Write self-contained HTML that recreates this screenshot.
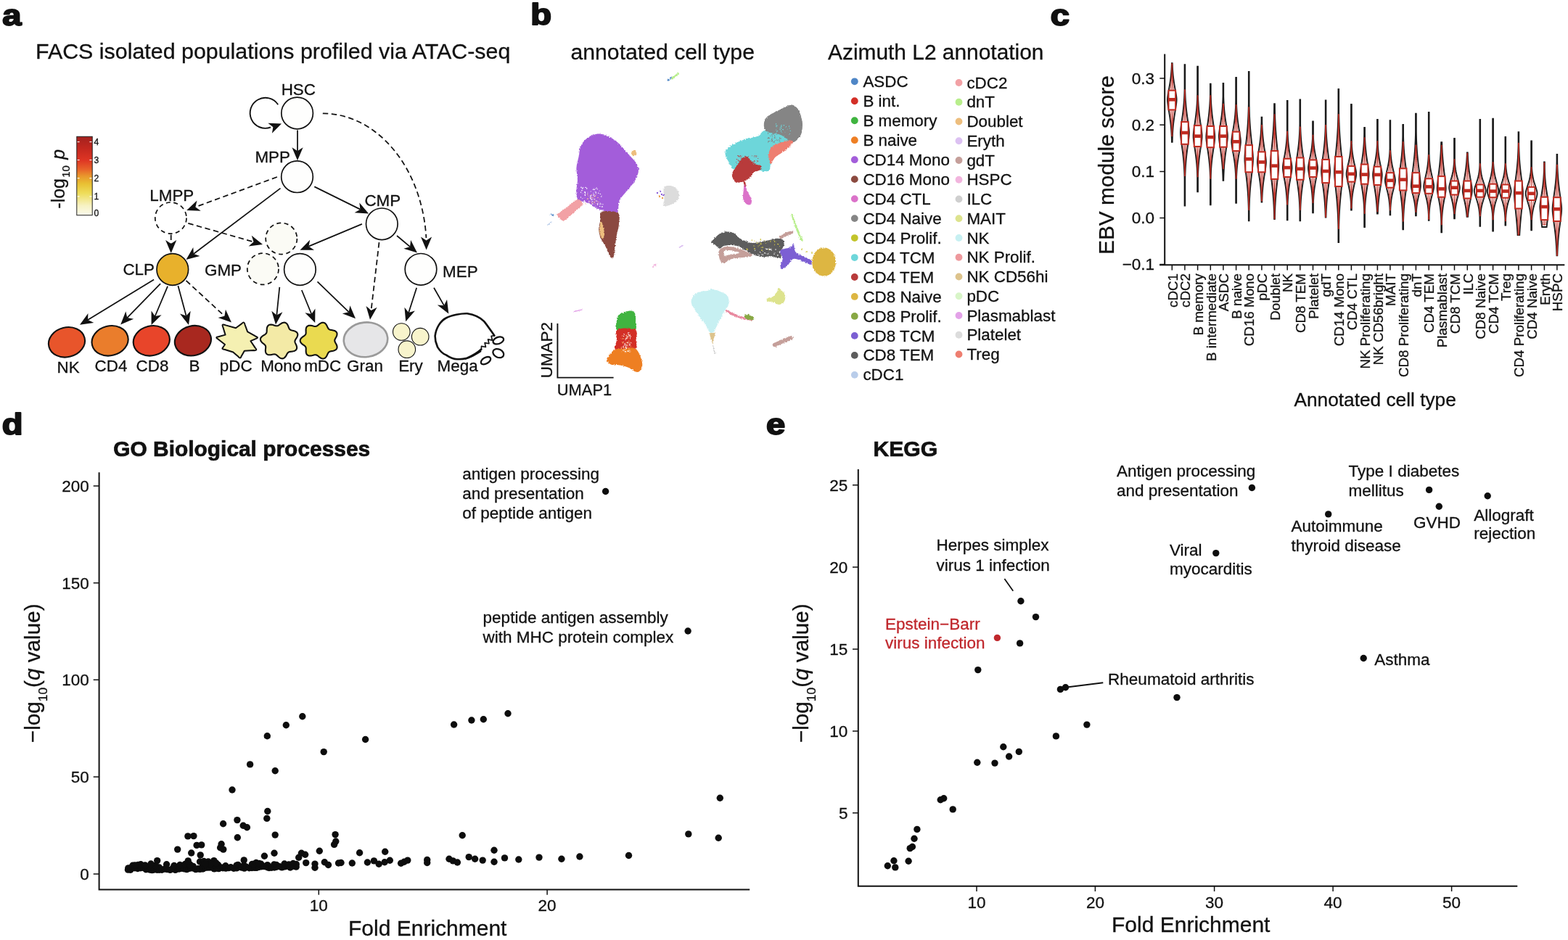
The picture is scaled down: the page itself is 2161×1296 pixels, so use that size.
<!DOCTYPE html>
<html><head><meta charset="utf-8"><title>Figure</title>
<style>
html,body{margin:0;padding:0;background:#fff;width:2161px;height:1296px;overflow:hidden;}
svg{display:block;}
text{font-family:"Liberation Sans", Arial, Helvetica, sans-serif;fill:#111;stroke:#111;stroke-width:0.3px;}
</style></head><body>
<svg width="2161" height="1296" viewBox="0 0 2161 1296">
<rect width="2161" height="1296" fill="#fff"/>
<text transform="translate(2 34.9) scale(1.15 1)" font-size="41" font-weight="bold" style="stroke-width:2px;stroke-linejoin:round" x="1" y="0">a</text>
<text x="49" y="80.8" font-size="30.4">FACS isolated populations profiled via ATAC-seq</text>
<defs><linearGradient id="cbar" x1="0" y1="1" x2="0" y2="0">
<stop offset="0" stop-color="#FBFAEC"/><stop offset="0.12" stop-color="#F7F2C4"/>
<stop offset="0.28" stop-color="#EEDD5A"/><stop offset="0.40" stop-color="#E9C033"/>
<stop offset="0.50" stop-color="#E9962C"/><stop offset="0.58" stop-color="#E8652A"/>
<stop offset="0.70" stop-color="#DE3524"/><stop offset="0.85" stop-color="#C3281F"/>
<stop offset="1" stop-color="#A3221F"/></linearGradient></defs>
<rect x="105.8" y="188.3" width="21.4" height="108.4" fill="url(#cbar)" stroke="#222" stroke-width="1"/>
<line x1="106.6" y1="270.9" x2="109.6" y2="270.9" stroke="#fff" stroke-width="1.1"/>
<line x1="123.4" y1="270.9" x2="126.4" y2="270.9" stroke="#fff" stroke-width="1.1"/>
<line x1="106.6" y1="245.7" x2="109.6" y2="245.7" stroke="#fff" stroke-width="1.1"/>
<line x1="123.4" y1="245.7" x2="126.4" y2="245.7" stroke="#fff" stroke-width="1.1"/>
<line x1="106.6" y1="220.6" x2="109.6" y2="220.6" stroke="#fff" stroke-width="1.1"/>
<line x1="123.4" y1="220.6" x2="126.4" y2="220.6" stroke="#fff" stroke-width="1.1"/>
<line x1="106.6" y1="195.6" x2="109.6" y2="195.6" stroke="#fff" stroke-width="1.1"/>
<line x1="123.4" y1="195.6" x2="126.4" y2="195.6" stroke="#fff" stroke-width="1.1"/>
<text x="129.4" y="199.9" font-size="12.2">4</text>
<text x="129.4" y="224.9" font-size="12.2">3</text>
<text x="129.4" y="250" font-size="12.2">2</text>
<text x="129.4" y="275.2" font-size="12.2">1</text>
<text x="129.4" y="297.8" font-size="12.2">0</text>
<text transform="translate(88.6 287.7) rotate(-90)" font-size="25">-log<tspan font-size="15" dy="7.3" dx="1.2">10</tspan><tspan dy="-7.3"> </tspan><tspan font-style="italic" dx="1.5">p</tspan></text>
<path d="M383.2 144.3 A21 21 0 1 0 373 175.5" fill="none" stroke="#111" stroke-width="1.9"/>
<path d="M388 170.6 L374.92 183.85 L376.35 175.14 L369.4 169.69Z" fill="#111"/>
<path d="M444.8 156.5 A142.6 185 0 0 1 587.4 328" fill="none" stroke="#111" stroke-width="1.75" stroke-dasharray="7.5 4.5"/>
<path d="M587.6 344.5 L579.93 326.53 L587.55 331.5 L595.13 326.47Z" fill="#111"/>
<line x1="410" y1="179.6" x2="410" y2="208.3" stroke="#111" stroke-width="1.75"/><path d="M410 221.3 L402.4 203.3 L410 208.3 L417.6 203.3Z" fill="#111"/>
<line x1="381.9" y1="244" x2="269.4" y2="285.41" stroke="#111" stroke-width="1.75" stroke-dasharray="7.5 4.5"/><path d="M257.2 289.9 L271.47 276.55 L269.4 285.41 L276.72 290.81Z" fill="#111"/>
<line x1="386.5" y1="259.6" x2="266.87" y2="350.06" stroke="#111" stroke-width="1.75"/><path d="M256.5 357.9 L266.27 340.98 L266.87 350.06 L275.44 353.11Z" fill="#111"/>
<line x1="433.3" y1="257.4" x2="496.45" y2="288.64" stroke="#111" stroke-width="1.75"/><path d="M508.1 294.4 L488.6 293.23 L496.45 288.64 L495.34 279.61Z" fill="#111"/>
<line x1="235.7" y1="323.5" x2="235.7" y2="336" stroke="#111" stroke-width="1.75" stroke-dasharray="7.5 4.5"/><path d="M235.7 349 L228.1 331 L235.7 336 L243.3 331Z" fill="#111"/>
<line x1="259.3" y1="307.9" x2="349.49" y2="333.46" stroke="#111" stroke-width="1.75" stroke-dasharray="7.5 4.5"/><path d="M362 337 L342.61 339.41 L349.49 333.46 L346.75 324.78Z" fill="#111"/>
<line x1="498.9" y1="308.9" x2="425.49" y2="339.67" stroke="#111" stroke-width="1.75"/><path d="M413.5 344.7 L427.16 330.73 L425.49 339.67 L433.04 344.75Z" fill="#111"/>
<line x1="547" y1="325" x2="565.04" y2="340.14" stroke="#111" stroke-width="1.75"/><path d="M575 348.5 L556.33 342.75 L565.04 340.14 L566.1 331.11Z" fill="#111"/>
<line x1="522.5" y1="334.2" x2="511.51" y2="427.89" stroke="#111" stroke-width="1.75" stroke-dasharray="7.5 4.5"/><path d="M510 440.8 L504.55 422.04 L511.51 427.89 L519.64 423.81Z" fill="#111"/>
<line x1="212.1" y1="385.6" x2="121.1" y2="441.04" stroke="#111" stroke-width="1.75"/><path d="M110 447.8 L121.42 431.94 L121.1 441.04 L129.33 444.93Z" fill="#111"/>
<line x1="221.1" y1="391.1" x2="175.28" y2="438.09" stroke="#111" stroke-width="1.75"/><path d="M166.2 447.4 L173.33 429.21 L175.28 438.09 L184.21 439.82Z" fill="#111"/>
<line x1="231.1" y1="394.6" x2="213.65" y2="436.02" stroke="#111" stroke-width="1.75"/><path d="M208.6 448 L208.59 428.46 L213.65 436.02 L222.59 434.36Z" fill="#111"/>
<line x1="245.4" y1="393.9" x2="256.61" y2="435.45" stroke="#111" stroke-width="1.75"/><path d="M260 448 L247.97 432.6 L256.61 435.45 L262.65 428.64Z" fill="#111"/>
<line x1="256.5" y1="386.9" x2="309.45" y2="435.78" stroke="#111" stroke-width="1.75" stroke-dasharray="7.5 4.5"/><path d="M319 444.6 L300.62 437.97 L309.45 435.78 L310.93 426.81Z" fill="#111"/>
<line x1="385.3" y1="395.8" x2="381.33" y2="434.57" stroke="#111" stroke-width="1.75"/><path d="M380 447.5 L374.28 428.82 L381.33 434.57 L389.4 430.37Z" fill="#111"/>
<line x1="415.8" y1="400" x2="429.28" y2="432.97" stroke="#111" stroke-width="1.75"/><path d="M434.2 445 L420.35 431.22 L429.28 432.97 L434.42 425.46Z" fill="#111"/>
<line x1="437.5" y1="388.3" x2="480.67" y2="430.15" stroke="#111" stroke-width="1.75"/><path d="M490 439.2 L471.79 432.13 L480.67 430.15 L482.37 421.21Z" fill="#111"/>
<line x1="574.2" y1="396.7" x2="563.18" y2="430.93" stroke="#111" stroke-width="1.75"/><path d="M559.2 443.3 L557.48 423.84 L563.18 430.93 L571.95 428.49Z" fill="#111"/>
<line x1="598" y1="396.7" x2="611.89" y2="421.19" stroke="#111" stroke-width="1.75"/><path d="M618.3 432.5 L602.81 420.59 L611.89 421.19 L616.03 413.09Z" fill="#111"/>
<circle cx="409.6" cy="156" r="21.8" fill="#FEFEFD" stroke="#111" stroke-width="1.7"/>
<circle cx="409.5" cy="243.7" r="21.8" fill="#FEFEFD" stroke="#111" stroke-width="1.7"/>
<circle cx="526.3" cy="308.8" r="21.8" fill="#FEFEFD" stroke="#111" stroke-width="1.7"/>
<circle cx="413.4" cy="371.5" r="21.8" fill="#FEFEFD" stroke="#111" stroke-width="1.7"/>
<circle cx="580" cy="371.3" r="21.8" fill="#FEFEFD" stroke="#111" stroke-width="1.7"/>
<circle cx="235.4" cy="300.6" r="21.6" fill="#FFFFFF" stroke="#111" stroke-width="1.7" stroke-dasharray="6 4.5"/>
<circle cx="362.4" cy="370.8" r="21.6" fill="#FBFBF5" stroke="#111" stroke-width="1.7" stroke-dasharray="6 4.5"/>
<circle cx="387.8" cy="329" r="21.6" fill="#FBFBF5" stroke="#111" stroke-width="1.7" stroke-dasharray="6 4.5"/>
<circle cx="237.8" cy="371.5" r="21.8" fill="#E8B12C" stroke="#111" stroke-width="1.7"/>
<text x="387.7" y="130.6" font-size="22.4">HSC</text>
<text x="351.4" y="223.7" font-size="22.4">MPP</text>
<text x="206.3" y="277" font-size="22.4">LMPP</text>
<text x="502.4" y="284.3" font-size="22.4">CMP</text>
<text x="169.4" y="379.4" font-size="22.4">CLP</text>
<text x="282" y="380" font-size="22.4">GMP</text>
<text x="610.1" y="382" font-size="22.4">MEP</text>
<ellipse cx="92" cy="471.8" rx="25.3" ry="20.4" fill="#E8552B" stroke="#111" stroke-width="2.1" transform="rotate(-14 92 471.8)"/>
<ellipse cx="151.6" cy="469.8" rx="25.3" ry="20.4" fill="#EA7D2C" stroke="#111" stroke-width="2.1" transform="rotate(-14 151.6 469.8)"/>
<ellipse cx="208.8" cy="469.8" rx="25.3" ry="20.4" fill="#E8452A" stroke="#111" stroke-width="2.1" transform="rotate(-14 208.8 469.8)"/>
<ellipse cx="265.9" cy="469.7" rx="25.3" ry="20.4" fill="#A8281F" stroke="#111" stroke-width="2.1" transform="rotate(-14 265.9 469.7)"/>
<path d="M310.55 461.65 L307.26 450.81 Q304.87 445.71 311.01 448.36 L325 452.24 L333.29 446.14 Q336.78 442.53 337.49 447.48 L341.15 457.37 L351.92 463.46 Q357.45 465.43 353.03 466.8 L345.43 470.21 L351.77 479.6 Q355.64 483.76 349.55 483.11 L336.87 483.69 L332.6 491.32 Q331.37 495.53 328.54 491.79 L321.25 485.51 L310.04 481.95 Q304.87 481.43 307.12 479.23 L310.02 475.03 L300.75 467.68 Q295.75 464.9 300.89 464.2 L310.55 461.65Z" fill="#F5F0B2" stroke="#111" stroke-width="2" stroke-linejoin="round"/>
<path d="M406.73 469.2 L406.5 469.91 L406.41 470.61 L406.46 471.32 L406.64 472.06 L406.92 472.84 L407.29 473.66 L407.7 474.53 L408.13 475.44 L408.52 476.4 L408.84 477.37 L409.05 478.36 L409.13 479.32 L409.05 480.25 L408.8 481.12 L408.37 481.91 L407.78 482.6 L407.04 483.18 L406.17 483.66 L405.21 484.03 L404.19 484.3 L403.13 484.5 L402.09 484.64 L401.08 484.75 L400.13 484.87 L399.26 485.03 L398.48 485.24 L397.79 485.54 L397.19 485.94 L396.66 486.46 L396.17 487.08 L395.73 487.8 L395.28 488.61 L394.82 489.48 L394.33 490.37 L393.78 491.25 L393.16 492.08 L392.47 492.83 L391.71 493.45 L390.89 493.92 L390.01 494.22 L389.09 494.34 L388.15 494.28 L387.21 494.04 L386.29 493.65 L385.4 493.12 L384.55 492.5 L383.75 491.82 L382.99 491.13 L382.28 490.45 L381.6 489.84 L380.94 489.31 L380.27 488.89 L379.59 488.6 L378.88 488.43 L378.11 488.39 L377.28 488.44 L376.39 488.58 L375.44 488.76 L374.43 488.96 L373.39 489.13 L372.32 489.25 L371.26 489.28 L370.24 489.19 L369.28 488.97 L368.4 488.6 L367.64 488.09 L367.01 487.44 L366.52 486.67 L366.17 485.79 L365.96 484.83 L365.86 483.82 L365.86 482.8 L365.93 481.78 L366.04 480.79 L366.14 479.85 L366.2 478.98 L366.19 478.17 L366.09 477.44 L365.87 476.76 L365.52 476.13 L365.05 475.53 L364.46 474.95 L363.77 474.37 L363 473.76 L362.21 473.12 L361.42 472.43 L360.68 471.69 L360.03 470.9 L359.5 470.07 L359.13 469.2 L358.93 468.31 L358.93 467.43 L359.12 466.55 L359.5 465.71 L360.05 464.92 L360.73 464.18 L361.52 463.5 L362.37 462.87 L363.25 462.3 L364.11 461.78 L364.92 461.27 L365.65 460.77 L366.27 460.26 L366.77 459.71 L367.15 459.11 L367.42 458.43 L367.58 457.68 L367.66 456.86 L367.7 455.95 L367.72 454.99 L367.76 453.98 L367.85 452.96 L368.01 451.95 L368.28 450.99 L368.67 450.09 L369.18 449.31 L369.81 448.65 L370.57 448.14 L371.43 447.78 L372.37 447.59 L373.38 447.54 L374.42 447.63 L375.46 447.82 L376.5 448.09 L377.5 448.4 L378.45 448.71 L379.35 448.99 L380.2 449.2 L380.99 449.32 L381.74 449.32 L382.46 449.19 L383.18 448.93 L383.89 448.55 L384.63 448.07 L385.4 447.52 L386.21 446.93 L387.07 446.33 L387.97 445.78 L388.91 445.3 L389.87 444.93 L390.83 444.71 L391.79 444.65 L392.71 444.77 L393.59 445.07 L394.39 445.54 L395.12 446.16 L395.75 446.92 L396.31 447.78 L396.78 448.69 L397.19 449.64 L397.55 450.58 L397.88 451.47 L398.22 452.3 L398.58 453.04 L399 453.67 L399.49 454.2 L400.08 454.64 L400.76 454.99 L401.54 455.27 L402.42 455.52 L403.37 455.75 L404.37 455.99 L405.4 456.28 L406.4 456.63 L407.36 457.05 L408.23 457.57 L408.98 458.18 L409.58 458.89 L410 459.68 L410.25 460.53 L410.32 461.44 L410.21 462.38 L409.95 463.34 L409.56 464.28 L409.09 465.2 L408.56 466.08 L408.02 466.92 L407.51 467.72 L407.07 468.48Z" fill="#F3EAA6" stroke="#111" stroke-width="2.1" stroke-linejoin="round"/>
<path d="M461.26 469.6 L461.34 470.31 L461.56 471.03 L461.88 471.78 L462.29 472.57 L462.76 473.41 L463.25 474.29 L463.71 475.22 L464.11 476.17 L464.4 477.13 L464.56 478.1 L464.57 479.03 L464.4 479.92 L464.05 480.74 L463.52 481.48 L462.84 482.12 L462.02 482.66 L461.1 483.1 L460.1 483.45 L459.07 483.72 L458.03 483.93 L457.03 484.11 L456.08 484.29 L455.21 484.49 L454.44 484.75 L453.76 485.08 L453.17 485.51 L452.67 486.04 L452.23 486.68 L451.82 487.42 L451.44 488.25 L451.04 489.13 L450.61 490.05 L450.13 490.97 L449.58 491.85 L448.95 492.64 L448.25 493.33 L447.46 493.87 L446.62 494.25 L445.71 494.45 L444.78 494.46 L443.82 494.3 L442.88 493.98 L441.95 493.53 L441.05 492.97 L440.2 492.35 L439.39 491.71 L438.63 491.07 L437.91 490.49 L437.21 490 L436.52 489.61 L435.82 489.35 L435.1 489.21 L434.33 489.2 L433.52 489.29 L432.65 489.48 L431.72 489.71 L430.73 489.97 L429.7 490.22 L428.65 490.41 L427.59 490.52 L426.56 490.51 L425.58 490.37 L424.67 490.07 L423.86 489.63 L423.17 489.04 L422.62 488.31 L422.19 487.47 L421.9 486.53 L421.72 485.54 L421.64 484.52 L421.64 483.49 L421.67 482.5 L421.71 481.55 L421.72 480.67 L421.66 479.85 L421.52 479.11 L421.27 478.45 L420.89 477.83 L420.39 477.27 L419.77 476.72 L419.06 476.18 L418.26 475.63 L417.43 475.04 L416.59 474.41 L415.79 473.72 L415.07 472.98 L414.47 472.19 L414.02 471.35 L413.75 470.48 L413.66 469.6 L413.77 468.72 L414.07 467.85 L414.54 467.02 L415.16 466.23 L415.89 465.49 L416.69 464.81 L417.52 464.18 L418.35 463.6 L419.13 463.04 L419.84 462.5 L420.43 461.95 L420.91 461.37 L421.27 460.75 L421.5 460.07 L421.62 459.32 L421.66 458.5 L421.64 457.6 L421.59 456.65 L421.56 455.65 L421.57 454.62 L421.65 453.6 L421.84 452.61 L422.15 451.69 L422.59 450.86 L423.16 450.15 L423.87 449.58 L424.69 449.15 L425.61 448.88 L426.6 448.75 L427.64 448.76 L428.7 448.87 L429.75 449.07 L430.77 449.31 L431.75 449.57 L432.67 449.79 L433.54 449.96 L434.34 450.04 L435.1 450 L435.82 449.84 L436.51 449.56 L437.2 449.15 L437.9 448.63 L438.63 448.04 L439.39 447.4 L440.2 446.75 L441.06 446.13 L441.95 445.59 L442.88 445.14 L443.83 444.84 L444.78 444.7 L445.72 444.74 L446.61 444.96 L447.45 445.36 L448.23 445.93 L448.93 446.63 L449.55 447.43 L450.09 448.32 L450.57 449.23 L451 450.15 L451.39 451.03 L451.79 451.84 L452.2 452.56 L452.65 453.18 L453.17 453.7 L453.77 454.11 L454.47 454.42 L455.26 454.66 L456.14 454.86 L457.09 455.03 L458.11 455.21 L459.14 455.42 L460.18 455.7 L461.17 456.05 L462.08 456.5 L462.89 457.05 L463.55 457.71 L464.05 458.46 L464.38 459.29 L464.53 460.18 L464.5 461.13 L464.33 462.09 L464.02 463.06 L463.61 464.01 L463.15 464.93 L462.67 465.8 L462.21 466.64 L461.81 467.42 L461.51 468.17 L461.32 468.89Z" fill="#EADA50" stroke="#111" stroke-width="2.1" stroke-linejoin="round"/>
<ellipse cx="504" cy="468.3" rx="30.3" ry="23.8" fill="#E6E6E8" stroke="#9A9A9A" stroke-width="2.6" transform="rotate(-6 504 468.3)"/>
<circle cx="553.3" cy="457.5" r="11.8" fill="#F8F4CC" stroke="#111" stroke-width="1.1"/>
<circle cx="579.2" cy="464.2" r="11.8" fill="#F8F4CC" stroke="#111" stroke-width="1.1"/>
<circle cx="560.8" cy="481.7" r="11.8" fill="#F8F4CC" stroke="#111" stroke-width="1.1"/>
<path d="M663.3 481.7 C656 488 650 491 642.5 494.1 C640 494.8 636 495.5 630.1 495.2 C625 495.2 620 493 614.7 489.4 C611 488 607 485 603.1 478.6 C601 474 599.5 471 599.6 463.2 C601 452 607 442.5 614.7 438.5 C622 434.5 636 432 644 432.3 C655 434 662 438 667.2 443.1 C672 449 678 458 681.4 462.8 L663.54 477.4 L669.41 478.5 L668.07 472.68 L673.94 473.77 L672.59 467.95 L678.46 469.05 L677.12 463.23 Z" fill="#fff"/>
<path d="M663.3 481.7 C656 488 650 491 642.5 494.1 C640 494.8 636 495.5 630.1 495.2 C625 495.2 620 493 614.7 489.4 C611 488 607 485 603.1 478.6 C601 474 599.5 471 599.6 463.2 C601 452 607 442.5 614.7 438.5 C622 434.5 636 432 644 432.3 C655 434 662 438 667.2 443.1 C672 449 678 458 681.4 462.8" fill="none" stroke="#111" stroke-width="2.6" stroke-linecap="round"/>
<path d="M681.4 462.8 L677.12 463.23 L678.46 469.05 L672.59 467.95 L673.94 473.77 L668.07 472.68 L669.41 478.5 L663.54 477.4 L663.3 481.7" fill="none" stroke="#111" stroke-width="1.7" stroke-linejoin="round"/>
<path d="M640 494.5 C648 491.5 655 487.5 662 481 L663.5 485 C656 490 648 494 641 496Z" fill="#111"/>
<ellipse cx="686.8" cy="469.4" rx="7.6" ry="4.6" fill="none" stroke="#111" stroke-width="2.3" transform="rotate(-20 686.8 469.4)"/>
<ellipse cx="686.8" cy="487.1" rx="7.8" ry="5.6" fill="none" stroke="#111" stroke-width="2.3" transform="rotate(25 686.8 487.1)"/>
<ellipse cx="669.5" cy="497.2" rx="7.4" ry="4.2" fill="none" stroke="#111" stroke-width="2.3" transform="rotate(-30 669.5 497.2)"/>
<text x="78.5" y="514" font-size="22.4">NK</text>
<text x="130.6" y="512" font-size="22.4">CD4</text>
<text x="187.6" y="512" font-size="22.4">CD8</text>
<text x="260.4" y="512" font-size="22.4">B</text>
<text x="302.8" y="512" font-size="22.4">pDC</text>
<text x="359.2" y="511.7" font-size="22.4">Mono</text>
<text x="419.2" y="511.7" font-size="22.4">mDC</text>
<text x="478.1" y="511.7" font-size="22.4">Gran</text>
<text x="549.2" y="511.7" font-size="22.4">Ery</text>
<text x="602.6" y="511.8" font-size="22.4">Mega</text>
<text transform="translate(730 34.4) scale(1.15 1)" font-size="41" font-weight="bold" style="stroke-width:2px;stroke-linejoin:round" x="1" y="0">b</text>
<text x="786.5" y="82.2" font-size="30.2">annotated cell type</text>
<text x="1141" y="82.4" font-size="29.9">Azimuth L2 annotation</text>
<defs><filter id="rough" x="-5%" y="-5%" width="110%" height="110%"><feTurbulence type="fractalNoise" baseFrequency="0.55" numOctaves="2" seed="3" result="n"/><feDisplacementMap in="SourceGraphic" in2="n" scale="3.2" xChannelSelector="R" yChannelSelector="G"/></filter></defs>
<g filter="url(#rough)">
<path d="M822.2 184.7 C826.32 184.05 830.38 184.8 834.5 186.2 C838.62 187.6 843.3 190.65 846.9 193.1 C850.5 195.55 853.02 197.8 856.1 200.9 C859.18 204 862.05 207.85 865.4 211.7 C868.75 215.55 873.77 220.15 876.2 224 C878.63 227.85 880 230.93 880 234.8 C880 238.67 878.12 243.33 876.2 247.2 C874.28 251.07 871.33 254.4 868.5 258 C865.67 261.6 861.78 265.47 859.2 268.8 C856.62 272.13 854.28 274.15 853 278 C851.72 281.85 853.03 289.32 851.5 291.9 C849.97 294.48 847.15 293.75 843.8 293.5 C840.45 293.25 835 291.43 831.4 290.4 C827.8 289.37 825.28 288.85 822.2 287.3 C819.12 285.75 816 282.65 812.9 281.1 C809.8 279.55 806.43 279.03 803.6 278 C800.77 276.97 797.43 277.47 795.9 274.9 C794.37 272.33 794.4 267.22 794.4 262.6 C794.4 257.98 795.9 252.35 795.9 247.2 C795.9 242.05 794.13 236.85 794.4 231.7 C794.67 226.55 796.47 221.43 797.5 216.3 C798.53 211.17 798.55 205.27 800.6 200.9 C802.65 196.53 806.2 192.8 809.8 190.1 C813.4 187.4 818.08 185.35 822.2 184.7Z" fill="#A35DDA"/>
<path d="M768.1 296.5 C768.62 298.57 773.32 303.78 775.9 304.3 C778.48 304.82 780.27 302.18 783.6 299.6 C786.93 297.02 792.57 291.88 795.9 288.8 C799.23 285.72 803.6 283.42 803.6 281.1 C803.6 278.78 798.98 274.63 795.9 274.9 C792.82 275.17 788.95 279.87 785.1 282.7 C781.25 285.53 775.63 289.6 772.8 291.9 C769.97 294.2 767.58 294.43 768.1 296.5Z" fill="#F2A1A5"/>
<path d="M829.1 291.9 C833.08 290.37 847.52 290.67 851.5 293.5 C855.48 296.33 853.27 303.77 853 308.9 C852.73 314.03 850.8 319.15 849.9 324.3 C849 329.45 848.37 334.65 847.6 339.8 C846.83 344.95 846.45 352.9 845.3 355.2 C844.15 357.5 842.5 356.17 840.7 353.6 C838.9 351.03 836.57 343.9 834.5 339.8 C832.43 335.7 829.85 332.87 828.3 329 C826.75 325.13 825.32 320.98 825.2 316.6 C825.08 312.22 826.95 306.82 827.6 302.7 C828.25 298.58 825.12 293.43 829.1 291.9Z" fill="#8B4A40"/>
<path d="M828.3 305.8 C829.2 304.78 830.62 308.92 831.4 312 C832.18 315.08 833.25 321.47 833 324.3 C832.75 327.13 831.07 330.03 829.9 329 C828.73 327.97 826.27 321.97 826 318.1 C825.73 314.23 827.4 306.82 828.3 305.8Z" fill="#EDBE7E"/>
<path d="M870 209 C870.67 207.83 874.83 207.33 876 208 C877.17 208.67 877.67 211.83 877 213 C876.33 214.17 873.17 215.67 872 215 C870.83 214.33 869.33 210.17 870 209Z" fill="#EDBE7E"/>
<line x1="759" y1="295" x2="763" y2="297.5" stroke="#4F86C6" stroke-width="1.6"/>
<line x1="754.3" y1="310.4" x2="760.4" y2="305.8" stroke="#B9CDEA" stroke-width="1.2"/>
<path d="M1052.2 180.5 C1054.3 179.38 1056.2 178.08 1060 178.5 C1063.8 178.92 1070.33 181 1075 183 C1079.67 185 1085.17 188.08 1088 190.5 C1090.83 192.92 1095.57 195.58 1092 197.5 C1088.43 199.42 1071.83 199.65 1066.6 202 C1061.37 204.35 1061.4 207.62 1060.6 211.6 C1059.8 215.58 1062 221.92 1061.8 225.9 C1061.6 229.88 1061.4 233.9 1059.4 235.5 C1057.4 237.1 1053.4 236.3 1049.8 235.5 C1046.2 234.7 1041.78 231.9 1037.8 230.7 C1033.82 229.5 1030.28 227.9 1025.9 228.3 C1021.52 228.7 1014.88 233.5 1011.5 233.1 C1008.12 232.7 1007.58 229.28 1005.6 225.9 C1003.62 222.52 1000.2 216.18 999.6 212.8 C999 209.42 999.62 208.2 1002 205.6 C1004.38 203 1009.32 199.6 1013.9 197.2 C1018.48 194.8 1024.92 192.6 1029.5 191.2 C1034.08 189.8 1038.42 189.8 1041.4 188.8 C1044.38 187.8 1045.6 186.58 1047.4 185.2 C1049.2 183.82 1050.1 181.62 1052.2 180.5Z" fill="#6DD6DA"/>
<path d="M1091.7 144.6 C1094.48 145.2 1097.92 147.82 1100 150.6 C1102.08 153.38 1103.2 157.92 1104.2 161.3 C1105.2 164.68 1105.9 167.32 1106 170.9 C1106.1 174.48 1105.6 179.62 1104.8 182.8 C1104 185.98 1102.98 187.8 1101.2 190 C1099.42 192.2 1096.28 195.2 1094.1 196 C1091.92 196.8 1090.3 196 1088.1 194.8 C1085.9 193.6 1083.3 190.4 1080.9 188.8 C1078.5 187.2 1076.88 186.2 1073.7 185.2 C1070.52 184.2 1064.98 183.78 1061.8 182.8 C1058.62 181.82 1056.1 181.28 1054.6 179.3 C1053.1 177.32 1052.6 173.7 1052.8 170.9 C1053 168.1 1053.9 164.9 1055.8 162.5 C1057.7 160.1 1061.22 158.3 1064.2 156.5 C1067.18 154.7 1070.52 153.28 1073.7 151.7 C1076.88 150.12 1080.3 148.18 1083.3 147 C1086.3 145.82 1088.92 144 1091.7 144.6Z" fill="#858585"/>
<path d="M1088.1 193.6 C1091.3 193.4 1093.3 194.2 1092.9 196 C1092.5 197.8 1088.5 201.8 1085.7 204.4 C1082.9 207 1079.08 209.42 1076.1 211.6 C1073.12 213.78 1069.98 215.12 1067.8 217.5 C1065.62 219.88 1064.2 224.9 1063 225.9 C1061.8 226.9 1061.2 225.88 1060.6 223.5 C1060 221.12 1058.8 215.18 1059.4 211.6 C1060 208.02 1061.82 204.4 1064.2 202 C1066.58 199.6 1069.72 198.6 1073.7 197.2 C1077.68 195.8 1084.9 193.8 1088.1 193.6Z" fill="#EE7E70"/>
<path d="M1029.5 216.3 C1032.48 217.5 1037.02 223.9 1040.2 225.9 C1043.38 227.9 1047.4 226.9 1048.6 228.3 C1049.8 229.7 1049.2 232.7 1047.4 234.3 C1045.6 235.9 1039.78 236.5 1037.8 237.9 C1035.82 239.3 1037.48 240.72 1035.5 242.7 C1033.52 244.68 1029.5 248.42 1025.9 249.8 C1022.3 251.18 1016.7 252.18 1013.9 251 C1011.1 249.82 1009.7 245.28 1009.1 242.7 C1008.5 240.12 1008.9 238.3 1010.3 235.5 C1011.7 232.7 1015.5 228.7 1017.5 225.9 C1019.5 223.1 1020.3 220.3 1022.3 218.7 C1024.3 217.1 1026.52 215.1 1029.5 216.3Z" fill="#B83B3B"/>
<line x1="1025.5" y1="250" x2="1027.5" y2="257" stroke="#B83B3B" stroke-width="2.5"/>
<path d="M1025.9 254.6 C1026.7 254.4 1027.9 258.22 1029.5 261.8 C1031.1 265.38 1034.7 272.72 1035.5 276.1 C1036.3 279.48 1035.5 281.3 1034.3 282.1 C1033.1 282.9 1030 282.28 1028.3 280.9 C1026.6 279.52 1024.7 276.78 1024.1 273.8 C1023.5 270.82 1024.4 266.2 1024.7 263 C1025 259.8 1025.1 254.8 1025.9 254.6Z" fill="#DB72C9"/>
<path d="M991 346 C993 340 1003 339 1012 341 C1022 343 1030 347 1038.3 351.6 C1035 355 1025 355 1018 355.5 C1008 356.5 1003 358 1000 363 L995 363 C991 358 990 352 991 346Z" fill="#C59F9A"/>
<path d="M997 346 C1003 344 1012 345 1020 349 C1012 351 1004 351 998 353Z" fill="#fff"/>
<path d="M980.3 334 C980.73 331.95 985.42 327.55 988.2 325.2 C990.98 322.85 993.33 320.63 997 319.9 C1000.67 319.17 1006.83 319.63 1010.2 320.8 C1013.57 321.97 1014.85 325.15 1017.2 326.9 C1019.55 328.65 1021.07 329.97 1024.3 331.3 C1027.53 332.63 1032.35 334.6 1036.6 334.9 C1040.85 335.2 1045.4 333.83 1049.8 333.1 C1054.2 332.37 1059.63 331.23 1063 330.5 C1066.37 329.77 1067.37 328.7 1070 328.7 C1072.63 328.7 1077.05 328.88 1078.8 330.5 C1080.55 332.12 1080.95 335.77 1080.5 338.4 C1080.05 341.03 1076.83 343.37 1076.1 346.3 C1075.37 349.23 1078.28 354.83 1076.1 356 C1073.92 357.17 1067.38 353.6 1063 353.3 C1058.62 353 1054.2 354.78 1049.8 354.2 C1045.4 353.62 1040.57 351.42 1036.6 349.8 C1032.63 348.18 1029.23 346.25 1026 344.5 C1022.77 342.75 1020.57 340.4 1017.2 339.3 C1013.83 338.2 1009.17 337.9 1005.8 337.9 C1002.43 337.9 999.35 338.48 997 339.3 C994.65 340.12 993.6 343.1 991.7 342.8 C989.8 342.5 987.5 338.97 985.6 337.5 C983.7 336.03 979.87 336.05 980.3 334Z" fill="#5D5D5D"/>
<path d="M1073.5 326.1 C1080 322 1086 319 1092.9 318.1 L1093.5 321.5 C1087 324 1081 327 1075.5 330Z" fill="#C59F9A"/>
<line x1="1091.5" y1="296.2" x2="1098" y2="315" stroke="#B8EE8C" stroke-width="2.6" stroke-linecap="round"/>
<line x1="1098" y1="315" x2="1105.2" y2="331.3" stroke="#B8EE8C" stroke-width="3" stroke-linecap="round"/>
<path d="M1075.3 345.4 C1077.05 342.77 1086.23 342.62 1089.3 341 C1092.37 339.38 1092.52 334.67 1093.7 335.7 C1094.88 336.73 1094.2 344.27 1096.4 347.2 C1098.6 350.13 1103.38 351.4 1106.9 353.3 C1110.42 355.2 1115.73 356.68 1117.5 358.6 C1119.27 360.52 1119.27 364.5 1117.5 364.8 C1115.73 365.1 1110.87 361.73 1106.9 360.4 C1102.93 359.07 1097.22 355.93 1093.7 356.8 C1090.18 357.67 1088.58 363.25 1085.8 365.6 C1083.02 367.95 1078.62 371.03 1077 370.9 C1075.38 370.77 1075.8 367.15 1076.1 364.8 C1076.4 362.45 1078.93 360.03 1078.8 356.8 C1078.67 353.57 1073.55 348.03 1075.3 345.4Z" fill="#7B5FD3"/>
<ellipse cx="1135.6" cy="361.2" rx="16.4" ry="19.6" fill="#DDB642"/>
<circle cx="1030" cy="344" r="0.9" fill="#D4C84A"/>
<circle cx="1040" cy="343" r="0.9" fill="#D4C84A"/>
<circle cx="1050" cy="345" r="0.9" fill="#D4C84A"/>
<circle cx="1060" cy="344" r="0.9" fill="#D4C84A"/>
<circle cx="1105" cy="344" r="0.9" fill="#D4C84A"/>
<circle cx="1112" cy="347" r="0.9" fill="#D4C84A"/>
<circle cx="1119" cy="348" r="0.9" fill="#D4C84A"/>
<path d="M981.5 398.6 C984.47 398.75 989.25 400.73 992.5 402 C995.75 403.27 999.02 404.37 1001 406.2 C1002.98 408.03 1003.97 410.45 1004.4 413 C1004.83 415.55 1004.45 419.1 1003.6 421.5 C1002.75 423.9 1000.87 424.72 999.3 427.4 C997.73 430.08 995.9 434.33 994.2 437.6 C992.5 440.87 990.93 443.6 989.1 447 C987.27 450.4 985.03 456.17 983.2 458 C981.37 459.83 979.8 459.55 978.1 458 C976.4 456.45 975.4 452.38 973 448.7 C970.6 445.02 966.67 440.15 963.7 435.9 C960.73 431.65 957.05 426.73 955.2 423.2 C953.35 419.67 952.32 417.53 952.6 414.7 C952.88 411.87 954.77 408.32 956.9 406.2 C959.03 404.08 962.43 402.85 965.4 402 C968.37 401.15 972.02 401.67 974.7 401.1 C977.38 400.53 978.53 398.45 981.5 398.6Z" fill="#C7F0F2"/>
<path d="M977.3 458.9 L985.7 458.9 L982.4 475Z" fill="#DDC38C"/>
<path d="M982.6 476 Q983 482 985.7 487.7" fill="none" stroke="#C9C9C9" stroke-width="1"/>
<path d="M1000 428 C1010 434 1022 440 1037 440.5" fill="none" stroke="#E8889E" stroke-width="3.2"/>
<path d="M1025.6 436 C1025.6 434.82 1028.6 433.57 1030 433.4 C1031.4 433.23 1032.6 434.4 1034 435 C1035.4 435.6 1037.67 436 1038.4 437 C1039.13 438 1039.8 440.42 1038.4 441 C1037 441.58 1032.13 441.33 1030 440.5 C1027.87 439.67 1025.6 437.18 1025.6 436Z" fill="#88A844"/>
<path d="M1073.2 396.9 C1074.77 397.18 1078.45 401.43 1080 403.7 C1081.55 405.97 1082.65 408.1 1082.5 410.5 C1082.35 412.9 1080.8 416.55 1079.1 418.1 C1077.4 419.65 1074.57 420.08 1072.3 419.8 C1070.03 419.52 1068.05 417.1 1065.5 416.4 C1062.95 415.7 1058.27 416.45 1057 415.6 C1055.73 414.75 1056.48 412.43 1057.9 411.3 C1059.32 410.17 1063.38 410.35 1065.5 408.8 C1067.62 407.25 1069.32 403.98 1070.6 402 C1071.88 400.02 1071.63 396.62 1073.2 396.9Z" fill="#DDE38E"/>
<line x1="1067.5" y1="475.5" x2="1090" y2="465.8" stroke="#C59F9A" stroke-width="5.5" stroke-linecap="round"/>
<path d="M855.8 432 C858.98 430.27 866.42 428.3 869.7 428.5 C872.98 428.7 874.45 430.5 875.5 433.2 C876.55 435.9 876.1 441.03 876 444.7 C875.9 448.37 879.05 453.45 874.9 455.2 C870.75 456.95 855.15 457.92 851.1 455.2 C847.05 452.48 849.82 442.77 850.6 438.9 C851.38 435.03 852.62 433.73 855.8 432Z" fill="#3FB43F"/>
<path d="M851.1 454.2 C855.35 451.92 871.25 451.92 875.5 454.2 C879.75 456.48 876.6 463.3 876.6 467.9 C876.6 472.5 878.97 478.72 875.5 481.8 C872.03 484.88 860.43 486.4 855.8 486.4 C851.17 486.4 848.67 484.88 847.7 481.8 C846.73 478.72 849.43 472.5 850 467.9 C850.57 463.3 846.85 456.48 851.1 454.2Z" fill="#D32F27"/>
<path d="M847.7 481.8 C851.25 480.35 857.37 480.2 862 480 C866.63 479.8 872.1 478.77 875.5 480.6 C878.9 482.43 880.77 487.33 882.4 491 C884.03 494.67 885.3 499.32 885.3 502.6 C885.3 505.88 883.85 508.97 882.4 510.7 C880.95 512.43 879.1 513.57 876.6 513 C874.1 512.43 870.87 508.83 867.4 507.3 C863.93 505.77 860.05 504.58 855.8 503.8 C851.55 503.02 845.18 503.95 841.9 502.6 C838.62 501.25 836.3 498.02 836.1 495.7 C835.9 493.38 838.77 491.02 840.7 488.7 C842.63 486.38 844.15 483.25 847.7 481.8Z" fill="#EE7F24"/>
<line x1="789" y1="430" x2="802.5" y2="426.8" stroke="#E3A2E8" stroke-width="1.3"/>
<path d="M916 257.5 C917.92 255.92 923 255.75 926 256.5 C929 257.25 932.33 259.75 934 262 C935.67 264.25 936.33 267.33 936 270 C935.67 272.67 934.33 275.83 932 278 C929.67 280.17 925 282.08 922 283 C919 283.92 915.08 284.67 914 283.5 C912.92 282.33 915.42 278.92 915.5 276 C915.58 273.08 914.42 269.08 914.5 266 C914.58 262.92 914.08 259.08 916 257.5Z" fill="#DCDCDC"/>
<circle cx="906" cy="266" r="1.2" fill="#8A5ED8"/>
<circle cx="910" cy="264" r="1.2" fill="#8A5ED8"/>
<circle cx="912" cy="268" r="1.2" fill="#8A5ED8"/>
<circle cx="909" cy="271" r="1.2" fill="#E8A050"/>
<circle cx="913" cy="273" r="1.2" fill="#E8A050"/>
<circle cx="915" cy="269" r="1.2" fill="#8A5ED8"/>
<line x1="920.5" y1="110.8" x2="925.5" y2="107.5" stroke="#4F86C6" stroke-width="2" stroke-linecap="round"/>
<line x1="926" y1="108.5" x2="934.8" y2="101.2" stroke="#B8EE8C" stroke-width="2.2" stroke-linecap="round"/>
<line x1="936.5" y1="341" x2="941" y2="338.5" stroke="#DCC1F2" stroke-width="1.6" stroke-linecap="round"/>
<line x1="900" y1="368" x2="904" y2="364.5" stroke="#F2B5DE" stroke-width="2" stroke-linecap="round"/>
<circle cx="813.57" cy="273.11" r="0.87" fill="#ffffff"/>
<circle cx="813.97" cy="271.71" r="0.73" fill="#ffffff"/>
<circle cx="805.54" cy="271.82" r="0.75" fill="#ffffff"/>
<circle cx="823.79" cy="260.54" r="0.62" fill="#ffffff"/>
<circle cx="802.72" cy="279.86" r="0.78" fill="#ffffff"/>
<circle cx="801.26" cy="284.52" r="0.89" fill="#ffffff"/>
<circle cx="819.62" cy="274.62" r="0.56" fill="#ffffff"/>
<circle cx="800.45" cy="272.27" r="0.52" fill="#ffffff"/>
<circle cx="805.71" cy="264.53" r="0.51" fill="#ffffff"/>
<circle cx="813.92" cy="269.89" r="0.84" fill="#ffffff"/>
<circle cx="815.57" cy="275.29" r="0.7" fill="#ffffff"/>
<circle cx="819.87" cy="270.35" r="0.61" fill="#ffffff"/>
<circle cx="829.93" cy="284.88" r="0.84" fill="#ffffff"/>
<circle cx="821.23" cy="266.51" r="0.59" fill="#ffffff"/>
<circle cx="808.67" cy="259.9" r="0.81" fill="#ffffff"/>
<circle cx="812.01" cy="280.86" r="0.65" fill="#ffffff"/>
<circle cx="828.74" cy="280.88" r="0.5" fill="#ffffff"/>
<circle cx="806.29" cy="282.58" r="0.69" fill="#ffffff"/>
<circle cx="829.41" cy="268.73" r="0.53" fill="#ffffff"/>
<circle cx="818.88" cy="279.02" r="0.61" fill="#ffffff"/>
<circle cx="802.61" cy="266.98" r="0.89" fill="#ffffff"/>
<circle cx="822.74" cy="261.19" r="0.6" fill="#ffffff"/>
<circle cx="803.03" cy="259.62" r="0.82" fill="#ffffff"/>
<circle cx="805.33" cy="273.1" r="0.68" fill="#ffffff"/>
<circle cx="805.72" cy="277.76" r="0.55" fill="#ffffff"/>
<circle cx="819.31" cy="261.15" r="0.67" fill="#ffffff"/>
<circle cx="806.39" cy="265.28" r="0.89" fill="#ffffff"/>
<circle cx="824.1" cy="266.21" r="0.85" fill="#ffffff"/>
<circle cx="806.32" cy="268.65" r="0.84" fill="#ffffff"/>
<circle cx="819.26" cy="260.71" r="0.9" fill="#ffffff"/>
<circle cx="806.4" cy="264.97" r="0.81" fill="#ffffff"/>
<circle cx="809.87" cy="266" r="0.53" fill="#ffffff"/>
<circle cx="802.7" cy="273.73" r="0.6" fill="#ffffff"/>
<circle cx="818.04" cy="268.04" r="0.68" fill="#ffffff"/>
<circle cx="828.77" cy="271.06" r="0.73" fill="#ffffff"/>
<circle cx="826" cy="262.94" r="0.56" fill="#ffffff"/>
<circle cx="827.25" cy="280.08" r="0.6" fill="#ffffff"/>
<circle cx="805.69" cy="277.96" r="0.88" fill="#ffffff"/>
<circle cx="805.9" cy="283.65" r="0.85" fill="#ffffff"/>
<circle cx="818.11" cy="269.38" r="0.54" fill="#ffffff"/>
<circle cx="801.16" cy="283.99" r="0.6" fill="#ffffff"/>
<circle cx="821.14" cy="264.94" r="0.83" fill="#ffffff"/>
<circle cx="817.89" cy="265.92" r="0.57" fill="#ffffff"/>
<circle cx="821.61" cy="259.86" r="0.59" fill="#ffffff"/>
<circle cx="816.78" cy="281.01" r="0.75" fill="#ffffff"/>
<circle cx="808.41" cy="282.77" r="0.58" fill="#ffffff"/>
<circle cx="800.5" cy="265.27" r="0.68" fill="#ffffff"/>
<circle cx="801.81" cy="262.76" r="0.65" fill="#ffffff"/>
<circle cx="817.17" cy="261.55" r="0.64" fill="#ffffff"/>
<circle cx="826.73" cy="284.47" r="0.76" fill="#ffffff"/>
<circle cx="820.74" cy="273.78" r="0.56" fill="#ffffff"/>
<circle cx="801.05" cy="258.48" r="0.86" fill="#ffffff"/>
<circle cx="821.03" cy="283.99" r="0.51" fill="#ffffff"/>
<circle cx="819.09" cy="271.02" r="0.79" fill="#ffffff"/>
<circle cx="809.57" cy="284.98" r="0.53" fill="#ffffff"/>
<circle cx="816.38" cy="277.9" r="0.86" fill="#ffffff"/>
<circle cx="822.11" cy="277" r="0.82" fill="#ffffff"/>
<circle cx="827.45" cy="267.5" r="0.77" fill="#ffffff"/>
<circle cx="827.03" cy="281.52" r="0.67" fill="#ffffff"/>
<circle cx="823.72" cy="281.31" r="0.73" fill="#ffffff"/>
<circle cx="818.75" cy="268.32" r="0.73" fill="#ffffff"/>
<circle cx="818.27" cy="260.17" r="0.76" fill="#ffffff"/>
<circle cx="829.8" cy="281.75" r="0.79" fill="#ffffff"/>
<circle cx="811.65" cy="277.85" r="0.73" fill="#ffffff"/>
<circle cx="813.22" cy="280.64" r="0.53" fill="#ffffff"/>
<circle cx="822.51" cy="258.8" r="0.74" fill="#ffffff"/>
<circle cx="814.43" cy="264.22" r="0.78" fill="#ffffff"/>
<circle cx="814.92" cy="274.59" r="0.87" fill="#ffffff"/>
<circle cx="807.67" cy="258.31" r="0.62" fill="#ffffff"/>
<circle cx="820.34" cy="263.47" r="0.57" fill="#ffffff"/>
<circle cx="824.11" cy="277.24" r="0.68" fill="#F0B0A0"/>
<circle cx="823.83" cy="272.58" r="0.77" fill="#F0B0A0"/>
<circle cx="809.97" cy="274.03" r="0.82" fill="#F0B0A0"/>
<circle cx="824.28" cy="280.32" r="0.65" fill="#F0B0A0"/>
<circle cx="817.66" cy="272.43" r="0.55" fill="#F0B0A0"/>
<circle cx="815.93" cy="279.72" r="0.84" fill="#F0B0A0"/>
<circle cx="820.22" cy="281.3" r="0.61" fill="#F0B0A0"/>
<circle cx="809.38" cy="274.31" r="0.61" fill="#F0B0A0"/>
<circle cx="810.28" cy="273.8" r="0.75" fill="#F0B0A0"/>
<circle cx="815.88" cy="272.42" r="0.84" fill="#F0B0A0"/>
<circle cx="825.64" cy="274.33" r="0.53" fill="#F0B0A0"/>
<circle cx="806.63" cy="280.22" r="0.52" fill="#F0B0A0"/>
<circle cx="820.17" cy="275.99" r="0.62" fill="#F0B0A0"/>
<circle cx="821.83" cy="268.27" r="0.55" fill="#F0B0A0"/>
<circle cx="815.1" cy="268.35" r="0.83" fill="#F0B0A0"/>
<circle cx="810.75" cy="269.97" r="0.52" fill="#F0B0A0"/>
<circle cx="818.58" cy="274.25" r="0.75" fill="#F0B0A0"/>
<circle cx="819.1" cy="279.3" r="0.88" fill="#F0B0A0"/>
<circle cx="819.69" cy="270.79" r="0.69" fill="#F0B0A0"/>
<circle cx="809.57" cy="268.15" r="0.69" fill="#F0B0A0"/>
<circle cx="820.28" cy="270.51" r="0.61" fill="#F0B0A0"/>
<circle cx="812.91" cy="277.76" r="0.71" fill="#F0B0A0"/>
<circle cx="818.29" cy="278.59" r="0.66" fill="#F0B0A0"/>
<circle cx="821.84" cy="280.69" r="0.53" fill="#F0B0A0"/>
<circle cx="824.65" cy="278.11" r="0.55" fill="#F0B0A0"/>
<circle cx="862.35" cy="475.52" r="0.86" fill="#ffffff"/>
<circle cx="861.28" cy="473.93" r="0.85" fill="#ffffff"/>
<circle cx="867.15" cy="484.44" r="0.69" fill="#ffffff"/>
<circle cx="865.12" cy="463.74" r="0.79" fill="#ffffff"/>
<circle cx="867.46" cy="475.97" r="0.79" fill="#ffffff"/>
<circle cx="858.99" cy="483.2" r="0.89" fill="#ffffff"/>
<circle cx="869.68" cy="473.03" r="0.82" fill="#ffffff"/>
<circle cx="860.49" cy="483.48" r="0.84" fill="#ffffff"/>
<circle cx="860.88" cy="460.32" r="0.68" fill="#ffffff"/>
<circle cx="863.7" cy="479.51" r="0.69" fill="#ffffff"/>
<circle cx="856.4" cy="480.66" r="0.53" fill="#ffffff"/>
<circle cx="867.2" cy="462.84" r="0.63" fill="#ffffff"/>
<circle cx="867.03" cy="461.93" r="0.56" fill="#ffffff"/>
<circle cx="863.23" cy="478.26" r="0.84" fill="#ffffff"/>
<circle cx="865.65" cy="484.48" r="0.7" fill="#ffffff"/>
<circle cx="869.29" cy="460.41" r="0.59" fill="#ffffff"/>
<circle cx="863.37" cy="466.12" r="0.79" fill="#ffffff"/>
<circle cx="864.94" cy="472.64" r="0.84" fill="#ffffff"/>
<circle cx="863.84" cy="466.73" r="0.65" fill="#ffffff"/>
<circle cx="867.83" cy="483.21" r="0.58" fill="#ffffff"/>
<circle cx="867.91" cy="485.12" r="0.71" fill="#ffffff"/>
<circle cx="864.02" cy="463.63" r="0.71" fill="#ffffff"/>
<circle cx="863.04" cy="474.95" r="0.51" fill="#ffffff"/>
<circle cx="869.57" cy="472.45" r="0.66" fill="#ffffff"/>
<circle cx="867.21" cy="473.76" r="0.7" fill="#ffffff"/>
<circle cx="865.67" cy="459.85" r="0.72" fill="#ffffff"/>
<circle cx="861.79" cy="484.79" r="0.87" fill="#ffffff"/>
<circle cx="859.77" cy="471.25" r="0.55" fill="#ffffff"/>
<circle cx="862.07" cy="480.84" r="0.86" fill="#ffffff"/>
<circle cx="862.67" cy="466.88" r="0.58" fill="#ffffff"/>
<circle cx="864.65" cy="483.91" r="0.55" fill="#ffffff"/>
<circle cx="866.91" cy="458.64" r="0.58" fill="#ffffff"/>
<circle cx="859.18" cy="477.24" r="0.63" fill="#ffffff"/>
<circle cx="860.97" cy="475.35" r="0.54" fill="#ffffff"/>
<circle cx="866.23" cy="461.44" r="0.7" fill="#ffffff"/>
<circle cx="859.51" cy="463.54" r="0.71" fill="#ffffff"/>
<circle cx="862.11" cy="468.52" r="0.67" fill="#ffffff"/>
<circle cx="863.41" cy="462.47" r="0.58" fill="#ffffff"/>
<circle cx="864.84" cy="475.88" r="0.71" fill="#ffffff"/>
<circle cx="867.92" cy="475.13" r="0.84" fill="#ffffff"/>
<circle cx="859.26" cy="478.74" r="0.82" fill="#ffffff"/>
<circle cx="868.64" cy="466.84" r="0.63" fill="#ffffff"/>
<circle cx="868.92" cy="464.11" r="0.9" fill="#ffffff"/>
<circle cx="868.43" cy="461.75" r="0.6" fill="#ffffff"/>
<circle cx="866.17" cy="465.27" r="0.54" fill="#ffffff"/>
<circle cx="867.65" cy="472.12" r="0.82" fill="#F3A060"/>
<circle cx="857.76" cy="471.67" r="0.77" fill="#F3A060"/>
<circle cx="856.25" cy="466.82" r="0.77" fill="#F3A060"/>
<circle cx="868.76" cy="485.24" r="0.55" fill="#F3A060"/>
<circle cx="863.08" cy="480.2" r="0.7" fill="#F3A060"/>
<circle cx="865.6" cy="466.54" r="0.53" fill="#F3A060"/>
<circle cx="857.49" cy="462.9" r="0.72" fill="#F3A060"/>
<circle cx="863.21" cy="475.65" r="0.56" fill="#F3A060"/>
<circle cx="858.58" cy="466.89" r="0.84" fill="#F3A060"/>
<circle cx="869.86" cy="484.25" r="0.54" fill="#F3A060"/>
<circle cx="856.87" cy="484.84" r="0.68" fill="#F3A060"/>
<circle cx="866.71" cy="469.84" r="0.69" fill="#F3A060"/>
<circle cx="863.21" cy="472.32" r="0.74" fill="#F3A060"/>
<circle cx="856.19" cy="478.82" r="0.84" fill="#F3A060"/>
<circle cx="858.54" cy="472.89" r="0.8" fill="#F3A060"/>
<circle cx="861.67" cy="466.68" r="0.57" fill="#F3A060"/>
<circle cx="863.18" cy="462.37" r="0.86" fill="#F3A060"/>
<circle cx="867.22" cy="478.91" r="0.84" fill="#F3A060"/>
<circle cx="864.81" cy="471.71" r="0.74" fill="#F3A060"/>
<circle cx="863.06" cy="485.58" r="0.82" fill="#F3A060"/>
<circle cx="859.62" cy="483.87" r="0.8" fill="#F3A060"/>
<circle cx="866.89" cy="481.55" r="0.66" fill="#F3A060"/>
<circle cx="868.55" cy="483.12" r="0.78" fill="#F3A060"/>
<circle cx="866.74" cy="480.37" r="0.66" fill="#F3A060"/>
<circle cx="866.12" cy="463.69" r="0.64" fill="#F3A060"/>
<circle cx="862.56" cy="462.25" r="0.64" fill="#F3A060"/>
<circle cx="864.94" cy="476.98" r="0.59" fill="#F3A060"/>
<circle cx="869.23" cy="477.99" r="0.64" fill="#F3A060"/>
<circle cx="865.24" cy="475.67" r="0.71" fill="#F3A060"/>
<circle cx="861.45" cy="486" r="0.76" fill="#F3A060"/>
<circle cx="1069.92" cy="192.66" r="0.89" fill="#858585"/>
<circle cx="1058.39" cy="190.62" r="0.8" fill="#858585"/>
<circle cx="1062.36" cy="187.62" r="0.52" fill="#858585"/>
<circle cx="1061.32" cy="187.26" r="0.54" fill="#858585"/>
<circle cx="1062.27" cy="194.68" r="0.72" fill="#858585"/>
<circle cx="1066.63" cy="195.54" r="0.73" fill="#858585"/>
<circle cx="1074.92" cy="190.93" r="0.82" fill="#858585"/>
<circle cx="1059.3" cy="190.37" r="0.8" fill="#858585"/>
<circle cx="1058.77" cy="195.02" r="0.56" fill="#858585"/>
<circle cx="1066.02" cy="184.37" r="0.7" fill="#858585"/>
<circle cx="1068.39" cy="182.82" r="0.88" fill="#858585"/>
<circle cx="1065.15" cy="189.37" r="0.74" fill="#858585"/>
<circle cx="1064.21" cy="186" r="0.76" fill="#858585"/>
<circle cx="1067.53" cy="185.97" r="0.79" fill="#858585"/>
<circle cx="1063.03" cy="182.2" r="0.6" fill="#858585"/>
<circle cx="1058.73" cy="184.19" r="0.8" fill="#858585"/>
<circle cx="1064.63" cy="194.57" r="0.8" fill="#858585"/>
<circle cx="1058.85" cy="195.84" r="0.88" fill="#858585"/>
<circle cx="1059.25" cy="194.68" r="0.67" fill="#858585"/>
<circle cx="1066.12" cy="195.62" r="0.6" fill="#858585"/>
<circle cx="1066.9" cy="195.12" r="0.79" fill="#858585"/>
<circle cx="1065.96" cy="195.7" r="0.83" fill="#858585"/>
<circle cx="1068.26" cy="183.61" r="0.75" fill="#858585"/>
<circle cx="1065.75" cy="184.85" r="0.52" fill="#858585"/>
<circle cx="1066.98" cy="183.74" r="0.68" fill="#858585"/>
<circle cx="1069.35" cy="188.38" r="0.6" fill="#858585"/>
<circle cx="1067.9" cy="187.87" r="0.81" fill="#858585"/>
<circle cx="1067.02" cy="195.97" r="0.88" fill="#858585"/>
<circle cx="1070.48" cy="185.34" r="0.55" fill="#858585"/>
<circle cx="1073.18" cy="192.98" r="0.75" fill="#858585"/>
<circle cx="1064.11" cy="185.8" r="0.77" fill="#858585"/>
<circle cx="1067.6" cy="190.28" r="0.75" fill="#858585"/>
<circle cx="1070.81" cy="184.66" r="0.6" fill="#858585"/>
<circle cx="1074.66" cy="194.82" r="0.85" fill="#858585"/>
<circle cx="1058.67" cy="182.85" r="0.61" fill="#858585"/>
<circle cx="1065.23" cy="190.73" r="0.54" fill="#858585"/>
<circle cx="1067.21" cy="183.01" r="0.53" fill="#858585"/>
<circle cx="1069.5" cy="189.71" r="0.75" fill="#858585"/>
<circle cx="1064.34" cy="188.7" r="0.58" fill="#858585"/>
<circle cx="1063.84" cy="192.43" r="0.84" fill="#858585"/>
<circle cx="1069.64" cy="171.92" r="0.82" fill="#6DD6DA"/>
<circle cx="1081.72" cy="182.3" r="0.59" fill="#6DD6DA"/>
<circle cx="1077.34" cy="174.13" r="0.82" fill="#6DD6DA"/>
<circle cx="1076.12" cy="180.46" r="0.9" fill="#6DD6DA"/>
<circle cx="1075.16" cy="178.78" r="0.8" fill="#6DD6DA"/>
<circle cx="1088.26" cy="176.84" r="0.65" fill="#6DD6DA"/>
<circle cx="1070.13" cy="184" r="0.53" fill="#6DD6DA"/>
<circle cx="1069.83" cy="179.03" r="0.69" fill="#6DD6DA"/>
<circle cx="1083.08" cy="174.78" r="0.81" fill="#6DD6DA"/>
<circle cx="1069.67" cy="173.41" r="0.76" fill="#6DD6DA"/>
<circle cx="1069.8" cy="174.86" r="0.79" fill="#6DD6DA"/>
<circle cx="1083.27" cy="174.53" r="0.56" fill="#6DD6DA"/>
<circle cx="1075.87" cy="181.62" r="0.65" fill="#6DD6DA"/>
<circle cx="1070.58" cy="181.35" r="0.73" fill="#6DD6DA"/>
<circle cx="1088.21" cy="185.04" r="0.87" fill="#6DD6DA"/>
<circle cx="1077.64" cy="182.85" r="0.62" fill="#6DD6DA"/>
<circle cx="1074.99" cy="176.39" r="0.87" fill="#6DD6DA"/>
<circle cx="1087.68" cy="173.97" r="0.64" fill="#6DD6DA"/>
<circle cx="1076.04" cy="175.81" r="0.66" fill="#6DD6DA"/>
<circle cx="1076.53" cy="173.12" r="0.73" fill="#6DD6DA"/>
<circle cx="1085.54" cy="178.65" r="0.83" fill="#6DD6DA"/>
<circle cx="1080.38" cy="172.83" r="0.8" fill="#6DD6DA"/>
<circle cx="1087.38" cy="174.5" r="0.51" fill="#6DD6DA"/>
<circle cx="1079.34" cy="178.71" r="0.73" fill="#6DD6DA"/>
<circle cx="1089.26" cy="180.42" r="0.82" fill="#6DD6DA"/>
<circle cx="1016.92" cy="220.56" r="0.82" fill="#B83B3B"/>
<circle cx="1017.52" cy="214.98" r="0.79" fill="#B83B3B"/>
<circle cx="1041.97" cy="215.02" r="0.75" fill="#B83B3B"/>
<circle cx="1019.32" cy="222.95" r="0.76" fill="#B83B3B"/>
<circle cx="1022.36" cy="216.65" r="0.81" fill="#B83B3B"/>
<circle cx="1030.65" cy="223.18" r="0.66" fill="#B83B3B"/>
<circle cx="1025.13" cy="225.62" r="0.77" fill="#B83B3B"/>
<circle cx="1029.81" cy="220.45" r="0.79" fill="#B83B3B"/>
<circle cx="1036.24" cy="224.98" r="0.66" fill="#B83B3B"/>
<circle cx="1039.79" cy="222" r="0.84" fill="#B83B3B"/>
<circle cx="1039.18" cy="224.01" r="0.86" fill="#B83B3B"/>
<circle cx="1043.73" cy="221.68" r="0.71" fill="#B83B3B"/>
<circle cx="1036.3" cy="223.63" r="0.67" fill="#B83B3B"/>
<circle cx="1027.61" cy="215.75" r="0.8" fill="#B83B3B"/>
<circle cx="1044.73" cy="218.51" r="0.57" fill="#B83B3B"/>
<circle cx="1021.13" cy="219.1" r="0.62" fill="#B83B3B"/>
<circle cx="1044.09" cy="214.71" r="0.62" fill="#B83B3B"/>
<circle cx="1018.44" cy="221.78" r="0.81" fill="#B83B3B"/>
<circle cx="1020.38" cy="214.75" r="0.68" fill="#B83B3B"/>
<circle cx="1032.52" cy="224.91" r="0.51" fill="#B83B3B"/>
<circle cx="1018.26" cy="216.21" r="0.59" fill="#B83B3B"/>
<circle cx="1022.06" cy="222.61" r="0.74" fill="#B83B3B"/>
<circle cx="1021.72" cy="216.22" r="0.61" fill="#B83B3B"/>
<circle cx="1020.18" cy="223.09" r="0.62" fill="#B83B3B"/>
<circle cx="1031.45" cy="223.81" r="0.69" fill="#B83B3B"/>
<circle cx="1022.81" cy="224.65" r="0.87" fill="#B83B3B"/>
<circle cx="1025.26" cy="220.57" r="0.88" fill="#B83B3B"/>
<circle cx="1029.48" cy="216.65" r="0.52" fill="#B83B3B"/>
<circle cx="1043.43" cy="223.62" r="0.65" fill="#B83B3B"/>
<circle cx="1030.83" cy="220.19" r="0.61" fill="#B83B3B"/>
<circle cx="1044.71" cy="221.89" r="0.6" fill="#B83B3B"/>
<circle cx="1015.33" cy="219.67" r="0.65" fill="#B83B3B"/>
<circle cx="1038.9" cy="222.56" r="0.74" fill="#B83B3B"/>
<circle cx="1019.72" cy="215.88" r="0.63" fill="#B83B3B"/>
<circle cx="1022.78" cy="224.43" r="0.71" fill="#B83B3B"/>
<circle cx="1034.11" cy="225.92" r="0.61" fill="#B83B3B"/>
<circle cx="1031.04" cy="215.81" r="0.81" fill="#B83B3B"/>
<circle cx="1015.04" cy="223.86" r="0.84" fill="#B83B3B"/>
<circle cx="1039.66" cy="214.99" r="0.61" fill="#B83B3B"/>
<circle cx="1036.5" cy="215.17" r="0.69" fill="#B83B3B"/>
<circle cx="1051.09" cy="341.47" r="0.73" fill="#D4C84A"/>
<circle cx="1068.58" cy="333.64" r="0.82" fill="#D4C84A"/>
<circle cx="1048.76" cy="341" r="0.54" fill="#D4C84A"/>
<circle cx="1067.18" cy="332.5" r="0.72" fill="#D4C84A"/>
<circle cx="1053.66" cy="331.89" r="0.83" fill="#D4C84A"/>
<circle cx="1044.01" cy="333.73" r="0.53" fill="#D4C84A"/>
<circle cx="1043.76" cy="335.61" r="0.79" fill="#D4C84A"/>
<circle cx="1046.19" cy="338.25" r="0.54" fill="#D4C84A"/>
<circle cx="1047.74" cy="335.54" r="0.89" fill="#D4C84A"/>
<circle cx="1067.34" cy="337.85" r="0.5" fill="#D4C84A"/>
<circle cx="1046.97" cy="338.52" r="0.59" fill="#D4C84A"/>
<circle cx="1055.39" cy="335.5" r="0.5" fill="#D4C84A"/>
<circle cx="1074.62" cy="339.59" r="0.58" fill="#D4C84A"/>
<circle cx="1057.72" cy="333.48" r="0.65" fill="#D4C84A"/>
<circle cx="1054.29" cy="333.58" r="0.63" fill="#D4C84A"/>
<circle cx="1047.65" cy="338" r="0.6" fill="#D4C84A"/>
<circle cx="1039" cy="338.78" r="0.63" fill="#D4C84A"/>
<circle cx="1072.53" cy="336.75" r="0.79" fill="#D4C84A"/>
<circle cx="1044.92" cy="339.92" r="0.54" fill="#D4C84A"/>
<circle cx="1036.34" cy="331.13" r="0.77" fill="#D4C84A"/>
<circle cx="1061.87" cy="332.16" r="0.66" fill="#D4C84A"/>
<circle cx="1067.66" cy="337.11" r="0.54" fill="#D4C84A"/>
<circle cx="1040.2" cy="331.89" r="0.55" fill="#D4C84A"/>
<circle cx="1048.31" cy="330.87" r="0.87" fill="#D4C84A"/>
<circle cx="1049.22" cy="336.14" r="0.76" fill="#D4C84A"/>
<circle cx="1066.84" cy="350.21" r="0.65" fill="#ffffff"/>
<circle cx="1051.6" cy="346.12" r="0.51" fill="#ffffff"/>
<circle cx="1054.02" cy="349" r="0.89" fill="#ffffff"/>
<circle cx="1067.64" cy="348.6" r="0.74" fill="#ffffff"/>
<circle cx="1040.65" cy="345.31" r="0.64" fill="#ffffff"/>
<circle cx="1062.78" cy="343.06" r="0.65" fill="#ffffff"/>
<circle cx="1057.83" cy="349.89" r="0.83" fill="#ffffff"/>
<circle cx="1061.4" cy="343.58" r="0.81" fill="#ffffff"/>
<circle cx="1071.6" cy="347.48" r="0.64" fill="#ffffff"/>
<circle cx="1057.51" cy="343.42" r="0.79" fill="#ffffff"/>
<circle cx="1074.54" cy="347.16" r="0.79" fill="#ffffff"/>
<circle cx="1069.24" cy="343.97" r="0.88" fill="#ffffff"/>
<circle cx="1061.95" cy="343.98" r="0.53" fill="#ffffff"/>
<circle cx="1048.56" cy="347.76" r="0.78" fill="#ffffff"/>
<circle cx="1051.52" cy="351.29" r="0.64" fill="#ffffff"/>
<circle cx="1056.21" cy="343.24" r="0.89" fill="#ffffff"/>
<circle cx="1044.75" cy="351.04" r="0.72" fill="#ffffff"/>
<circle cx="1059.63" cy="347.6" r="0.61" fill="#ffffff"/>
<circle cx="1071.83" cy="351.92" r="0.83" fill="#ffffff"/>
<circle cx="1061.05" cy="343.23" r="0.83" fill="#ffffff"/>
<circle cx="1050.1" cy="350.97" r="0.6" fill="#ffffff"/>
<circle cx="1060.08" cy="350.31" r="0.57" fill="#ffffff"/>
<circle cx="1059.17" cy="342.76" r="0.51" fill="#ffffff"/>
<circle cx="1046.3" cy="351.87" r="0.88" fill="#ffffff"/>
<circle cx="1063.04" cy="345.08" r="0.77" fill="#ffffff"/>
</g>
<path d="M768.4 445.9 V520.6 H845.6" fill="none" stroke="#111" stroke-width="1.9"/>
<text x="767.8" y="544.9" font-size="21.9">UMAP1</text>
<text x="761" y="521.2" font-size="22.4" transform="rotate(-90 761 521.2)">UMAP2</text>
<circle cx="1177.8" cy="112.3" r="4.9" fill="#4F86C6"/>
<text x="1189.4" y="119.9" font-size="22.4">ASDC</text>
<circle cx="1177.8" cy="139.27" r="4.9" fill="#D32F27"/>
<text x="1189.4" y="146.87" font-size="22.4">B int.</text>
<circle cx="1177.8" cy="166.24" r="4.9" fill="#3FB43F"/>
<text x="1189.4" y="173.84" font-size="22.4">B memory</text>
<circle cx="1177.8" cy="193.21" r="4.9" fill="#EE7F24"/>
<text x="1189.4" y="200.81" font-size="22.4">B naive</text>
<circle cx="1177.8" cy="220.18" r="4.9" fill="#A35DDA"/>
<text x="1189.4" y="227.78" font-size="22.4">CD14 Mono</text>
<circle cx="1177.8" cy="247.15" r="4.9" fill="#8B4A40"/>
<text x="1189.4" y="254.75" font-size="22.4">CD16 Mono</text>
<circle cx="1177.8" cy="274.12" r="4.9" fill="#DB72C9"/>
<text x="1189.4" y="281.72" font-size="22.4">CD4 CTL</text>
<circle cx="1177.8" cy="301.09" r="4.9" fill="#858585"/>
<text x="1189.4" y="308.69" font-size="22.4">CD4 Naive</text>
<circle cx="1177.8" cy="328.06" r="4.9" fill="#C2C42A"/>
<text x="1189.4" y="335.66" font-size="22.4">CD4 Prolif.</text>
<circle cx="1177.8" cy="355.03" r="4.9" fill="#6DD6DA"/>
<text x="1189.4" y="362.63" font-size="22.4">CD4 TCM</text>
<circle cx="1177.8" cy="382" r="4.9" fill="#B83B3B"/>
<text x="1189.4" y="389.6" font-size="22.4">CD4 TEM</text>
<circle cx="1177.8" cy="408.97" r="4.9" fill="#DDB642"/>
<text x="1189.4" y="416.57" font-size="22.4">CD8 Naive</text>
<circle cx="1177.8" cy="435.94" r="4.9" fill="#88A844"/>
<text x="1189.4" y="443.54" font-size="22.4">CD8 Prolif.</text>
<circle cx="1177.8" cy="462.91" r="4.9" fill="#7B5FD3"/>
<text x="1189.4" y="470.51" font-size="22.4">CD8 TCM</text>
<circle cx="1177.8" cy="489.88" r="4.9" fill="#5D5D5D"/>
<text x="1189.4" y="497.48" font-size="22.4">CD8 TEM</text>
<circle cx="1177.8" cy="516.85" r="4.9" fill="#B9CDEA"/>
<text x="1189.4" y="524.45" font-size="22.4">cDC1</text>
<circle cx="1321.5" cy="114" r="4.9" fill="#F2A1A5"/>
<text x="1332.4" y="121.6" font-size="22.4">cDC2</text>
<circle cx="1321.5" cy="140.75" r="4.9" fill="#B8EE8C"/>
<text x="1332.4" y="148.35" font-size="22.4">dnT</text>
<circle cx="1321.5" cy="167.5" r="4.9" fill="#EDBE7E"/>
<text x="1332.4" y="175.1" font-size="22.4">Doublet</text>
<circle cx="1321.5" cy="194.25" r="4.9" fill="#DCC1F2"/>
<text x="1332.4" y="201.85" font-size="22.4">Eryth</text>
<circle cx="1321.5" cy="221" r="4.9" fill="#C59F9A"/>
<text x="1332.4" y="228.6" font-size="22.4">gdT</text>
<circle cx="1321.5" cy="247.75" r="4.9" fill="#F2B5DE"/>
<text x="1332.4" y="255.35" font-size="22.4">HSPC</text>
<circle cx="1321.5" cy="274.5" r="4.9" fill="#CFCFCF"/>
<text x="1332.4" y="282.1" font-size="22.4">ILC</text>
<circle cx="1321.5" cy="301.25" r="4.9" fill="#DDE38E"/>
<text x="1332.4" y="308.85" font-size="22.4">MAIT</text>
<circle cx="1321.5" cy="328" r="4.9" fill="#C7F0F2"/>
<text x="1332.4" y="335.6" font-size="22.4">NK</text>
<circle cx="1321.5" cy="354.75" r="4.9" fill="#EE999D"/>
<text x="1332.4" y="362.35" font-size="22.4">NK Prolif.</text>
<circle cx="1321.5" cy="381.5" r="4.9" fill="#DDC38C"/>
<text x="1332.4" y="389.1" font-size="22.4">NK CD56hi</text>
<circle cx="1321.5" cy="408.25" r="4.9" fill="#D8F5C8"/>
<text x="1332.4" y="415.85" font-size="22.4">pDC</text>
<circle cx="1321.5" cy="435" r="4.9" fill="#E3A2E8"/>
<text x="1332.4" y="442.6" font-size="22.4">Plasmablast</text>
<circle cx="1321.5" cy="461.75" r="4.9" fill="#DCDCDC"/>
<text x="1332.4" y="469.35" font-size="22.4">Platelet</text>
<circle cx="1321.5" cy="488.5" r="4.9" fill="#EE7E70"/>
<text x="1332.4" y="496.1" font-size="22.4">Treg</text>
<text transform="translate(1446.6 34.7) scale(1.15 1)" font-size="41" font-weight="bold" style="stroke-width:2px;stroke-linejoin:round" x="1" y="0">c</text>
<line x1="1605.2" y1="74.6" x2="1605.2" y2="366" stroke="#111" stroke-width="2"/>
<line x1="1598" y1="365.2" x2="2156.3" y2="365.2" stroke="#111" stroke-width="2"/>
<line x1="1598.3" y1="108" x2="1605.2" y2="108" stroke="#111" stroke-width="1.5"/>
<text x="1591.1" y="115.9" font-size="22.5" text-anchor="end">0.3</text>
<line x1="1598.3" y1="172.2" x2="1605.2" y2="172.2" stroke="#111" stroke-width="1.5"/>
<text x="1591.1" y="180.1" font-size="22.5" text-anchor="end">0.2</text>
<line x1="1598.3" y1="236.5" x2="1605.2" y2="236.5" stroke="#111" stroke-width="1.5"/>
<text x="1591.1" y="244.4" font-size="22.5" text-anchor="end">0.1</text>
<line x1="1598.3" y1="300.5" x2="1605.2" y2="300.5" stroke="#111" stroke-width="1.5"/>
<text x="1591.1" y="308.4" font-size="22.5" text-anchor="end">0.0</text>
<line x1="1598.3" y1="364.5" x2="1605.2" y2="364.5" stroke="#111" stroke-width="1.5"/>
<text x="1591.1" y="372.4" font-size="22.5" text-anchor="end">−0.1</text>
<text x="1534.5" y="227.5" font-size="29.8" text-anchor="middle" transform="rotate(-90 1534.5 227.5)">EBV module score</text>
<line x1="1615.3" y1="87.2" x2="1615.3" y2="195.8" stroke="#1a1a1a" stroke-width="1.7"/>
<path d="M1614.92 87.2 L1614.86 89.01 L1614.78 90.82 L1614.7 92.63 L1614.6 94.44 L1614.49 96.25 L1614.36 98.06 L1614.22 99.87 L1614.07 101.68 L1613.9 103.49 L1613.71 105.3 L1613.5 107.11 L1613.27 108.92 L1613.03 110.73 L1612.77 112.54 L1612.49 114.35 L1612.2 116.16 L1611.89 117.97 L1611.57 119.78 L1611.24 121.59 L1610.91 123.4 L1610.58 125.21 L1610.26 127.02 L1609.95 128.83 L1609.66 130.64 L1609.41 132.45 L1609.2 134.26 L1609.05 136.07 L1609.01 137.88 L1609.11 139.69 L1609.27 141.5 L1609.48 143.31 L1609.71 145.12 L1609.97 146.93 L1610.25 148.74 L1610.54 150.55 L1610.83 152.36 L1611.13 154.17 L1611.42 155.98 L1611.71 157.79 L1611.99 159.6 L1612.26 161.41 L1612.52 163.22 L1612.77 165.03 L1613.01 166.84 L1613.23 168.65 L1613.43 170.46 L1613.62 172.27 L1613.8 174.08 L1613.96 175.89 L1614.11 177.7 L1614.25 179.51 L1614.37 181.32 L1614.48 183.13 L1614.58 184.94 L1614.67 186.75 L1614.75 188.56 L1614.82 190.37 L1614.89 192.18 L1614.94 193.99 L1614.95 195.8 L1615.65 195.8 L1615.66 193.99 L1615.71 192.18 L1615.78 190.37 L1615.85 188.56 L1615.93 186.75 L1616.02 184.94 L1616.12 183.13 L1616.23 181.32 L1616.35 179.51 L1616.49 177.7 L1616.64 175.89 L1616.8 174.08 L1616.98 172.27 L1617.17 170.46 L1617.37 168.65 L1617.59 166.84 L1617.83 165.03 L1618.08 163.22 L1618.34 161.41 L1618.61 159.6 L1618.89 157.79 L1619.18 155.98 L1619.47 154.17 L1619.77 152.36 L1620.06 150.55 L1620.35 148.74 L1620.63 146.93 L1620.89 145.12 L1621.12 143.31 L1621.33 141.5 L1621.49 139.69 L1621.59 137.88 L1621.55 136.07 L1621.4 134.26 L1621.19 132.45 L1620.94 130.64 L1620.65 128.83 L1620.34 127.02 L1620.02 125.21 L1619.69 123.4 L1619.36 121.59 L1619.03 119.78 L1618.71 117.97 L1618.4 116.16 L1618.11 114.35 L1617.83 112.54 L1617.57 110.73 L1617.33 108.92 L1617.1 107.11 L1616.89 105.3 L1616.7 103.49 L1616.53 101.68 L1616.38 99.87 L1616.24 98.06 L1616.11 96.25 L1616 94.44 L1615.9 92.63 L1615.82 90.82 L1615.74 89.01 L1615.68 87.2Z" fill="#fff" stroke="#1a1a1a" stroke-width="1.85"/>
<path d="M1614.95 87.5 L1614.95 89.17 L1614.95 90.85 L1614.95 92.53 L1614.95 94.2 L1614.91 95.88 L1614.85 97.55 L1614.79 99.22 L1614.72 100.9 L1614.64 102.58 L1614.56 104.25 L1614.47 105.92 L1614.37 107.6 L1614.26 109.28 L1614.15 110.95 L1614.03 112.62 L1613.9 114.3 L1613.76 115.97 L1613.62 117.65 L1613.48 119.33 L1613.33 121 L1613.17 122.67 L1613.02 124.35 L1612.87 126.03 L1612.72 127.7 L1612.58 129.38 L1612.45 131.05 L1612.34 132.72 L1612.24 134.4 L1612.17 136.07 L1612.15 137.75 L1612.2 139.43 L1612.27 141.1 L1612.36 142.78 L1612.46 144.45 L1612.58 146.12 L1612.7 147.8 L1612.83 149.47 L1612.97 151.15 L1613.1 152.82 L1613.24 154.5 L1613.38 156.18 L1613.51 157.85 L1613.64 159.53 L1613.77 161.2 L1613.89 162.88 L1614 164.55 L1614.11 166.22 L1614.22 167.9 L1614.32 169.57 L1614.41 171.25 L1614.49 172.93 L1614.57 174.6 L1614.65 176.28 L1614.71 177.95 L1614.78 179.62 L1614.83 181.3 L1614.89 182.97 L1614.93 184.65 L1614.95 186.32 L1614.95 188 L1615.65 188 L1615.65 186.32 L1615.67 184.65 L1615.71 182.97 L1615.77 181.3 L1615.82 179.62 L1615.89 177.95 L1615.95 176.28 L1616.03 174.6 L1616.11 172.93 L1616.19 171.25 L1616.28 169.57 L1616.38 167.9 L1616.49 166.22 L1616.6 164.55 L1616.71 162.88 L1616.83 161.2 L1616.96 159.53 L1617.09 157.85 L1617.22 156.18 L1617.36 154.5 L1617.5 152.82 L1617.63 151.15 L1617.77 149.47 L1617.9 147.8 L1618.02 146.12 L1618.14 144.45 L1618.24 142.78 L1618.33 141.1 L1618.4 139.43 L1618.45 137.75 L1618.43 136.07 L1618.36 134.4 L1618.26 132.72 L1618.15 131.05 L1618.02 129.38 L1617.88 127.7 L1617.73 126.03 L1617.58 124.35 L1617.43 122.67 L1617.27 121 L1617.12 119.33 L1616.98 117.65 L1616.84 115.97 L1616.7 114.3 L1616.57 112.62 L1616.45 110.95 L1616.34 109.28 L1616.23 107.6 L1616.13 105.92 L1616.04 104.25 L1615.96 102.58 L1615.88 100.9 L1615.81 99.22 L1615.75 97.55 L1615.69 95.88 L1615.65 94.2 L1615.65 92.53 L1615.65 90.85 L1615.65 89.17 L1615.65 87.5Z" fill="none" stroke="#BF2B21" stroke-width="0.9"/>
<line x1="1615.3" y1="87.5" x2="1615.3" y2="188" stroke="#BF2B21" stroke-width="1"/>
<rect x="1610.5" y="124.7" width="9.6" height="26.7" fill="#fff" stroke="#BF2B21" stroke-width="2"/>
<line x1="1610.5" y1="137.3" x2="1620.1" y2="137.3" stroke="#BF2B21" stroke-width="4.6"/>
<line x1="1615.3" y1="365.2" x2="1615.3" y2="372.6" stroke="#111" stroke-width="1.5"/>
<text x="1622.5" y="377" font-size="18.8" text-anchor="end" transform="rotate(-90 1622.5 377)">cDC1</text>
<line x1="1632.9" y1="89.1" x2="1632.9" y2="283.5" stroke="#1a1a1a" stroke-width="1.7"/>
<path d="M1632.55 89.1 L1632.55 92.34 L1632.55 95.58 L1632.55 98.82 L1632.55 102.06 L1632.55 105.3 L1632.55 108.54 L1632.55 111.78 L1632.55 115.02 L1632.55 118.26 L1632.55 121.5 L1632.51 124.74 L1632.41 127.98 L1632.28 131.22 L1632.13 134.46 L1631.94 137.7 L1631.72 140.94 L1631.47 144.18 L1631.17 147.42 L1630.84 150.66 L1630.47 153.9 L1630.06 157.14 L1629.62 160.38 L1629.15 163.62 L1628.68 166.86 L1628.21 170.1 L1627.76 173.34 L1627.36 176.58 L1627.05 179.82 L1626.9 183.06 L1627.05 186.3 L1627.34 189.54 L1627.7 192.78 L1628.12 196.02 L1628.56 199.26 L1629.01 202.5 L1629.45 205.74 L1629.88 208.98 L1630.28 212.22 L1630.65 215.46 L1630.98 218.7 L1631.28 221.94 L1631.55 225.18 L1631.78 228.42 L1631.98 231.66 L1632.15 234.9 L1632.29 238.14 L1632.41 241.38 L1632.51 244.62 L1632.55 247.86 L1632.55 251.1 L1632.55 254.34 L1632.55 257.58 L1632.55 260.82 L1632.55 264.06 L1632.55 267.3 L1632.55 270.54 L1632.55 273.78 L1632.55 277.02 L1632.55 280.26 L1632.55 283.5 L1633.25 283.5 L1633.25 280.26 L1633.25 277.02 L1633.25 273.78 L1633.25 270.54 L1633.25 267.3 L1633.25 264.06 L1633.25 260.82 L1633.25 257.58 L1633.25 254.34 L1633.25 251.1 L1633.25 247.86 L1633.29 244.62 L1633.39 241.38 L1633.51 238.14 L1633.65 234.9 L1633.82 231.66 L1634.02 228.42 L1634.25 225.18 L1634.52 221.94 L1634.82 218.7 L1635.15 215.46 L1635.52 212.22 L1635.92 208.98 L1636.35 205.74 L1636.79 202.5 L1637.24 199.26 L1637.68 196.02 L1638.1 192.78 L1638.46 189.54 L1638.75 186.3 L1638.9 183.06 L1638.75 179.82 L1638.44 176.58 L1638.04 173.34 L1637.59 170.1 L1637.12 166.86 L1636.65 163.62 L1636.18 160.38 L1635.74 157.14 L1635.33 153.9 L1634.96 150.66 L1634.63 147.42 L1634.33 144.18 L1634.08 140.94 L1633.86 137.7 L1633.67 134.46 L1633.52 131.22 L1633.39 127.98 L1633.29 124.74 L1633.25 121.5 L1633.25 118.26 L1633.25 115.02 L1633.25 111.78 L1633.25 108.54 L1633.25 105.3 L1633.25 102.06 L1633.25 98.82 L1633.25 95.58 L1633.25 92.34 L1633.25 89.1Z" fill="#fff" stroke="#1a1a1a" stroke-width="1.85"/>
<path d="M1632.55 123.7 L1632.55 125.68 L1632.55 127.67 L1632.55 129.65 L1632.55 131.63 L1632.53 133.62 L1632.48 135.6 L1632.42 137.58 L1632.36 139.57 L1632.29 141.55 L1632.21 143.53 L1632.13 145.52 L1632.03 147.5 L1631.93 149.48 L1631.83 151.47 L1631.71 153.45 L1631.59 155.43 L1631.46 157.42 L1631.33 159.4 L1631.19 161.38 L1631.05 163.37 L1630.9 165.35 L1630.75 167.33 L1630.61 169.32 L1630.47 171.3 L1630.33 173.28 L1630.21 175.27 L1630.1 177.25 L1630 179.23 L1629.93 181.22 L1629.9 183.2 L1629.94 185.18 L1630.01 187.17 L1630.1 189.15 L1630.2 191.13 L1630.32 193.12 L1630.45 195.1 L1630.58 197.08 L1630.72 199.07 L1630.85 201.05 L1630.99 203.03 L1631.13 205.02 L1631.26 207 L1631.39 208.98 L1631.51 210.97 L1631.63 212.95 L1631.74 214.93 L1631.85 216.92 L1631.95 218.9 L1632.04 220.88 L1632.13 222.87 L1632.21 224.85 L1632.28 226.83 L1632.35 228.82 L1632.41 230.8 L1632.47 232.78 L1632.52 234.77 L1632.55 236.75 L1632.55 238.73 L1632.55 240.72 L1632.55 242.7 L1633.25 242.7 L1633.25 240.72 L1633.25 238.73 L1633.25 236.75 L1633.28 234.77 L1633.33 232.78 L1633.39 230.8 L1633.45 228.82 L1633.52 226.83 L1633.59 224.85 L1633.67 222.87 L1633.76 220.88 L1633.85 218.9 L1633.95 216.92 L1634.06 214.93 L1634.17 212.95 L1634.29 210.97 L1634.41 208.98 L1634.54 207 L1634.67 205.02 L1634.81 203.03 L1634.95 201.05 L1635.08 199.07 L1635.22 197.08 L1635.35 195.1 L1635.48 193.12 L1635.6 191.13 L1635.7 189.15 L1635.79 187.17 L1635.86 185.18 L1635.9 183.2 L1635.87 181.22 L1635.8 179.23 L1635.7 177.25 L1635.59 175.27 L1635.47 173.28 L1635.33 171.3 L1635.19 169.32 L1635.05 167.33 L1634.9 165.35 L1634.75 163.37 L1634.61 161.38 L1634.47 159.4 L1634.34 157.42 L1634.21 155.43 L1634.09 153.45 L1633.97 151.47 L1633.87 149.48 L1633.77 147.5 L1633.67 145.52 L1633.59 143.53 L1633.51 141.55 L1633.44 139.57 L1633.38 137.58 L1633.32 135.6 L1633.27 133.62 L1633.25 131.63 L1633.25 129.65 L1633.25 127.67 L1633.25 125.68 L1633.25 123.7Z" fill="none" stroke="#BF2B21" stroke-width="0.9"/>
<line x1="1632.9" y1="123.7" x2="1632.9" y2="242.7" stroke="#BF2B21" stroke-width="1"/>
<rect x="1628.1" y="168.1" width="9.6" height="30.7" fill="#fff" stroke="#BF2B21" stroke-width="2"/>
<line x1="1628.1" y1="183" x2="1637.7" y2="183" stroke="#BF2B21" stroke-width="4.6"/>
<line x1="1632.9" y1="365.2" x2="1632.9" y2="372.6" stroke="#111" stroke-width="1.5"/>
<text x="1640.1" y="377" font-size="18.8" text-anchor="end" transform="rotate(-90 1640.1 377)">cDC2</text>
<line x1="1650.6" y1="91.6" x2="1650.6" y2="264.4" stroke="#1a1a1a" stroke-width="1.7"/>
<path d="M1650.25 91.6 L1650.25 94.48 L1650.25 97.36 L1650.25 100.24 L1650.25 103.12 L1650.25 106 L1650.25 108.88 L1650.25 111.76 L1650.25 114.64 L1650.25 117.52 L1650.25 120.4 L1650.25 123.28 L1650.25 126.16 L1650.25 129.04 L1650.17 131.92 L1650.07 134.8 L1649.95 137.68 L1649.8 140.56 L1649.63 143.44 L1649.43 146.32 L1649.21 149.2 L1648.95 152.08 L1648.65 154.96 L1648.33 157.84 L1647.97 160.72 L1647.59 163.6 L1647.18 166.48 L1646.76 169.36 L1646.33 172.24 L1645.9 175.12 L1645.49 178 L1645.12 180.88 L1644.82 183.76 L1644.63 186.64 L1644.67 189.52 L1644.9 192.4 L1645.24 195.28 L1645.63 198.16 L1646.05 201.04 L1646.49 203.92 L1646.93 206.8 L1647.36 209.68 L1647.76 212.56 L1648.14 215.44 L1648.49 218.32 L1648.81 221.2 L1649.09 224.08 L1649.34 226.96 L1649.55 229.84 L1649.74 232.72 L1649.89 235.6 L1650.03 238.48 L1650.14 241.36 L1650.23 244.24 L1650.25 247.12 L1650.25 250 L1650.25 252.88 L1650.25 255.76 L1650.25 258.64 L1650.25 261.52 L1650.25 264.4 L1650.95 264.4 L1650.95 261.52 L1650.95 258.64 L1650.95 255.76 L1650.95 252.88 L1650.95 250 L1650.95 247.12 L1650.97 244.24 L1651.06 241.36 L1651.17 238.48 L1651.31 235.6 L1651.46 232.72 L1651.65 229.84 L1651.86 226.96 L1652.11 224.08 L1652.39 221.2 L1652.71 218.32 L1653.06 215.44 L1653.44 212.56 L1653.84 209.68 L1654.27 206.8 L1654.71 203.92 L1655.15 201.04 L1655.57 198.16 L1655.96 195.28 L1656.3 192.4 L1656.53 189.52 L1656.57 186.64 L1656.38 183.76 L1656.08 180.88 L1655.71 178 L1655.3 175.12 L1654.87 172.24 L1654.44 169.36 L1654.02 166.48 L1653.61 163.6 L1653.23 160.72 L1652.87 157.84 L1652.55 154.96 L1652.25 152.08 L1651.99 149.2 L1651.77 146.32 L1651.57 143.44 L1651.4 140.56 L1651.25 137.68 L1651.13 134.8 L1651.03 131.92 L1650.95 129.04 L1650.95 126.16 L1650.95 123.28 L1650.95 120.4 L1650.95 117.52 L1650.95 114.64 L1650.95 111.76 L1650.95 108.88 L1650.95 106 L1650.95 103.12 L1650.95 100.24 L1650.95 97.36 L1650.95 94.48 L1650.95 91.6Z" fill="#fff" stroke="#1a1a1a" stroke-width="1.85"/>
<path d="M1650.25 131.6 L1650.25 133.47 L1650.25 135.35 L1650.25 137.22 L1650.24 139.09 L1650.19 140.97 L1650.13 142.84 L1650.07 144.71 L1650.01 146.59 L1649.93 148.46 L1649.85 150.33 L1649.77 152.21 L1649.67 154.08 L1649.57 155.95 L1649.47 157.83 L1649.35 159.7 L1649.23 161.57 L1649.11 163.45 L1648.97 165.32 L1648.84 167.19 L1648.7 169.07 L1648.56 170.94 L1648.42 172.81 L1648.28 174.69 L1648.15 176.56 L1648.02 178.43 L1647.9 180.31 L1647.79 182.18 L1647.7 184.05 L1647.63 185.93 L1647.6 187.8 L1647.64 189.67 L1647.71 191.55 L1647.81 193.42 L1647.92 195.29 L1648.04 197.17 L1648.18 199.04 L1648.32 200.91 L1648.46 202.79 L1648.6 204.66 L1648.74 206.53 L1648.89 208.41 L1649.02 210.28 L1649.15 212.15 L1649.28 214.03 L1649.4 215.9 L1649.51 217.77 L1649.62 219.65 L1649.72 221.52 L1649.81 223.39 L1649.9 225.27 L1649.97 227.14 L1650.05 229.01 L1650.11 230.89 L1650.17 232.76 L1650.22 234.63 L1650.25 236.51 L1650.25 238.38 L1650.25 240.25 L1650.25 242.13 L1650.25 244 L1650.95 244 L1650.95 242.13 L1650.95 240.25 L1650.95 238.38 L1650.95 236.51 L1650.98 234.63 L1651.03 232.76 L1651.09 230.89 L1651.15 229.01 L1651.23 227.14 L1651.3 225.27 L1651.39 223.39 L1651.48 221.52 L1651.58 219.65 L1651.69 217.77 L1651.8 215.9 L1651.92 214.03 L1652.05 212.15 L1652.18 210.28 L1652.31 208.41 L1652.46 206.53 L1652.6 204.66 L1652.74 202.79 L1652.88 200.91 L1653.02 199.04 L1653.16 197.17 L1653.28 195.29 L1653.39 193.42 L1653.49 191.55 L1653.56 189.67 L1653.6 187.8 L1653.57 185.93 L1653.5 184.05 L1653.41 182.18 L1653.3 180.31 L1653.18 178.43 L1653.05 176.56 L1652.92 174.69 L1652.78 172.81 L1652.64 170.94 L1652.5 169.07 L1652.36 167.19 L1652.23 165.32 L1652.09 163.45 L1651.97 161.57 L1651.85 159.7 L1651.73 157.83 L1651.63 155.95 L1651.53 154.08 L1651.43 152.21 L1651.35 150.33 L1651.27 148.46 L1651.19 146.59 L1651.13 144.71 L1651.07 142.84 L1651.01 140.97 L1650.96 139.09 L1650.95 137.22 L1650.95 135.35 L1650.95 133.47 L1650.95 131.6Z" fill="none" stroke="#BF2B21" stroke-width="0.9"/>
<line x1="1650.6" y1="131.6" x2="1650.6" y2="244" stroke="#BF2B21" stroke-width="1"/>
<rect x="1645.8" y="173.1" width="9.6" height="28.9" fill="#fff" stroke="#BF2B21" stroke-width="2"/>
<line x1="1645.8" y1="187.7" x2="1655.4" y2="187.7" stroke="#BF2B21" stroke-width="4.6"/>
<line x1="1650.6" y1="365.2" x2="1650.6" y2="372.6" stroke="#111" stroke-width="1.5"/>
<text x="1657.8" y="377" font-size="18.8" text-anchor="end" transform="rotate(-90 1657.8 377)">B memory</text>
<line x1="1668.3" y1="115.6" x2="1668.3" y2="282.2" stroke="#1a1a1a" stroke-width="1.7"/>
<path d="M1667.95 115.6 L1667.95 118.38 L1667.95 121.15 L1667.95 123.93 L1667.95 126.71 L1667.93 129.48 L1667.85 132.26 L1667.75 135.04 L1667.63 137.81 L1667.49 140.59 L1667.33 143.37 L1667.15 146.14 L1666.94 148.92 L1666.7 151.7 L1666.43 154.47 L1666.14 157.25 L1665.82 160.03 L1665.47 162.8 L1665.1 165.58 L1664.71 168.36 L1664.31 171.13 L1663.91 173.91 L1663.51 176.69 L1663.14 179.46 L1662.8 182.24 L1662.52 185.02 L1662.34 187.79 L1662.35 190.57 L1662.57 193.35 L1662.88 196.12 L1663.25 198.9 L1663.66 201.68 L1664.09 204.45 L1664.52 207.23 L1664.94 210.01 L1665.35 212.78 L1665.73 215.56 L1666.08 218.34 L1666.4 221.11 L1666.68 223.89 L1666.94 226.67 L1667.16 229.44 L1667.36 232.22 L1667.52 235 L1667.66 237.77 L1667.78 240.55 L1667.88 243.33 L1667.95 246.1 L1667.95 248.88 L1667.95 251.66 L1667.95 254.43 L1667.95 257.21 L1667.95 259.99 L1667.95 262.76 L1667.95 265.54 L1667.95 268.32 L1667.95 271.09 L1667.95 273.87 L1667.95 276.65 L1667.95 279.42 L1667.95 282.2 L1668.65 282.2 L1668.65 279.42 L1668.65 276.65 L1668.65 273.87 L1668.65 271.09 L1668.65 268.32 L1668.65 265.54 L1668.65 262.76 L1668.65 259.99 L1668.65 257.21 L1668.65 254.43 L1668.65 251.66 L1668.65 248.88 L1668.65 246.1 L1668.72 243.33 L1668.82 240.55 L1668.94 237.77 L1669.08 235 L1669.24 232.22 L1669.44 229.44 L1669.66 226.67 L1669.92 223.89 L1670.2 221.11 L1670.52 218.34 L1670.87 215.56 L1671.25 212.78 L1671.66 210.01 L1672.08 207.23 L1672.51 204.45 L1672.94 201.68 L1673.35 198.9 L1673.72 196.12 L1674.03 193.35 L1674.25 190.57 L1674.26 187.79 L1674.08 185.02 L1673.8 182.24 L1673.46 179.46 L1673.09 176.69 L1672.69 173.91 L1672.29 171.13 L1671.89 168.36 L1671.5 165.58 L1671.13 162.8 L1670.78 160.03 L1670.46 157.25 L1670.17 154.47 L1669.9 151.7 L1669.66 148.92 L1669.45 146.14 L1669.27 143.37 L1669.11 140.59 L1668.97 137.81 L1668.85 135.04 L1668.75 132.26 L1668.67 129.48 L1668.65 126.71 L1668.65 123.93 L1668.65 121.15 L1668.65 118.38 L1668.65 115.6Z" fill="#fff" stroke="#1a1a1a" stroke-width="1.85"/>
<path d="M1667.95 131.6 L1667.95 133.51 L1667.95 135.43 L1667.95 137.34 L1667.93 139.25 L1667.88 141.17 L1667.82 143.08 L1667.76 144.99 L1667.7 146.91 L1667.62 148.82 L1667.54 150.73 L1667.46 152.65 L1667.36 154.56 L1667.26 156.47 L1667.16 158.39 L1667.04 160.3 L1666.92 162.21 L1666.8 164.13 L1666.67 166.04 L1666.53 167.95 L1666.4 169.87 L1666.26 171.78 L1666.12 173.69 L1665.98 175.61 L1665.85 177.52 L1665.72 179.43 L1665.6 181.35 L1665.5 183.26 L1665.41 185.17 L1665.34 187.09 L1665.3 189 L1665.33 190.91 L1665.41 192.83 L1665.51 194.74 L1665.62 196.65 L1665.75 198.57 L1665.89 200.48 L1666.04 202.39 L1666.18 204.31 L1666.33 206.22 L1666.48 208.13 L1666.62 210.05 L1666.77 211.96 L1666.9 213.87 L1667.03 215.79 L1667.15 217.7 L1667.26 219.61 L1667.37 221.53 L1667.47 223.44 L1667.56 225.35 L1667.65 227.27 L1667.72 229.18 L1667.79 231.09 L1667.85 233.01 L1667.91 234.92 L1667.95 236.83 L1667.95 238.75 L1667.95 240.66 L1667.95 242.57 L1667.95 244.49 L1667.95 246.4 L1668.65 246.4 L1668.65 244.49 L1668.65 242.57 L1668.65 240.66 L1668.65 238.75 L1668.65 236.83 L1668.69 234.92 L1668.75 233.01 L1668.81 231.09 L1668.88 229.18 L1668.95 227.27 L1669.04 225.35 L1669.13 223.44 L1669.23 221.53 L1669.34 219.61 L1669.45 217.7 L1669.57 215.79 L1669.7 213.87 L1669.83 211.96 L1669.98 210.05 L1670.12 208.13 L1670.27 206.22 L1670.42 204.31 L1670.56 202.39 L1670.71 200.48 L1670.85 198.57 L1670.98 196.65 L1671.09 194.74 L1671.19 192.83 L1671.27 190.91 L1671.3 189 L1671.26 187.09 L1671.19 185.17 L1671.1 183.26 L1671 181.35 L1670.88 179.43 L1670.75 177.52 L1670.62 175.61 L1670.48 173.69 L1670.34 171.78 L1670.2 169.87 L1670.07 167.95 L1669.93 166.04 L1669.8 164.13 L1669.68 162.21 L1669.56 160.3 L1669.44 158.39 L1669.34 156.47 L1669.24 154.56 L1669.14 152.65 L1669.06 150.73 L1668.98 148.82 L1668.9 146.91 L1668.84 144.99 L1668.78 143.08 L1668.72 141.17 L1668.67 139.25 L1668.65 137.34 L1668.65 135.43 L1668.65 133.51 L1668.65 131.6Z" fill="none" stroke="#BF2B21" stroke-width="0.9"/>
<line x1="1668.3" y1="131.6" x2="1668.3" y2="246.4" stroke="#BF2B21" stroke-width="1"/>
<rect x="1663.5" y="174" width="9.6" height="29.2" fill="#fff" stroke="#BF2B21" stroke-width="2"/>
<line x1="1663.5" y1="189.1" x2="1673.1" y2="189.1" stroke="#BF2B21" stroke-width="4.6"/>
<line x1="1668.3" y1="365.2" x2="1668.3" y2="372.6" stroke="#111" stroke-width="1.5"/>
<text x="1675.5" y="377" font-size="18.8" text-anchor="end" transform="rotate(-90 1675.5 377)">B intermediate</text>
<line x1="1685.9" y1="114.8" x2="1685.9" y2="248.9" stroke="#1a1a1a" stroke-width="1.7"/>
<path d="M1685.55 114.8 L1685.55 117.03 L1685.55 119.27 L1685.55 121.5 L1685.55 123.74 L1685.55 125.97 L1685.55 128.21 L1685.55 130.44 L1685.55 132.68 L1685.49 134.91 L1685.41 137.15 L1685.31 139.38 L1685.2 141.62 L1685.08 143.85 L1684.94 146.09 L1684.78 148.32 L1684.6 150.56 L1684.39 152.8 L1684.17 155.03 L1683.92 157.27 L1683.65 159.5 L1683.36 161.74 L1683.05 163.97 L1682.72 166.21 L1682.38 168.44 L1682.03 170.68 L1681.67 172.91 L1681.32 175.15 L1680.97 177.38 L1680.65 179.62 L1680.36 181.85 L1680.12 184.09 L1679.95 186.32 L1679.92 188.56 L1680.05 190.79 L1680.24 193.03 L1680.49 195.26 L1680.77 197.5 L1681.07 199.73 L1681.39 201.97 L1681.72 204.2 L1682.04 206.44 L1682.36 208.67 L1682.68 210.91 L1682.98 213.14 L1683.27 215.38 L1683.54 217.61 L1683.79 219.85 L1684.03 222.08 L1684.25 224.32 L1684.45 226.55 L1684.63 228.79 L1684.79 231.02 L1684.94 233.25 L1685.07 235.49 L1685.18 237.73 L1685.29 239.96 L1685.38 242.2 L1685.45 244.43 L1685.52 246.67 L1685.55 248.9 L1686.25 248.9 L1686.28 246.67 L1686.35 244.43 L1686.42 242.2 L1686.51 239.96 L1686.62 237.73 L1686.73 235.49 L1686.86 233.25 L1687.01 231.02 L1687.17 228.79 L1687.35 226.55 L1687.55 224.32 L1687.77 222.08 L1688.01 219.85 L1688.26 217.61 L1688.53 215.38 L1688.82 213.14 L1689.12 210.91 L1689.44 208.67 L1689.76 206.44 L1690.08 204.2 L1690.41 201.97 L1690.73 199.73 L1691.03 197.5 L1691.31 195.26 L1691.56 193.03 L1691.75 190.79 L1691.88 188.56 L1691.85 186.32 L1691.68 184.09 L1691.44 181.85 L1691.15 179.62 L1690.83 177.38 L1690.48 175.15 L1690.13 172.91 L1689.77 170.68 L1689.42 168.44 L1689.08 166.21 L1688.75 163.97 L1688.44 161.74 L1688.15 159.5 L1687.88 157.27 L1687.63 155.03 L1687.41 152.8 L1687.2 150.56 L1687.02 148.32 L1686.86 146.09 L1686.72 143.85 L1686.6 141.62 L1686.49 139.38 L1686.39 137.15 L1686.31 134.91 L1686.25 132.68 L1686.25 130.44 L1686.25 128.21 L1686.25 125.97 L1686.25 123.74 L1686.25 121.5 L1686.25 119.27 L1686.25 117.03 L1686.25 114.8Z" fill="#fff" stroke="#1a1a1a" stroke-width="1.85"/>
<path d="M1685.51 143 L1685.47 144.5 L1685.42 145.99 L1685.37 147.49 L1685.31 148.99 L1685.25 150.48 L1685.18 151.98 L1685.11 153.48 L1685.04 154.97 L1684.96 156.47 L1684.87 157.97 L1684.78 159.46 L1684.68 160.96 L1684.58 162.46 L1684.48 163.95 L1684.37 165.45 L1684.26 166.95 L1684.14 168.44 L1684.02 169.94 L1683.9 171.44 L1683.78 172.93 L1683.66 174.43 L1683.55 175.93 L1683.43 177.42 L1683.32 178.92 L1683.22 180.42 L1683.12 181.91 L1683.04 183.41 L1682.97 184.91 L1682.92 186.4 L1682.9 187.9 L1682.93 189.4 L1682.98 190.89 L1683.04 192.39 L1683.12 193.89 L1683.2 195.38 L1683.29 196.88 L1683.39 198.38 L1683.5 199.87 L1683.6 201.37 L1683.71 202.87 L1683.82 204.36 L1683.93 205.86 L1684.04 207.36 L1684.15 208.85 L1684.25 210.35 L1684.35 211.85 L1684.45 213.34 L1684.55 214.84 L1684.64 216.34 L1684.73 217.83 L1684.82 219.33 L1684.9 220.83 L1684.98 222.32 L1685.05 223.82 L1685.12 225.32 L1685.18 226.81 L1685.25 228.31 L1685.3 229.81 L1685.36 231.3 L1685.4 232.8 L1686.4 232.8 L1686.44 231.3 L1686.5 229.81 L1686.55 228.31 L1686.62 226.81 L1686.68 225.32 L1686.75 223.82 L1686.82 222.32 L1686.9 220.83 L1686.98 219.33 L1687.07 217.83 L1687.16 216.34 L1687.25 214.84 L1687.35 213.34 L1687.45 211.85 L1687.55 210.35 L1687.65 208.85 L1687.76 207.36 L1687.87 205.86 L1687.98 204.36 L1688.09 202.87 L1688.2 201.37 L1688.3 199.87 L1688.41 198.38 L1688.51 196.88 L1688.6 195.38 L1688.68 193.89 L1688.76 192.39 L1688.82 190.89 L1688.87 189.4 L1688.9 187.9 L1688.88 186.4 L1688.83 184.91 L1688.76 183.41 L1688.68 181.91 L1688.58 180.42 L1688.48 178.92 L1688.37 177.42 L1688.25 175.93 L1688.14 174.43 L1688.02 172.93 L1687.9 171.44 L1687.78 169.94 L1687.66 168.44 L1687.54 166.95 L1687.43 165.45 L1687.32 163.95 L1687.22 162.46 L1687.12 160.96 L1687.02 159.46 L1686.93 157.97 L1686.84 156.47 L1686.76 154.97 L1686.69 153.48 L1686.62 151.98 L1686.55 150.48 L1686.49 148.99 L1686.43 147.49 L1686.38 145.99 L1686.33 144.5 L1686.29 143Z" fill="none" stroke="#BF2B21" stroke-width="0.9"/>
<line x1="1685.9" y1="143" x2="1685.9" y2="232.8" stroke="#BF2B21" stroke-width="1"/>
<rect x="1681.1" y="174" width="9.6" height="28.7" fill="#fff" stroke="#BF2B21" stroke-width="2"/>
<line x1="1681.1" y1="187.7" x2="1690.7" y2="187.7" stroke="#BF2B21" stroke-width="4.6"/>
<line x1="1685.9" y1="365.2" x2="1685.9" y2="372.6" stroke="#111" stroke-width="1.5"/>
<text x="1693.1" y="377" font-size="18.8" text-anchor="end" transform="rotate(-90 1693.1 377)">ASDC</text>
<line x1="1703.6" y1="106.9" x2="1703.6" y2="279.8" stroke="#1a1a1a" stroke-width="1.7"/>
<path d="M1703.25 106.9 L1703.25 109.78 L1703.25 112.66 L1703.25 115.55 L1703.25 118.43 L1703.25 121.31 L1703.25 124.19 L1703.25 127.07 L1703.25 129.95 L1703.25 132.84 L1703.25 135.72 L1703.25 138.6 L1703.21 141.48 L1703.11 144.36 L1702.99 147.24 L1702.84 150.12 L1702.66 153.01 L1702.45 155.89 L1702.2 158.77 L1701.91 161.65 L1701.59 164.53 L1701.23 167.42 L1700.82 170.3 L1700.39 173.18 L1699.92 176.06 L1699.44 178.94 L1698.96 181.82 L1698.48 184.71 L1698.04 187.59 L1697.66 190.47 L1697.39 193.35 L1697.33 196.23 L1697.57 199.11 L1697.95 202 L1698.41 204.88 L1698.92 207.76 L1699.43 210.64 L1699.94 213.52 L1700.44 216.4 L1700.89 219.29 L1701.31 222.17 L1701.69 225.05 L1702.02 227.93 L1702.31 230.81 L1702.55 233.69 L1702.76 236.58 L1702.93 239.46 L1703.07 242.34 L1703.19 245.22 L1703.25 248.1 L1703.25 250.98 L1703.25 253.87 L1703.25 256.75 L1703.25 259.63 L1703.25 262.51 L1703.25 265.39 L1703.25 268.27 L1703.25 271.16 L1703.25 274.04 L1703.25 276.92 L1703.25 279.8 L1703.95 279.8 L1703.95 276.92 L1703.95 274.04 L1703.95 271.16 L1703.95 268.27 L1703.95 265.39 L1703.95 262.51 L1703.95 259.63 L1703.95 256.75 L1703.95 253.87 L1703.95 250.98 L1703.95 248.1 L1704.01 245.22 L1704.13 242.34 L1704.27 239.46 L1704.44 236.58 L1704.65 233.69 L1704.89 230.81 L1705.18 227.93 L1705.51 225.05 L1705.89 222.17 L1706.31 219.29 L1706.76 216.4 L1707.26 213.52 L1707.77 210.64 L1708.28 207.76 L1708.79 204.88 L1709.25 202 L1709.63 199.11 L1709.87 196.23 L1709.81 193.35 L1709.54 190.47 L1709.16 187.59 L1708.72 184.71 L1708.24 181.82 L1707.76 178.94 L1707.28 176.06 L1706.81 173.18 L1706.38 170.3 L1705.97 167.42 L1705.61 164.53 L1705.29 161.65 L1705 158.77 L1704.75 155.89 L1704.54 153.01 L1704.36 150.12 L1704.21 147.24 L1704.09 144.36 L1703.99 141.48 L1703.95 138.6 L1703.95 135.72 L1703.95 132.84 L1703.95 129.95 L1703.95 127.07 L1703.95 124.19 L1703.95 121.31 L1703.95 118.43 L1703.95 115.55 L1703.95 112.66 L1703.95 109.78 L1703.95 106.9Z" fill="#fff" stroke="#1a1a1a" stroke-width="1.85"/>
<path d="M1703.25 144.4 L1703.25 146.1 L1703.25 147.8 L1703.24 149.5 L1703.19 151.2 L1703.13 152.9 L1703.07 154.6 L1703.01 156.3 L1702.93 158 L1702.86 159.7 L1702.77 161.4 L1702.68 163.1 L1702.58 164.8 L1702.47 166.5 L1702.36 168.2 L1702.24 169.9 L1702.12 171.6 L1701.98 173.3 L1701.85 175 L1701.71 176.7 L1701.57 178.4 L1701.42 180.1 L1701.28 181.8 L1701.14 183.5 L1701 185.2 L1700.87 186.9 L1700.75 188.6 L1700.64 190.3 L1700.55 192 L1700.48 193.7 L1700.45 195.4 L1700.49 197.1 L1700.57 198.8 L1700.67 200.5 L1700.79 202.2 L1700.93 203.9 L1701.07 205.6 L1701.22 207.3 L1701.37 209 L1701.52 210.7 L1701.67 212.4 L1701.82 214.1 L1701.97 215.8 L1702.11 217.5 L1702.24 219.2 L1702.37 220.9 L1702.49 222.6 L1702.6 224.3 L1702.7 226 L1702.8 227.7 L1702.89 229.4 L1702.97 231.1 L1703.04 232.8 L1703.11 234.5 L1703.17 236.2 L1703.22 237.9 L1703.25 239.6 L1703.25 241.3 L1703.25 243 L1703.25 244.7 L1703.25 246.4 L1703.95 246.4 L1703.95 244.7 L1703.95 243 L1703.95 241.3 L1703.95 239.6 L1703.98 237.9 L1704.03 236.2 L1704.09 234.5 L1704.16 232.8 L1704.23 231.1 L1704.31 229.4 L1704.4 227.7 L1704.5 226 L1704.6 224.3 L1704.71 222.6 L1704.83 220.9 L1704.96 219.2 L1705.09 217.5 L1705.23 215.8 L1705.38 214.1 L1705.53 212.4 L1705.68 210.7 L1705.83 209 L1705.98 207.3 L1706.13 205.6 L1706.27 203.9 L1706.41 202.2 L1706.53 200.5 L1706.63 198.8 L1706.71 197.1 L1706.75 195.4 L1706.72 193.7 L1706.65 192 L1706.56 190.3 L1706.45 188.6 L1706.33 186.9 L1706.2 185.2 L1706.06 183.5 L1705.92 181.8 L1705.78 180.1 L1705.63 178.4 L1705.49 176.7 L1705.35 175 L1705.22 173.3 L1705.08 171.6 L1704.96 169.9 L1704.84 168.2 L1704.73 166.5 L1704.62 164.8 L1704.52 163.1 L1704.43 161.4 L1704.34 159.7 L1704.27 158 L1704.19 156.3 L1704.13 154.6 L1704.07 152.9 L1704.01 151.2 L1703.96 149.5 L1703.95 147.8 L1703.95 146.1 L1703.95 144.4Z" fill="none" stroke="#BF2B21" stroke-width="0.9"/>
<line x1="1703.6" y1="144.4" x2="1703.6" y2="246.4" stroke="#BF2B21" stroke-width="1"/>
<rect x="1698.8" y="181.7" width="9.6" height="26.4" fill="#fff" stroke="#BF2B21" stroke-width="2"/>
<line x1="1698.8" y1="195.3" x2="1708.4" y2="195.3" stroke="#BF2B21" stroke-width="4.6"/>
<line x1="1703.6" y1="365.2" x2="1703.6" y2="372.6" stroke="#111" stroke-width="1.5"/>
<text x="1710.8" y="377" font-size="18.8" text-anchor="end" transform="rotate(-90 1710.8 377)">B naive</text>
<line x1="1721.2" y1="98.8" x2="1721.2" y2="304.4" stroke="#1a1a1a" stroke-width="1.7"/>
<path d="M1720.85 98.8 L1720.85 102.23 L1720.85 105.65 L1720.85 109.08 L1720.85 112.51 L1720.85 115.93 L1720.85 119.36 L1720.85 122.79 L1720.85 126.21 L1720.85 129.64 L1720.85 133.07 L1720.85 136.49 L1720.85 139.92 L1720.85 143.35 L1720.78 146.77 L1720.68 150.2 L1720.58 153.63 L1720.45 157.05 L1720.31 160.48 L1720.14 163.91 L1719.95 167.33 L1719.73 170.76 L1719.49 174.19 L1719.23 177.61 L1718.93 181.04 L1718.62 184.47 L1718.28 187.89 L1717.92 191.32 L1717.55 194.75 L1717.17 198.17 L1716.79 201.6 L1716.42 205.03 L1716.08 208.45 L1715.78 211.88 L1715.54 215.31 L1715.41 218.73 L1715.49 222.16 L1715.72 225.59 L1716.03 229.01 L1716.39 232.44 L1716.78 235.87 L1717.18 239.29 L1717.58 242.72 L1717.97 246.15 L1718.35 249.57 L1718.71 253 L1719.03 256.43 L1719.34 259.85 L1719.61 263.28 L1719.85 266.71 L1720.06 270.13 L1720.25 273.56 L1720.41 276.99 L1720.55 280.41 L1720.67 283.84 L1720.77 287.27 L1720.85 290.69 L1720.85 294.12 L1720.85 297.55 L1720.85 300.97 L1720.85 304.4 L1721.55 304.4 L1721.55 300.97 L1721.55 297.55 L1721.55 294.12 L1721.55 290.69 L1721.63 287.27 L1721.73 283.84 L1721.85 280.41 L1721.99 276.99 L1722.15 273.56 L1722.34 270.13 L1722.55 266.71 L1722.79 263.28 L1723.06 259.85 L1723.37 256.43 L1723.69 253 L1724.05 249.57 L1724.43 246.15 L1724.82 242.72 L1725.22 239.29 L1725.62 235.87 L1726.01 232.44 L1726.37 229.01 L1726.68 225.59 L1726.91 222.16 L1726.99 218.73 L1726.86 215.31 L1726.62 211.88 L1726.32 208.45 L1725.98 205.03 L1725.61 201.6 L1725.23 198.17 L1724.85 194.75 L1724.48 191.32 L1724.12 187.89 L1723.78 184.47 L1723.47 181.04 L1723.17 177.61 L1722.91 174.19 L1722.67 170.76 L1722.45 167.33 L1722.26 163.91 L1722.09 160.48 L1721.95 157.05 L1721.82 153.63 L1721.72 150.2 L1721.62 146.77 L1721.55 143.35 L1721.55 139.92 L1721.55 136.49 L1721.55 133.07 L1721.55 129.64 L1721.55 126.21 L1721.55 122.79 L1721.55 119.36 L1721.55 115.93 L1721.55 112.51 L1721.55 109.08 L1721.55 105.65 L1721.55 102.23 L1721.55 98.8Z" fill="#fff" stroke="#1a1a1a" stroke-width="1.85"/>
<path d="M1720.85 147.7 L1720.85 150.06 L1720.85 152.43 L1720.85 154.79 L1720.82 157.16 L1720.77 159.53 L1720.72 161.89 L1720.66 164.25 L1720.6 166.62 L1720.52 168.98 L1720.45 171.35 L1720.36 173.72 L1720.27 176.08 L1720.18 178.44 L1720.08 180.81 L1719.97 183.18 L1719.86 185.54 L1719.74 187.91 L1719.62 190.27 L1719.49 192.63 L1719.36 195 L1719.23 197.37 L1719.1 199.73 L1718.97 202.09 L1718.84 204.46 L1718.72 206.82 L1718.61 209.19 L1718.5 211.56 L1718.42 213.92 L1718.35 216.29 L1718.3 218.65 L1718.32 221.02 L1718.38 223.38 L1718.47 225.75 L1718.57 228.11 L1718.69 230.48 L1718.82 232.84 L1718.95 235.21 L1719.09 237.57 L1719.23 239.94 L1719.37 242.3 L1719.5 244.67 L1719.64 247.03 L1719.77 249.4 L1719.89 251.76 L1720.01 254.12 L1720.12 256.49 L1720.23 258.86 L1720.32 261.22 L1720.41 263.59 L1720.5 265.95 L1720.58 268.31 L1720.65 270.68 L1720.71 273.05 L1720.77 275.41 L1720.82 277.77 L1720.85 280.14 L1720.85 282.5 L1720.85 284.87 L1720.85 287.24 L1720.85 289.6 L1721.55 289.6 L1721.55 287.24 L1721.55 284.87 L1721.55 282.5 L1721.55 280.14 L1721.58 277.77 L1721.63 275.41 L1721.69 273.05 L1721.75 270.68 L1721.82 268.31 L1721.9 265.95 L1721.99 263.59 L1722.08 261.22 L1722.17 258.86 L1722.28 256.49 L1722.39 254.12 L1722.51 251.76 L1722.63 249.4 L1722.76 247.03 L1722.9 244.67 L1723.03 242.3 L1723.17 239.94 L1723.31 237.57 L1723.45 235.21 L1723.58 232.84 L1723.71 230.48 L1723.83 228.11 L1723.93 225.75 L1724.02 223.38 L1724.08 221.02 L1724.1 218.65 L1724.05 216.29 L1723.98 213.92 L1723.9 211.56 L1723.79 209.19 L1723.68 206.82 L1723.56 204.46 L1723.43 202.09 L1723.3 199.73 L1723.17 197.37 L1723.04 195 L1722.91 192.63 L1722.78 190.27 L1722.66 187.91 L1722.54 185.54 L1722.43 183.18 L1722.32 180.81 L1722.22 178.44 L1722.13 176.08 L1722.04 173.72 L1721.95 171.35 L1721.88 168.98 L1721.8 166.62 L1721.74 164.25 L1721.68 161.89 L1721.63 159.53 L1721.58 157.16 L1721.55 154.79 L1721.55 152.43 L1721.55 150.06 L1721.55 147.7Z" fill="none" stroke="#BF2B21" stroke-width="0.9"/>
<line x1="1721.2" y1="147.7" x2="1721.2" y2="289.6" stroke="#BF2B21" stroke-width="1"/>
<rect x="1716.4" y="200.2" width="9.6" height="37.1" fill="#fff" stroke="#BF2B21" stroke-width="2"/>
<line x1="1716.4" y1="219.3" x2="1726" y2="219.3" stroke="#BF2B21" stroke-width="4.6"/>
<line x1="1721.2" y1="365.2" x2="1721.2" y2="372.6" stroke="#111" stroke-width="1.5"/>
<text x="1728.4" y="377" font-size="18.8" text-anchor="end" transform="rotate(-90 1728.4 377)">CD16 Mono</text>
<line x1="1738.9" y1="161.7" x2="1738.9" y2="278.5" stroke="#1a1a1a" stroke-width="1.7"/>
<path d="M1738.55 161.7 L1738.55 163.65 L1738.55 165.59 L1738.54 167.54 L1738.48 169.49 L1738.41 171.43 L1738.33 173.38 L1738.24 175.33 L1738.14 177.27 L1738.03 179.22 L1737.9 181.17 L1737.77 183.11 L1737.61 185.06 L1737.44 187.01 L1737.26 188.95 L1737.06 190.9 L1736.85 192.85 L1736.61 194.79 L1736.37 196.74 L1736.11 198.69 L1735.83 200.63 L1735.55 202.58 L1735.25 204.53 L1734.95 206.47 L1734.65 208.42 L1734.35 210.37 L1734.05 212.31 L1733.77 214.26 L1733.51 216.21 L1733.28 218.15 L1733.09 220.1 L1732.95 222.05 L1732.91 223.99 L1733.01 225.94 L1733.19 227.89 L1733.41 229.83 L1733.67 231.78 L1733.95 233.73 L1734.24 235.67 L1734.55 237.62 L1734.86 239.57 L1735.16 241.51 L1735.47 243.46 L1735.76 245.41 L1736.04 247.35 L1736.31 249.3 L1736.57 251.25 L1736.81 253.19 L1737.03 255.14 L1737.24 257.09 L1737.43 259.03 L1737.6 260.98 L1737.76 262.93 L1737.9 264.87 L1738.03 266.82 L1738.14 268.77 L1738.24 270.71 L1738.33 272.66 L1738.41 274.61 L1738.48 276.55 L1738.54 278.5 L1739.26 278.5 L1739.32 276.55 L1739.39 274.61 L1739.47 272.66 L1739.56 270.71 L1739.66 268.77 L1739.77 266.82 L1739.9 264.87 L1740.04 262.93 L1740.2 260.98 L1740.37 259.03 L1740.56 257.09 L1740.77 255.14 L1740.99 253.19 L1741.23 251.25 L1741.49 249.3 L1741.76 247.35 L1742.04 245.41 L1742.33 243.46 L1742.64 241.51 L1742.94 239.57 L1743.25 237.62 L1743.56 235.67 L1743.85 233.73 L1744.13 231.78 L1744.39 229.83 L1744.61 227.89 L1744.79 225.94 L1744.89 223.99 L1744.85 222.05 L1744.71 220.1 L1744.52 218.15 L1744.29 216.21 L1744.03 214.26 L1743.75 212.31 L1743.45 210.37 L1743.15 208.42 L1742.85 206.47 L1742.55 204.53 L1742.25 202.58 L1741.97 200.63 L1741.69 198.69 L1741.43 196.74 L1741.19 194.79 L1740.95 192.85 L1740.74 190.9 L1740.54 188.95 L1740.36 187.01 L1740.19 185.06 L1740.03 183.11 L1739.9 181.17 L1739.77 179.22 L1739.66 177.27 L1739.56 175.33 L1739.47 173.38 L1739.39 171.43 L1739.32 169.49 L1739.26 167.54 L1739.25 165.59 L1739.25 163.65 L1739.25 161.7Z" fill="#fff" stroke="#1a1a1a" stroke-width="1.85"/>
<path d="M1738.55 172.3 L1738.55 174.05 L1738.55 175.8 L1738.51 177.55 L1738.46 179.3 L1738.41 181.05 L1738.34 182.8 L1738.28 184.55 L1738.2 186.3 L1738.12 188.05 L1738.04 189.8 L1737.95 191.55 L1737.85 193.3 L1737.74 195.05 L1737.63 196.8 L1737.51 198.55 L1737.39 200.3 L1737.26 202.05 L1737.13 203.8 L1737 205.55 L1736.86 207.3 L1736.73 209.05 L1736.59 210.8 L1736.46 212.55 L1736.33 214.3 L1736.22 216.05 L1736.11 217.8 L1736.02 219.55 L1735.95 221.3 L1735.9 223.05 L1735.92 224.8 L1735.98 226.55 L1736.07 228.3 L1736.17 230.05 L1736.28 231.8 L1736.41 233.55 L1736.54 235.3 L1736.68 237.05 L1736.82 238.8 L1736.96 240.55 L1737.09 242.3 L1737.23 244.05 L1737.36 245.8 L1737.49 247.55 L1737.61 249.3 L1737.72 251.05 L1737.83 252.8 L1737.93 254.55 L1738.03 256.3 L1738.12 258.05 L1738.2 259.8 L1738.27 261.55 L1738.34 263.3 L1738.41 265.05 L1738.46 266.8 L1738.52 268.55 L1738.55 270.3 L1738.55 272.05 L1738.55 273.8 L1738.55 275.55 L1738.55 277.3 L1739.25 277.3 L1739.25 275.55 L1739.25 273.8 L1739.25 272.05 L1739.25 270.3 L1739.28 268.55 L1739.34 266.8 L1739.39 265.05 L1739.46 263.3 L1739.53 261.55 L1739.6 259.8 L1739.68 258.05 L1739.77 256.3 L1739.87 254.55 L1739.97 252.8 L1740.08 251.05 L1740.19 249.3 L1740.31 247.55 L1740.44 245.8 L1740.57 244.05 L1740.71 242.3 L1740.84 240.55 L1740.98 238.8 L1741.12 237.05 L1741.26 235.3 L1741.39 233.55 L1741.52 231.8 L1741.63 230.05 L1741.73 228.3 L1741.82 226.55 L1741.88 224.8 L1741.9 223.05 L1741.85 221.3 L1741.78 219.55 L1741.69 217.8 L1741.58 216.05 L1741.47 214.3 L1741.34 212.55 L1741.21 210.8 L1741.07 209.05 L1740.94 207.3 L1740.8 205.55 L1740.67 203.8 L1740.54 202.05 L1740.41 200.3 L1740.29 198.55 L1740.17 196.8 L1740.06 195.05 L1739.95 193.3 L1739.85 191.55 L1739.76 189.8 L1739.68 188.05 L1739.6 186.3 L1739.52 184.55 L1739.46 182.8 L1739.39 181.05 L1739.34 179.3 L1739.29 177.55 L1739.25 175.8 L1739.25 174.05 L1739.25 172.3Z" fill="none" stroke="#BF2B21" stroke-width="0.9"/>
<line x1="1738.9" y1="172.3" x2="1738.9" y2="277.3" stroke="#BF2B21" stroke-width="1"/>
<rect x="1734.1" y="209.4" width="9.6" height="27.9" fill="#fff" stroke="#BF2B21" stroke-width="2"/>
<line x1="1734.1" y1="223.5" x2="1743.7" y2="223.5" stroke="#BF2B21" stroke-width="4.6"/>
<line x1="1738.9" y1="365.2" x2="1738.9" y2="372.6" stroke="#111" stroke-width="1.5"/>
<text x="1746.1" y="377" font-size="18.8" text-anchor="end" transform="rotate(-90 1746.1 377)">pDC</text>
<line x1="1756.5" y1="143.2" x2="1756.5" y2="302" stroke="#1a1a1a" stroke-width="1.7"/>
<path d="M1756.15 143.2 L1756.15 145.85 L1756.12 148.49 L1756.07 151.14 L1756 153.79 L1755.93 156.43 L1755.85 159.08 L1755.75 161.73 L1755.65 164.37 L1755.54 167.02 L1755.41 169.67 L1755.28 172.31 L1755.13 174.96 L1754.97 177.61 L1754.79 180.25 L1754.6 182.9 L1754.4 185.55 L1754.18 188.19 L1753.95 190.84 L1753.71 193.49 L1753.46 196.13 L1753.2 198.78 L1752.93 201.43 L1752.66 204.07 L1752.39 206.72 L1752.11 209.37 L1751.85 212.01 L1751.59 214.66 L1751.35 217.31 L1751.13 219.95 L1750.95 222.6 L1750.8 225.25 L1750.71 227.89 L1750.75 230.54 L1750.89 233.19 L1751.09 235.83 L1751.33 238.48 L1751.6 241.13 L1751.89 243.77 L1752.19 246.42 L1752.49 249.07 L1752.8 251.71 L1753.1 254.36 L1753.4 257.01 L1753.68 259.65 L1753.95 262.3 L1754.21 264.95 L1754.45 267.59 L1754.67 270.24 L1754.87 272.89 L1755.06 275.53 L1755.24 278.18 L1755.39 280.83 L1755.53 283.47 L1755.66 286.12 L1755.77 288.77 L1755.87 291.41 L1755.96 294.06 L1756.04 296.71 L1756.11 299.35 L1756.15 302 L1756.85 302 L1756.89 299.35 L1756.96 296.71 L1757.04 294.06 L1757.13 291.41 L1757.23 288.77 L1757.34 286.12 L1757.47 283.47 L1757.61 280.83 L1757.76 278.18 L1757.94 275.53 L1758.13 272.89 L1758.33 270.24 L1758.55 267.59 L1758.79 264.95 L1759.05 262.3 L1759.32 259.65 L1759.6 257.01 L1759.9 254.36 L1760.2 251.71 L1760.51 249.07 L1760.81 246.42 L1761.11 243.77 L1761.4 241.13 L1761.67 238.48 L1761.91 235.83 L1762.11 233.19 L1762.25 230.54 L1762.29 227.89 L1762.2 225.25 L1762.05 222.6 L1761.87 219.95 L1761.65 217.31 L1761.41 214.66 L1761.15 212.01 L1760.89 209.37 L1760.61 206.72 L1760.34 204.07 L1760.07 201.43 L1759.8 198.78 L1759.54 196.13 L1759.29 193.49 L1759.05 190.84 L1758.82 188.19 L1758.6 185.55 L1758.4 182.9 L1758.21 180.25 L1758.03 177.61 L1757.87 174.96 L1757.72 172.31 L1757.59 169.67 L1757.46 167.02 L1757.35 164.37 L1757.25 161.73 L1757.15 159.08 L1757.07 156.43 L1757 153.79 L1756.93 151.14 L1756.88 148.49 L1756.85 145.85 L1756.85 143.2Z" fill="#fff" stroke="#1a1a1a" stroke-width="1.85"/>
<path d="M1756.15 157.5 L1756.15 159.91 L1756.12 162.32 L1756.07 164.72 L1756.02 167.13 L1755.96 169.54 L1755.9 171.95 L1755.83 174.36 L1755.76 176.77 L1755.68 179.18 L1755.6 181.58 L1755.51 183.99 L1755.41 186.4 L1755.31 188.81 L1755.21 191.22 L1755.1 193.62 L1754.98 196.03 L1754.87 198.44 L1754.74 200.85 L1754.62 203.26 L1754.5 205.67 L1754.37 208.07 L1754.25 210.48 L1754.13 212.89 L1754.02 215.3 L1753.91 217.71 L1753.81 220.12 L1753.73 222.53 L1753.66 224.93 L1753.61 227.34 L1753.61 229.75 L1753.66 232.16 L1753.75 234.57 L1753.85 236.97 L1753.96 239.38 L1754.09 241.79 L1754.22 244.2 L1754.35 246.61 L1754.49 249.02 L1754.63 251.43 L1754.77 253.83 L1754.91 256.24 L1755.04 258.65 L1755.16 261.06 L1755.28 263.47 L1755.4 265.88 L1755.5 268.28 L1755.6 270.69 L1755.7 273.1 L1755.78 275.51 L1755.86 277.92 L1755.93 280.32 L1756 282.73 L1756.06 285.14 L1756.11 287.55 L1756.15 289.96 L1756.15 292.37 L1756.15 294.77 L1756.15 297.18 L1756.15 299.59 L1756.15 302 L1756.85 302 L1756.85 299.59 L1756.85 297.18 L1756.85 294.77 L1756.85 292.37 L1756.85 289.96 L1756.89 287.55 L1756.94 285.14 L1757 282.73 L1757.07 280.32 L1757.14 277.92 L1757.22 275.51 L1757.3 273.1 L1757.4 270.69 L1757.5 268.28 L1757.6 265.88 L1757.72 263.47 L1757.84 261.06 L1757.96 258.65 L1758.09 256.24 L1758.23 253.83 L1758.37 251.43 L1758.51 249.02 L1758.65 246.61 L1758.78 244.2 L1758.91 241.79 L1759.04 239.38 L1759.15 236.97 L1759.25 234.57 L1759.34 232.16 L1759.39 229.75 L1759.39 227.34 L1759.34 224.93 L1759.27 222.53 L1759.19 220.12 L1759.09 217.71 L1758.98 215.3 L1758.87 212.89 L1758.75 210.48 L1758.63 208.07 L1758.5 205.67 L1758.38 203.26 L1758.26 200.85 L1758.13 198.44 L1758.02 196.03 L1757.9 193.62 L1757.79 191.22 L1757.69 188.81 L1757.59 186.4 L1757.49 183.99 L1757.4 181.58 L1757.32 179.18 L1757.24 176.77 L1757.17 174.36 L1757.1 171.95 L1757.04 169.54 L1756.98 167.13 L1756.93 164.72 L1756.88 162.32 L1756.85 159.91 L1756.85 157.5Z" fill="none" stroke="#BF2B21" stroke-width="0.9"/>
<line x1="1756.5" y1="157.5" x2="1756.5" y2="302" stroke="#BF2B21" stroke-width="1"/>
<rect x="1751.7" y="208.1" width="9.6" height="38.8" fill="#fff" stroke="#BF2B21" stroke-width="2"/>
<line x1="1751.7" y1="228.6" x2="1761.3" y2="228.6" stroke="#BF2B21" stroke-width="4.6"/>
<line x1="1756.5" y1="365.2" x2="1756.5" y2="372.6" stroke="#111" stroke-width="1.5"/>
<text x="1763.7" y="377" font-size="18.8" text-anchor="end" transform="rotate(-90 1763.7 377)">Doublet</text>
<line x1="1774.2" y1="139" x2="1774.2" y2="303.2" stroke="#1a1a1a" stroke-width="1.7"/>
<path d="M1773.85 139 L1773.85 141.74 L1773.85 144.47 L1773.85 147.21 L1773.85 149.95 L1773.85 152.68 L1773.85 155.42 L1773.85 158.16 L1773.85 160.89 L1773.85 163.63 L1773.85 166.37 L1773.85 169.1 L1773.85 171.84 L1773.85 174.58 L1773.85 177.31 L1773.85 180.05 L1773.8 182.79 L1773.69 185.52 L1773.55 188.26 L1773.39 191 L1773.19 193.73 L1772.95 196.47 L1772.68 199.21 L1772.36 201.94 L1772 204.68 L1771.59 207.42 L1771.15 210.15 L1770.67 212.89 L1770.17 215.63 L1769.66 218.36 L1769.15 221.1 L1768.69 223.84 L1768.28 226.57 L1767.99 229.31 L1767.93 232.05 L1768.16 234.78 L1768.51 237.52 L1768.93 240.26 L1769.4 242.99 L1769.88 245.73 L1770.37 248.47 L1770.84 251.2 L1771.29 253.94 L1771.7 256.68 L1772.08 259.41 L1772.42 262.15 L1772.71 264.89 L1772.97 267.62 L1773.2 270.36 L1773.38 273.1 L1773.54 275.83 L1773.68 278.57 L1773.79 281.31 L1773.85 284.04 L1773.85 286.78 L1773.85 289.52 L1773.85 292.25 L1773.85 294.99 L1773.85 297.73 L1773.85 300.46 L1773.85 303.2 L1774.55 303.2 L1774.55 300.46 L1774.55 297.73 L1774.55 294.99 L1774.55 292.25 L1774.55 289.52 L1774.55 286.78 L1774.55 284.04 L1774.61 281.31 L1774.72 278.57 L1774.86 275.83 L1775.02 273.1 L1775.2 270.36 L1775.43 267.62 L1775.69 264.89 L1775.98 262.15 L1776.32 259.41 L1776.7 256.68 L1777.11 253.94 L1777.56 251.2 L1778.03 248.47 L1778.52 245.73 L1779 242.99 L1779.47 240.26 L1779.89 237.52 L1780.24 234.78 L1780.47 232.05 L1780.41 229.31 L1780.12 226.57 L1779.71 223.84 L1779.25 221.1 L1778.74 218.36 L1778.23 215.63 L1777.73 212.89 L1777.25 210.15 L1776.81 207.42 L1776.4 204.68 L1776.04 201.94 L1775.72 199.21 L1775.45 196.47 L1775.21 193.73 L1775.01 191 L1774.85 188.26 L1774.71 185.52 L1774.6 182.79 L1774.55 180.05 L1774.55 177.31 L1774.55 174.58 L1774.55 171.84 L1774.55 169.1 L1774.55 166.37 L1774.55 163.63 L1774.55 160.89 L1774.55 158.16 L1774.55 155.42 L1774.55 152.68 L1774.55 149.95 L1774.55 147.21 L1774.55 144.47 L1774.55 141.74 L1774.55 139Z" fill="#fff" stroke="#1a1a1a" stroke-width="1.85"/>
<path d="M1773.85 181 L1773.85 182.69 L1773.85 184.37 L1773.85 186.06 L1773.85 187.75 L1773.84 189.43 L1773.79 191.12 L1773.73 192.81 L1773.66 194.49 L1773.59 196.18 L1773.51 197.87 L1773.42 199.55 L1773.32 201.24 L1773.22 202.93 L1773.1 204.61 L1772.98 206.3 L1772.85 207.99 L1772.71 209.67 L1772.57 211.36 L1772.42 213.05 L1772.27 214.73 L1772.11 216.42 L1771.95 218.11 L1771.8 219.79 L1771.64 221.48 L1771.5 223.17 L1771.36 224.85 L1771.24 226.54 L1771.14 228.23 L1771.07 229.91 L1771.06 231.6 L1771.11 233.29 L1771.19 234.97 L1771.29 236.66 L1771.41 238.35 L1771.55 240.03 L1771.69 241.72 L1771.84 243.41 L1771.99 245.09 L1772.14 246.78 L1772.29 248.47 L1772.43 250.15 L1772.57 251.84 L1772.71 253.53 L1772.84 255.21 L1772.97 256.9 L1773.08 258.59 L1773.19 260.27 L1773.3 261.96 L1773.39 263.65 L1773.48 265.33 L1773.56 267.02 L1773.63 268.71 L1773.7 270.39 L1773.76 272.08 L1773.81 273.77 L1773.85 275.45 L1773.85 277.14 L1773.85 278.83 L1773.85 280.51 L1773.85 282.2 L1774.55 282.2 L1774.55 280.51 L1774.55 278.83 L1774.55 277.14 L1774.55 275.45 L1774.59 273.77 L1774.64 272.08 L1774.7 270.39 L1774.77 268.71 L1774.84 267.02 L1774.92 265.33 L1775.01 263.65 L1775.1 261.96 L1775.21 260.27 L1775.32 258.59 L1775.43 256.9 L1775.56 255.21 L1775.69 253.53 L1775.83 251.84 L1775.97 250.15 L1776.11 248.47 L1776.26 246.78 L1776.41 245.09 L1776.56 243.41 L1776.71 241.72 L1776.85 240.03 L1776.99 238.35 L1777.11 236.66 L1777.21 234.97 L1777.29 233.29 L1777.34 231.6 L1777.33 229.91 L1777.26 228.23 L1777.16 226.54 L1777.04 224.85 L1776.9 223.17 L1776.76 221.48 L1776.6 219.79 L1776.45 218.11 L1776.29 216.42 L1776.13 214.73 L1775.98 213.05 L1775.83 211.36 L1775.69 209.67 L1775.55 207.99 L1775.42 206.3 L1775.3 204.61 L1775.18 202.93 L1775.08 201.24 L1774.98 199.55 L1774.89 197.87 L1774.81 196.18 L1774.74 194.49 L1774.67 192.81 L1774.61 191.12 L1774.56 189.43 L1774.55 187.75 L1774.55 186.06 L1774.55 184.37 L1774.55 182.69 L1774.55 181Z" fill="none" stroke="#BF2B21" stroke-width="0.9"/>
<line x1="1774.2" y1="181" x2="1774.2" y2="282.2" stroke="#BF2B21" stroke-width="1"/>
<rect x="1769.4" y="218.8" width="9.6" height="25.2" fill="#fff" stroke="#BF2B21" stroke-width="2"/>
<line x1="1769.4" y1="231.1" x2="1779" y2="231.1" stroke="#BF2B21" stroke-width="4.6"/>
<line x1="1774.2" y1="365.2" x2="1774.2" y2="372.6" stroke="#111" stroke-width="1.5"/>
<text x="1781.4" y="377" font-size="18.8" text-anchor="end" transform="rotate(-90 1781.4 377)">NK</text>
<line x1="1791.8" y1="137.3" x2="1791.8" y2="304.4" stroke="#1a1a1a" stroke-width="1.7"/>
<path d="M1791.45 137.3 L1791.45 140.09 L1791.45 142.87 L1791.45 145.66 L1791.45 148.44 L1791.45 151.22 L1791.45 154.01 L1791.45 156.8 L1791.45 159.58 L1791.45 162.37 L1791.45 165.15 L1791.45 167.94 L1791.45 170.72 L1791.4 173.5 L1791.31 176.29 L1791.2 179.07 L1791.08 181.86 L1790.94 184.65 L1790.77 187.43 L1790.58 190.22 L1790.36 193 L1790.12 195.78 L1789.85 198.57 L1789.55 201.36 L1789.22 204.14 L1788.87 206.93 L1788.5 209.71 L1788.11 212.5 L1787.71 215.28 L1787.32 218.06 L1786.93 220.85 L1786.56 223.63 L1786.24 226.42 L1785.98 229.2 L1785.82 231.99 L1785.87 234.77 L1786.09 237.56 L1786.39 240.34 L1786.75 243.13 L1787.14 245.91 L1787.54 248.7 L1787.95 251.48 L1788.36 254.27 L1788.74 257.05 L1789.11 259.84 L1789.45 262.62 L1789.77 265.41 L1790.05 268.19 L1790.31 270.98 L1790.54 273.76 L1790.74 276.55 L1790.91 279.33 L1791.07 282.12 L1791.19 284.9 L1791.3 287.69 L1791.4 290.48 L1791.45 293.26 L1791.45 296.04 L1791.45 298.83 L1791.45 301.62 L1791.45 304.4 L1792.15 304.4 L1792.15 301.62 L1792.15 298.83 L1792.15 296.04 L1792.15 293.26 L1792.2 290.48 L1792.3 287.69 L1792.41 284.9 L1792.53 282.12 L1792.69 279.33 L1792.86 276.55 L1793.06 273.76 L1793.29 270.98 L1793.55 268.19 L1793.83 265.41 L1794.15 262.62 L1794.49 259.84 L1794.86 257.05 L1795.24 254.27 L1795.65 251.48 L1796.06 248.7 L1796.46 245.91 L1796.85 243.13 L1797.21 240.34 L1797.51 237.56 L1797.73 234.77 L1797.78 231.99 L1797.62 229.2 L1797.36 226.42 L1797.04 223.63 L1796.67 220.85 L1796.28 218.06 L1795.89 215.28 L1795.49 212.5 L1795.1 209.71 L1794.73 206.93 L1794.38 204.14 L1794.05 201.36 L1793.75 198.57 L1793.48 195.78 L1793.24 193 L1793.02 190.22 L1792.83 187.43 L1792.66 184.65 L1792.52 181.86 L1792.4 179.07 L1792.29 176.29 L1792.2 173.5 L1792.15 170.72 L1792.15 167.94 L1792.15 165.15 L1792.15 162.37 L1792.15 159.58 L1792.15 156.8 L1792.15 154.01 L1792.15 151.22 L1792.15 148.44 L1792.15 145.66 L1792.15 142.87 L1792.15 140.09 L1792.15 137.3Z" fill="#fff" stroke="#1a1a1a" stroke-width="1.85"/>
<path d="M1791.45 174.8 L1791.45 176.71 L1791.45 178.63 L1791.45 180.54 L1791.43 182.45 L1791.38 184.37 L1791.32 186.28 L1791.26 188.19 L1791.19 190.11 L1791.12 192.02 L1791.04 193.93 L1790.96 195.85 L1790.86 197.76 L1790.77 199.67 L1790.66 201.59 L1790.55 203.5 L1790.43 205.41 L1790.31 207.33 L1790.18 209.24 L1790.05 211.15 L1789.92 213.07 L1789.78 214.98 L1789.64 216.89 L1789.51 218.81 L1789.37 220.72 L1789.25 222.63 L1789.13 224.55 L1789.02 226.46 L1788.92 228.37 L1788.85 230.29 L1788.81 232.2 L1788.82 234.11 L1788.88 236.03 L1788.96 237.94 L1789.07 239.85 L1789.18 241.77 L1789.31 243.68 L1789.45 245.59 L1789.58 247.51 L1789.72 249.42 L1789.87 251.33 L1790 253.25 L1790.14 255.16 L1790.27 257.07 L1790.4 258.99 L1790.52 260.9 L1790.64 262.81 L1790.75 264.73 L1790.85 266.64 L1790.94 268.55 L1791.03 270.47 L1791.11 272.38 L1791.19 274.29 L1791.26 276.21 L1791.32 278.12 L1791.38 280.03 L1791.43 281.95 L1791.45 283.86 L1791.45 285.77 L1791.45 287.69 L1791.45 289.6 L1792.15 289.6 L1792.15 287.69 L1792.15 285.77 L1792.15 283.86 L1792.17 281.95 L1792.22 280.03 L1792.28 278.12 L1792.34 276.21 L1792.41 274.29 L1792.49 272.38 L1792.57 270.47 L1792.66 268.55 L1792.75 266.64 L1792.85 264.73 L1792.96 262.81 L1793.08 260.9 L1793.2 258.99 L1793.33 257.07 L1793.46 255.16 L1793.6 253.25 L1793.73 251.33 L1793.88 249.42 L1794.02 247.51 L1794.15 245.59 L1794.29 243.68 L1794.42 241.77 L1794.53 239.85 L1794.64 237.94 L1794.72 236.03 L1794.78 234.11 L1794.79 232.2 L1794.75 230.29 L1794.68 228.37 L1794.58 226.46 L1794.47 224.55 L1794.35 222.63 L1794.23 220.72 L1794.09 218.81 L1793.96 216.89 L1793.82 214.98 L1793.68 213.07 L1793.55 211.15 L1793.42 209.24 L1793.29 207.33 L1793.17 205.41 L1793.05 203.5 L1792.94 201.59 L1792.83 199.67 L1792.74 197.76 L1792.64 195.85 L1792.56 193.93 L1792.48 192.02 L1792.41 190.11 L1792.34 188.19 L1792.28 186.28 L1792.22 184.37 L1792.17 182.45 L1792.15 180.54 L1792.15 178.63 L1792.15 176.71 L1792.15 174.8Z" fill="none" stroke="#BF2B21" stroke-width="0.9"/>
<line x1="1791.8" y1="174.8" x2="1791.8" y2="289.6" stroke="#BF2B21" stroke-width="1"/>
<rect x="1787" y="217.5" width="9.6" height="30.2" fill="#fff" stroke="#BF2B21" stroke-width="2"/>
<line x1="1787" y1="232.8" x2="1796.6" y2="232.8" stroke="#BF2B21" stroke-width="4.6"/>
<line x1="1791.8" y1="365.2" x2="1791.8" y2="372.6" stroke="#111" stroke-width="1.5"/>
<text x="1799" y="377" font-size="18.8" text-anchor="end" transform="rotate(-90 1799 377)">CD8 TEM</text>
<line x1="1809.5" y1="167.4" x2="1809.5" y2="293.3" stroke="#1a1a1a" stroke-width="1.7"/>
<path d="M1809.15 167.4 L1809.15 169.5 L1809.15 171.6 L1809.15 173.69 L1809.15 175.79 L1809.15 177.89 L1809.15 179.99 L1809.15 182.09 L1809.15 184.19 L1809.15 186.28 L1809.07 188.38 L1808.97 190.48 L1808.86 192.58 L1808.72 194.68 L1808.55 196.78 L1808.36 198.88 L1808.15 200.97 L1807.9 203.07 L1807.62 205.17 L1807.31 207.27 L1806.96 209.37 L1806.59 211.47 L1806.18 213.56 L1805.76 215.66 L1805.31 217.76 L1804.87 219.86 L1804.42 221.96 L1804 224.06 L1803.61 226.15 L1803.29 228.25 L1803.06 230.35 L1803.03 232.45 L1803.2 234.55 L1803.46 236.64 L1803.78 238.74 L1804.14 240.84 L1804.53 242.94 L1804.93 245.04 L1805.33 247.14 L1805.73 249.24 L1806.11 251.33 L1806.47 253.43 L1806.82 255.53 L1807.14 257.63 L1807.44 259.73 L1807.71 261.82 L1807.95 263.92 L1808.17 266.02 L1808.36 268.12 L1808.53 270.22 L1808.68 272.32 L1808.81 274.42 L1808.93 276.51 L1809.02 278.61 L1809.1 280.71 L1809.15 282.81 L1809.15 284.91 L1809.15 287 L1809.15 289.1 L1809.15 291.2 L1809.15 293.3 L1809.85 293.3 L1809.85 291.2 L1809.85 289.1 L1809.85 287 L1809.85 284.91 L1809.85 282.81 L1809.9 280.71 L1809.98 278.61 L1810.07 276.51 L1810.19 274.42 L1810.32 272.32 L1810.47 270.22 L1810.64 268.12 L1810.83 266.02 L1811.05 263.92 L1811.29 261.82 L1811.56 259.73 L1811.86 257.63 L1812.18 255.53 L1812.53 253.43 L1812.89 251.33 L1813.27 249.24 L1813.67 247.14 L1814.07 245.04 L1814.47 242.94 L1814.86 240.84 L1815.22 238.74 L1815.54 236.64 L1815.8 234.55 L1815.97 232.45 L1815.94 230.35 L1815.71 228.25 L1815.39 226.15 L1815 224.06 L1814.58 221.96 L1814.13 219.86 L1813.69 217.76 L1813.24 215.66 L1812.82 213.56 L1812.41 211.47 L1812.04 209.37 L1811.69 207.27 L1811.38 205.17 L1811.1 203.07 L1810.85 200.97 L1810.64 198.88 L1810.45 196.78 L1810.28 194.68 L1810.14 192.58 L1810.03 190.48 L1809.93 188.38 L1809.85 186.28 L1809.85 184.19 L1809.85 182.09 L1809.85 179.99 L1809.85 177.89 L1809.85 175.79 L1809.85 173.69 L1809.85 171.6 L1809.85 169.5 L1809.85 167.4Z" fill="#fff" stroke="#1a1a1a" stroke-width="1.85"/>
<path d="M1809.15 186 L1809.15 187.56 L1809.15 189.13 L1809.15 190.69 L1809.15 192.25 L1809.14 193.82 L1809.08 195.38 L1809.02 196.94 L1808.95 198.51 L1808.87 200.07 L1808.79 201.63 L1808.69 203.2 L1808.59 204.76 L1808.48 206.32 L1808.35 207.89 L1808.22 209.45 L1808.08 211.01 L1807.94 212.58 L1807.78 214.14 L1807.62 215.7 L1807.46 217.27 L1807.29 218.83 L1807.13 220.39 L1806.96 221.96 L1806.8 223.52 L1806.65 225.08 L1806.52 226.65 L1806.4 228.21 L1806.31 229.77 L1806.25 231.34 L1806.28 232.9 L1806.34 234.46 L1806.44 236.03 L1806.55 237.59 L1806.67 239.15 L1806.81 240.72 L1806.95 242.28 L1807.1 243.84 L1807.25 245.41 L1807.4 246.97 L1807.55 248.53 L1807.69 250.1 L1807.83 251.66 L1807.97 253.22 L1808.1 254.79 L1808.22 256.35 L1808.34 257.91 L1808.45 259.48 L1808.55 261.04 L1808.65 262.6 L1808.74 264.17 L1808.82 265.73 L1808.89 267.29 L1808.96 268.86 L1809.02 270.42 L1809.08 271.98 L1809.13 273.55 L1809.15 275.11 L1809.15 276.67 L1809.15 278.24 L1809.15 279.8 L1809.85 279.8 L1809.85 278.24 L1809.85 276.67 L1809.85 275.11 L1809.87 273.55 L1809.92 271.98 L1809.98 270.42 L1810.04 268.86 L1810.11 267.29 L1810.18 265.73 L1810.26 264.17 L1810.35 262.6 L1810.45 261.04 L1810.55 259.48 L1810.66 257.91 L1810.78 256.35 L1810.9 254.79 L1811.03 253.22 L1811.17 251.66 L1811.31 250.1 L1811.45 248.53 L1811.6 246.97 L1811.75 245.41 L1811.9 243.84 L1812.05 242.28 L1812.19 240.72 L1812.33 239.15 L1812.45 237.59 L1812.56 236.03 L1812.66 234.46 L1812.72 232.9 L1812.75 231.34 L1812.69 229.77 L1812.6 228.21 L1812.48 226.65 L1812.35 225.08 L1812.2 223.52 L1812.04 221.96 L1811.87 220.39 L1811.71 218.83 L1811.54 217.27 L1811.38 215.7 L1811.22 214.14 L1811.06 212.58 L1810.92 211.01 L1810.78 209.45 L1810.65 207.89 L1810.52 206.32 L1810.41 204.76 L1810.31 203.2 L1810.21 201.63 L1810.13 200.07 L1810.05 198.51 L1809.98 196.94 L1809.92 195.38 L1809.86 193.82 L1809.85 192.25 L1809.85 190.69 L1809.85 189.13 L1809.85 187.56 L1809.85 186Z" fill="none" stroke="#BF2B21" stroke-width="0.9"/>
<line x1="1809.5" y1="186" x2="1809.5" y2="279.8" stroke="#BF2B21" stroke-width="1"/>
<rect x="1804.7" y="220.5" width="9.6" height="23.5" fill="#fff" stroke="#BF2B21" stroke-width="2"/>
<line x1="1804.7" y1="231.6" x2="1814.3" y2="231.6" stroke="#BF2B21" stroke-width="4.6"/>
<line x1="1809.5" y1="365.2" x2="1809.5" y2="372.6" stroke="#111" stroke-width="1.5"/>
<text x="1816.7" y="377" font-size="18.8" text-anchor="end" transform="rotate(-90 1816.7 377)">Platelet</text>
<line x1="1827.1" y1="138.5" x2="1827.1" y2="299.5" stroke="#1a1a1a" stroke-width="1.7"/>
<path d="M1826.75 138.5 L1826.75 141.18 L1826.75 143.87 L1826.75 146.55 L1826.75 149.23 L1826.75 151.92 L1826.75 154.6 L1826.75 157.28 L1826.75 159.97 L1826.75 162.65 L1826.75 165.33 L1826.75 168.02 L1826.75 170.7 L1826.71 173.38 L1826.64 176.07 L1826.54 178.75 L1826.44 181.43 L1826.31 184.12 L1826.17 186.8 L1826.01 189.48 L1825.83 192.17 L1825.62 194.85 L1825.4 197.53 L1825.14 200.22 L1824.87 202.9 L1824.57 205.58 L1824.25 208.27 L1823.92 210.95 L1823.56 213.63 L1823.2 216.32 L1822.83 219 L1822.47 221.68 L1822.12 224.37 L1821.79 227.05 L1821.5 229.73 L1821.27 232.42 L1821.12 235.1 L1821.15 237.78 L1821.33 240.47 L1821.59 243.15 L1821.89 245.83 L1822.22 248.52 L1822.57 251.2 L1822.94 253.88 L1823.3 256.57 L1823.66 259.25 L1824.01 261.93 L1824.34 264.62 L1824.65 267.3 L1824.94 269.98 L1825.21 272.67 L1825.45 275.35 L1825.67 278.03 L1825.87 280.72 L1826.05 283.4 L1826.2 286.08 L1826.34 288.77 L1826.46 291.45 L1826.56 294.13 L1826.65 296.82 L1826.73 299.5 L1827.47 299.5 L1827.55 296.82 L1827.64 294.13 L1827.74 291.45 L1827.86 288.77 L1828 286.08 L1828.15 283.4 L1828.33 280.72 L1828.53 278.03 L1828.75 275.35 L1828.99 272.67 L1829.26 269.98 L1829.55 267.3 L1829.86 264.62 L1830.19 261.93 L1830.54 259.25 L1830.9 256.57 L1831.26 253.88 L1831.63 251.2 L1831.98 248.52 L1832.31 245.83 L1832.61 243.15 L1832.87 240.47 L1833.05 237.78 L1833.08 235.1 L1832.93 232.42 L1832.7 229.73 L1832.41 227.05 L1832.08 224.37 L1831.73 221.68 L1831.37 219 L1831 216.32 L1830.64 213.63 L1830.28 210.95 L1829.95 208.27 L1829.63 205.58 L1829.33 202.9 L1829.06 200.22 L1828.8 197.53 L1828.58 194.85 L1828.37 192.17 L1828.19 189.48 L1828.03 186.8 L1827.89 184.12 L1827.76 181.43 L1827.66 178.75 L1827.56 176.07 L1827.49 173.38 L1827.45 170.7 L1827.45 168.02 L1827.45 165.33 L1827.45 162.65 L1827.45 159.97 L1827.45 157.28 L1827.45 154.6 L1827.45 151.92 L1827.45 149.23 L1827.45 146.55 L1827.45 143.87 L1827.45 141.18 L1827.45 138.5Z" fill="#fff" stroke="#1a1a1a" stroke-width="1.85"/>
<path d="M1826.75 172.3 L1826.75 174.42 L1826.75 176.54 L1826.75 178.66 L1826.75 180.78 L1826.74 182.9 L1826.68 185.02 L1826.63 187.14 L1826.56 189.26 L1826.49 191.38 L1826.41 193.5 L1826.33 195.62 L1826.24 197.74 L1826.14 199.86 L1826.03 201.98 L1825.92 204.1 L1825.8 206.22 L1825.67 208.34 L1825.54 210.46 L1825.4 212.58 L1825.26 214.7 L1825.12 216.82 L1824.97 218.94 L1824.83 221.06 L1824.69 223.18 L1824.55 225.3 L1824.42 227.42 L1824.31 229.54 L1824.21 231.66 L1824.14 233.78 L1824.1 235.9 L1824.13 238.02 L1824.2 240.14 L1824.3 242.26 L1824.41 244.38 L1824.53 246.5 L1824.67 248.62 L1824.81 250.74 L1824.95 252.86 L1825.09 254.98 L1825.24 257.1 L1825.38 259.22 L1825.52 261.34 L1825.65 263.46 L1825.78 265.58 L1825.9 267.7 L1826.01 269.82 L1826.12 271.94 L1826.22 274.06 L1826.31 276.18 L1826.4 278.3 L1826.48 280.42 L1826.55 282.54 L1826.61 284.66 L1826.67 286.78 L1826.72 288.9 L1826.75 291.02 L1826.75 293.14 L1826.75 295.26 L1826.75 297.38 L1826.75 299.5 L1827.45 299.5 L1827.45 297.38 L1827.45 295.26 L1827.45 293.14 L1827.45 291.02 L1827.48 288.9 L1827.53 286.78 L1827.59 284.66 L1827.65 282.54 L1827.72 280.42 L1827.8 278.3 L1827.89 276.18 L1827.98 274.06 L1828.08 271.94 L1828.19 269.82 L1828.3 267.7 L1828.42 265.58 L1828.55 263.46 L1828.68 261.34 L1828.82 259.22 L1828.96 257.1 L1829.11 254.98 L1829.25 252.86 L1829.39 250.74 L1829.53 248.62 L1829.67 246.5 L1829.79 244.38 L1829.9 242.26 L1830 240.14 L1830.07 238.02 L1830.1 235.9 L1830.06 233.78 L1829.99 231.66 L1829.89 229.54 L1829.78 227.42 L1829.65 225.3 L1829.51 223.18 L1829.37 221.06 L1829.23 218.94 L1829.08 216.82 L1828.94 214.7 L1828.8 212.58 L1828.66 210.46 L1828.53 208.34 L1828.4 206.22 L1828.28 204.1 L1828.17 201.98 L1828.06 199.86 L1827.96 197.74 L1827.87 195.62 L1827.79 193.5 L1827.71 191.38 L1827.64 189.26 L1827.57 187.14 L1827.52 185.02 L1827.46 182.9 L1827.45 180.78 L1827.45 178.66 L1827.45 176.54 L1827.45 174.42 L1827.45 172.3Z" fill="none" stroke="#BF2B21" stroke-width="0.9"/>
<line x1="1827.1" y1="172.3" x2="1827.1" y2="299.5" stroke="#BF2B21" stroke-width="1"/>
<rect x="1822.3" y="220" width="9.6" height="32.1" fill="#fff" stroke="#BF2B21" stroke-width="2"/>
<line x1="1822.3" y1="236" x2="1831.9" y2="236" stroke="#BF2B21" stroke-width="4.6"/>
<line x1="1827.1" y1="365.2" x2="1827.1" y2="372.6" stroke="#111" stroke-width="1.5"/>
<text x="1834.3" y="377" font-size="18.8" text-anchor="end" transform="rotate(-90 1834.3 377)">gdT</text>
<line x1="1844.8" y1="123" x2="1844.8" y2="334" stroke="#1a1a1a" stroke-width="1.7"/>
<path d="M1844.45 123 L1844.45 126.52 L1844.45 130.03 L1844.45 133.55 L1844.45 137.07 L1844.45 140.58 L1844.45 144.1 L1844.45 147.62 L1844.45 151.13 L1844.41 154.65 L1844.34 158.17 L1844.25 161.68 L1844.14 165.2 L1844.02 168.72 L1843.89 172.23 L1843.73 175.75 L1843.55 179.27 L1843.36 182.78 L1843.14 186.3 L1842.9 189.82 L1842.64 193.33 L1842.35 196.85 L1842.05 200.37 L1841.73 203.88 L1841.39 207.4 L1841.05 210.92 L1840.7 214.43 L1840.35 217.95 L1840.02 221.47 L1839.7 224.98 L1839.42 228.5 L1839.19 232.02 L1839.03 235.53 L1839.04 239.05 L1839.21 242.57 L1839.47 246.08 L1839.79 249.6 L1840.13 253.12 L1840.5 256.63 L1840.88 260.15 L1841.26 263.67 L1841.62 267.18 L1841.98 270.7 L1842.31 274.22 L1842.62 277.73 L1842.9 281.25 L1843.16 284.77 L1843.39 288.28 L1843.6 291.8 L1843.78 295.32 L1843.94 298.83 L1844.08 302.35 L1844.2 305.87 L1844.31 309.38 L1844.39 312.9 L1844.45 316.42 L1844.45 319.93 L1844.45 323.45 L1844.45 326.97 L1844.45 330.48 L1844.45 334 L1845.15 334 L1845.15 330.48 L1845.15 326.97 L1845.15 323.45 L1845.15 319.93 L1845.15 316.42 L1845.21 312.9 L1845.29 309.38 L1845.4 305.87 L1845.52 302.35 L1845.66 298.83 L1845.82 295.32 L1846 291.8 L1846.21 288.28 L1846.44 284.77 L1846.7 281.25 L1846.98 277.73 L1847.29 274.22 L1847.62 270.7 L1847.98 267.18 L1848.34 263.67 L1848.72 260.15 L1849.1 256.63 L1849.47 253.12 L1849.81 249.6 L1850.13 246.08 L1850.39 242.57 L1850.56 239.05 L1850.57 235.53 L1850.41 232.02 L1850.18 228.5 L1849.9 224.98 L1849.58 221.47 L1849.25 217.95 L1848.9 214.43 L1848.55 210.92 L1848.21 207.4 L1847.87 203.88 L1847.55 200.37 L1847.25 196.85 L1846.96 193.33 L1846.7 189.82 L1846.46 186.3 L1846.24 182.78 L1846.05 179.27 L1845.87 175.75 L1845.71 172.23 L1845.58 168.72 L1845.46 165.2 L1845.35 161.68 L1845.26 158.17 L1845.19 154.65 L1845.15 151.13 L1845.15 147.62 L1845.15 144.1 L1845.15 140.58 L1845.15 137.07 L1845.15 133.55 L1845.15 130.03 L1845.15 126.52 L1845.15 123Z" fill="#fff" stroke="#1a1a1a" stroke-width="1.85"/>
<path d="M1844.45 157.5 L1844.45 160.13 L1844.45 162.77 L1844.45 165.41 L1844.42 168.04 L1844.37 170.68 L1844.32 173.31 L1844.26 175.94 L1844.19 178.58 L1844.12 181.22 L1844.05 183.85 L1843.96 186.49 L1843.87 189.12 L1843.78 191.75 L1843.68 194.39 L1843.57 197.03 L1843.46 199.66 L1843.34 202.3 L1843.22 204.93 L1843.09 207.56 L1842.96 210.2 L1842.83 212.84 L1842.7 215.47 L1842.57 218.11 L1842.44 220.74 L1842.32 223.38 L1842.21 226.01 L1842.1 228.65 L1842.02 231.28 L1841.95 233.92 L1841.9 236.55 L1841.92 239.19 L1841.98 241.82 L1842.07 244.46 L1842.18 247.09 L1842.3 249.73 L1842.43 252.36 L1842.57 255 L1842.71 257.63 L1842.85 260.26 L1842.99 262.9 L1843.13 265.54 L1843.26 268.17 L1843.39 270.81 L1843.52 273.44 L1843.64 276.08 L1843.75 278.71 L1843.85 281.35 L1843.95 283.98 L1844.04 286.62 L1844.13 289.25 L1844.2 291.88 L1844.27 294.52 L1844.34 297.16 L1844.39 299.79 L1844.44 302.43 L1844.45 305.06 L1844.45 307.7 L1844.45 310.33 L1844.45 312.97 L1844.45 315.6 L1845.15 315.6 L1845.15 312.97 L1845.15 310.33 L1845.15 307.7 L1845.15 305.06 L1845.16 302.43 L1845.21 299.79 L1845.26 297.16 L1845.33 294.52 L1845.4 291.88 L1845.47 289.25 L1845.56 286.62 L1845.65 283.98 L1845.75 281.35 L1845.85 278.71 L1845.96 276.08 L1846.08 273.44 L1846.21 270.81 L1846.34 268.17 L1846.47 265.54 L1846.61 262.9 L1846.75 260.26 L1846.89 257.63 L1847.03 255 L1847.17 252.36 L1847.3 249.73 L1847.42 247.09 L1847.53 244.46 L1847.62 241.82 L1847.68 239.19 L1847.7 236.55 L1847.65 233.92 L1847.58 231.28 L1847.5 228.65 L1847.39 226.01 L1847.28 223.38 L1847.16 220.74 L1847.03 218.11 L1846.9 215.47 L1846.77 212.84 L1846.64 210.2 L1846.51 207.56 L1846.38 204.93 L1846.26 202.3 L1846.14 199.66 L1846.03 197.03 L1845.92 194.39 L1845.82 191.75 L1845.73 189.12 L1845.64 186.49 L1845.55 183.85 L1845.48 181.22 L1845.41 178.58 L1845.34 175.94 L1845.28 173.31 L1845.23 170.68 L1845.18 168.04 L1845.15 165.41 L1845.15 162.77 L1845.15 160.13 L1845.15 157.5Z" fill="none" stroke="#BF2B21" stroke-width="0.9"/>
<line x1="1844.8" y1="157.5" x2="1844.8" y2="315.6" stroke="#BF2B21" stroke-width="1"/>
<rect x="1840" y="216" width="9.6" height="41" fill="#fff" stroke="#BF2B21" stroke-width="2"/>
<line x1="1840" y1="237.3" x2="1849.6" y2="237.3" stroke="#BF2B21" stroke-width="4.6"/>
<line x1="1844.8" y1="365.2" x2="1844.8" y2="372.6" stroke="#111" stroke-width="1.5"/>
<text x="1852" y="377" font-size="18.8" text-anchor="end" transform="rotate(-90 1852 377)">CD14 Mono</text>
<line x1="1862.4" y1="144" x2="1862.4" y2="289.6" stroke="#1a1a1a" stroke-width="1.7"/>
<path d="M1862.05 144 L1862.05 146.43 L1862.05 148.85 L1862.05 151.28 L1862.05 153.71 L1862.05 156.13 L1862.05 158.56 L1862.05 160.99 L1862.05 163.41 L1862.05 165.84 L1862.05 168.27 L1862.05 170.69 L1862.05 173.12 L1862.05 175.55 L1862.05 177.97 L1862.05 180.4 L1862.05 182.83 L1862.05 185.25 L1862.05 187.68 L1862.05 190.11 L1862.05 192.53 L1862.05 194.96 L1861.99 197.39 L1861.87 199.81 L1861.72 202.24 L1861.54 204.67 L1861.33 207.09 L1861.07 209.52 L1860.77 211.95 L1860.42 214.37 L1860.03 216.8 L1859.58 219.23 L1859.09 221.65 L1858.56 224.08 L1858.01 226.51 L1857.45 228.93 L1856.9 231.36 L1856.39 233.79 L1855.96 236.21 L1855.66 238.64 L1855.67 241.07 L1855.97 243.49 L1856.4 245.92 L1856.9 248.35 L1857.45 250.77 L1858.01 253.2 L1858.55 255.63 L1859.08 258.05 L1859.56 260.48 L1860.01 262.91 L1860.4 265.33 L1860.75 267.76 L1861.05 270.19 L1861.31 272.61 L1861.53 275.04 L1861.71 277.47 L1861.85 279.89 L1861.97 282.32 L1862.05 284.75 L1862.05 287.17 L1862.05 289.6 L1862.75 289.6 L1862.75 287.17 L1862.75 284.75 L1862.83 282.32 L1862.95 279.89 L1863.09 277.47 L1863.27 275.04 L1863.49 272.61 L1863.75 270.19 L1864.05 267.76 L1864.4 265.33 L1864.79 262.91 L1865.24 260.48 L1865.72 258.05 L1866.25 255.63 L1866.79 253.2 L1867.35 250.77 L1867.9 248.35 L1868.4 245.92 L1868.83 243.49 L1869.13 241.07 L1869.14 238.64 L1868.84 236.21 L1868.41 233.79 L1867.9 231.36 L1867.35 228.93 L1866.79 226.51 L1866.24 224.08 L1865.71 221.65 L1865.22 219.23 L1864.77 216.8 L1864.38 214.37 L1864.03 211.95 L1863.73 209.52 L1863.47 207.09 L1863.26 204.67 L1863.08 202.24 L1862.93 199.81 L1862.81 197.39 L1862.75 194.96 L1862.75 192.53 L1862.75 190.11 L1862.75 187.68 L1862.75 185.25 L1862.75 182.83 L1862.75 180.4 L1862.75 177.97 L1862.75 175.55 L1862.75 173.12 L1862.75 170.69 L1862.75 168.27 L1862.75 165.84 L1862.75 163.41 L1862.75 160.99 L1862.75 158.56 L1862.75 156.13 L1862.75 153.71 L1862.75 151.28 L1862.75 148.85 L1862.75 146.43 L1862.75 144Z" fill="#fff" stroke="#1a1a1a" stroke-width="1.85"/>
<path d="M1862.05 194.6 L1862.05 196.14 L1862.05 197.69 L1862.05 199.23 L1862.05 200.77 L1862.05 202.32 L1862 203.86 L1861.94 205.4 L1861.87 206.95 L1861.79 208.49 L1861.71 210.03 L1861.61 211.58 L1861.5 213.12 L1861.39 214.66 L1861.26 216.21 L1861.13 217.75 L1860.98 219.29 L1860.83 220.84 L1860.67 222.38 L1860.5 223.92 L1860.33 225.47 L1860.15 227.01 L1859.97 228.55 L1859.79 230.1 L1859.62 231.64 L1859.45 233.18 L1859.3 234.73 L1859.17 236.27 L1859.07 237.81 L1859.01 239.36 L1859.03 240.9 L1859.11 242.44 L1859.22 243.99 L1859.36 245.53 L1859.52 247.07 L1859.68 248.62 L1859.85 250.16 L1860.03 251.7 L1860.21 253.25 L1860.38 254.79 L1860.56 256.33 L1860.72 257.88 L1860.88 259.42 L1861.03 260.96 L1861.17 262.51 L1861.3 264.05 L1861.42 265.59 L1861.53 267.14 L1861.64 268.68 L1861.73 270.22 L1861.81 271.77 L1861.89 273.31 L1861.96 274.85 L1862.02 276.4 L1862.05 277.94 L1862.05 279.48 L1862.05 281.03 L1862.05 282.57 L1862.05 284.11 L1862.05 285.66 L1862.05 287.2 L1862.75 287.2 L1862.75 285.66 L1862.75 284.11 L1862.75 282.57 L1862.75 281.03 L1862.75 279.48 L1862.75 277.94 L1862.78 276.4 L1862.84 274.85 L1862.91 273.31 L1862.99 271.77 L1863.07 270.22 L1863.16 268.68 L1863.27 267.14 L1863.38 265.59 L1863.5 264.05 L1863.63 262.51 L1863.77 260.96 L1863.92 259.42 L1864.08 257.88 L1864.24 256.33 L1864.42 254.79 L1864.59 253.25 L1864.77 251.7 L1864.95 250.16 L1865.12 248.62 L1865.28 247.07 L1865.44 245.53 L1865.58 243.99 L1865.69 242.44 L1865.77 240.9 L1865.79 239.36 L1865.73 237.81 L1865.63 236.27 L1865.5 234.73 L1865.35 233.18 L1865.18 231.64 L1865.01 230.1 L1864.83 228.55 L1864.65 227.01 L1864.47 225.47 L1864.3 223.92 L1864.13 222.38 L1863.97 220.84 L1863.82 219.29 L1863.67 217.75 L1863.54 216.21 L1863.41 214.66 L1863.3 213.12 L1863.19 211.58 L1863.09 210.03 L1863.01 208.49 L1862.93 206.95 L1862.86 205.4 L1862.8 203.86 L1862.75 202.32 L1862.75 200.77 L1862.75 199.23 L1862.75 197.69 L1862.75 196.14 L1862.75 194.6Z" fill="none" stroke="#BF2B21" stroke-width="0.9"/>
<line x1="1862.4" y1="194.6" x2="1862.4" y2="287.2" stroke="#BF2B21" stroke-width="1"/>
<rect x="1857.6" y="229.1" width="9.6" height="21.5" fill="#fff" stroke="#BF2B21" stroke-width="2"/>
<line x1="1857.6" y1="239.8" x2="1867.2" y2="239.8" stroke="#BF2B21" stroke-width="4.6"/>
<line x1="1862.4" y1="365.2" x2="1862.4" y2="372.6" stroke="#111" stroke-width="1.5"/>
<text x="1869.6" y="377" font-size="18.8" text-anchor="end" transform="rotate(-90 1869.6 377)">CD4 CTL</text>
<line x1="1880.6" y1="176" x2="1880.6" y2="313" stroke="#1a1a1a" stroke-width="1.7"/>
<path d="M1880.25 176 L1880.25 178.28 L1880.25 180.57 L1880.25 182.85 L1880.23 185.13 L1880.16 187.42 L1880.08 189.7 L1879.98 191.98 L1879.86 194.27 L1879.73 196.55 L1879.59 198.83 L1879.42 201.12 L1879.23 203.4 L1879.02 205.68 L1878.79 207.97 L1878.54 210.25 L1878.26 212.53 L1877.96 214.82 L1877.65 217.1 L1877.31 219.38 L1876.97 221.67 L1876.61 223.95 L1876.25 226.23 L1875.9 228.52 L1875.56 230.8 L1875.25 233.08 L1874.97 235.37 L1874.75 237.65 L1874.61 239.93 L1874.66 242.22 L1874.86 244.5 L1875.13 246.78 L1875.46 249.07 L1875.81 251.35 L1876.19 253.63 L1876.57 255.92 L1876.95 258.2 L1877.32 260.48 L1877.67 262.77 L1878.01 265.05 L1878.32 267.33 L1878.61 269.62 L1878.87 271.9 L1879.11 274.18 L1879.33 276.47 L1879.52 278.75 L1879.68 281.03 L1879.83 283.32 L1879.95 285.6 L1880.06 287.88 L1880.15 290.17 L1880.23 292.45 L1880.25 294.73 L1880.25 297.02 L1880.25 299.3 L1880.25 301.58 L1880.25 303.87 L1880.25 306.15 L1880.25 308.43 L1880.25 310.72 L1880.25 313 L1880.95 313 L1880.95 310.72 L1880.95 308.43 L1880.95 306.15 L1880.95 303.87 L1880.95 301.58 L1880.95 299.3 L1880.95 297.02 L1880.95 294.73 L1880.97 292.45 L1881.05 290.17 L1881.14 287.88 L1881.25 285.6 L1881.37 283.32 L1881.52 281.03 L1881.68 278.75 L1881.87 276.47 L1882.09 274.18 L1882.33 271.9 L1882.59 269.62 L1882.88 267.33 L1883.19 265.05 L1883.53 262.77 L1883.88 260.48 L1884.25 258.2 L1884.63 255.92 L1885.01 253.63 L1885.39 251.35 L1885.74 249.07 L1886.07 246.78 L1886.34 244.5 L1886.54 242.22 L1886.59 239.93 L1886.45 237.65 L1886.23 235.37 L1885.95 233.08 L1885.64 230.8 L1885.3 228.52 L1884.95 226.23 L1884.59 223.95 L1884.23 221.67 L1883.89 219.38 L1883.55 217.1 L1883.24 214.82 L1882.94 212.53 L1882.66 210.25 L1882.41 207.97 L1882.18 205.68 L1881.97 203.4 L1881.78 201.12 L1881.61 198.83 L1881.47 196.55 L1881.34 194.27 L1881.22 191.98 L1881.12 189.7 L1881.04 187.42 L1880.97 185.13 L1880.95 182.85 L1880.95 180.57 L1880.95 178.28 L1880.95 176Z" fill="#fff" stroke="#1a1a1a" stroke-width="1.85"/>
<path d="M1880.25 189.6 L1880.25 191.35 L1880.25 193.1 L1880.22 194.84 L1880.17 196.59 L1880.11 198.34 L1880.05 200.09 L1879.98 201.84 L1879.91 203.59 L1879.83 205.34 L1879.74 207.08 L1879.65 208.83 L1879.55 210.58 L1879.44 212.33 L1879.33 214.08 L1879.21 215.82 L1879.09 217.57 L1878.96 219.32 L1878.83 221.07 L1878.69 222.82 L1878.56 224.57 L1878.42 226.31 L1878.29 228.06 L1878.15 229.81 L1878.03 231.56 L1877.91 233.31 L1877.8 235.06 L1877.71 236.81 L1877.64 238.55 L1877.6 240.3 L1877.63 242.05 L1877.7 243.8 L1877.79 245.55 L1877.9 247.3 L1878.03 249.04 L1878.16 250.79 L1878.3 252.54 L1878.45 254.29 L1878.59 256.04 L1878.74 257.78 L1878.88 259.53 L1879.02 261.28 L1879.16 263.03 L1879.28 264.78 L1879.41 266.53 L1879.52 268.27 L1879.63 270.02 L1879.73 271.77 L1879.82 273.52 L1879.91 275.27 L1879.99 277.02 L1880.06 278.76 L1880.12 280.51 L1880.18 282.26 L1880.23 284.01 L1880.25 285.76 L1880.25 287.51 L1880.25 289.25 L1880.25 291 L1880.25 292.75 L1880.25 294.5 L1880.95 294.5 L1880.95 292.75 L1880.95 291 L1880.95 289.25 L1880.95 287.51 L1880.95 285.76 L1880.97 284.01 L1881.02 282.26 L1881.08 280.51 L1881.14 278.76 L1881.21 277.02 L1881.29 275.27 L1881.38 273.52 L1881.47 271.77 L1881.57 270.02 L1881.68 268.27 L1881.79 266.53 L1881.92 264.78 L1882.04 263.03 L1882.18 261.28 L1882.32 259.53 L1882.46 257.78 L1882.61 256.04 L1882.75 254.29 L1882.9 252.54 L1883.04 250.79 L1883.17 249.04 L1883.3 247.3 L1883.41 245.55 L1883.5 243.8 L1883.57 242.05 L1883.6 240.3 L1883.56 238.55 L1883.49 236.81 L1883.4 235.06 L1883.29 233.31 L1883.17 231.56 L1883.05 229.81 L1882.91 228.06 L1882.78 226.31 L1882.64 224.57 L1882.51 222.82 L1882.37 221.07 L1882.24 219.32 L1882.11 217.57 L1881.99 215.82 L1881.87 214.08 L1881.76 212.33 L1881.65 210.58 L1881.55 208.83 L1881.46 207.08 L1881.37 205.34 L1881.29 203.59 L1881.22 201.84 L1881.15 200.09 L1881.09 198.34 L1881.03 196.59 L1880.98 194.84 L1880.95 193.1 L1880.95 191.35 L1880.95 189.6Z" fill="none" stroke="#BF2B21" stroke-width="0.9"/>
<line x1="1880.6" y1="189.6" x2="1880.6" y2="294.5" stroke="#BF2B21" stroke-width="1"/>
<rect x="1875.8" y="226.6" width="9.6" height="27.1" fill="#fff" stroke="#BF2B21" stroke-width="2"/>
<line x1="1875.8" y1="240.6" x2="1885.4" y2="240.6" stroke="#BF2B21" stroke-width="4.6"/>
<line x1="1880.6" y1="365.2" x2="1880.6" y2="372.6" stroke="#111" stroke-width="1.5"/>
<text x="1887.8" y="377" font-size="18.8" text-anchor="end" transform="rotate(-90 1887.8 377)">NK Proliferating</text>
<line x1="1898.4" y1="164.9" x2="1898.4" y2="294.5" stroke="#1a1a1a" stroke-width="1.7"/>
<path d="M1898.05 164.9 L1898.05 167.06 L1898.05 169.22 L1898.05 171.38 L1898.05 173.54 L1898.05 175.7 L1898.05 177.86 L1898.05 180.02 L1898.05 182.18 L1898.05 184.34 L1898.05 186.5 L1898.05 188.66 L1898.05 190.82 L1898.05 192.98 L1898.05 195.14 L1898 197.3 L1897.91 199.46 L1897.79 201.62 L1897.65 203.78 L1897.49 205.94 L1897.31 208.1 L1897.09 210.26 L1896.84 212.42 L1896.56 214.58 L1896.25 216.74 L1895.9 218.9 L1895.52 221.06 L1895.12 223.22 L1894.69 225.38 L1894.24 227.54 L1893.8 229.7 L1893.36 231.86 L1892.94 234.02 L1892.58 236.18 L1892.28 238.34 L1892.11 240.5 L1892.17 242.66 L1892.35 244.82 L1892.59 246.98 L1892.87 249.14 L1893.19 251.3 L1893.53 253.46 L1893.88 255.62 L1894.23 257.78 L1894.58 259.94 L1894.92 262.1 L1895.25 264.26 L1895.57 266.42 L1895.86 268.58 L1896.14 270.74 L1896.4 272.9 L1896.64 275.06 L1896.86 277.22 L1897.05 279.38 L1897.23 281.54 L1897.39 283.7 L1897.53 285.86 L1897.65 288.02 L1897.76 290.18 L1897.86 292.34 L1897.94 294.5 L1898.86 294.5 L1898.94 292.34 L1899.04 290.18 L1899.15 288.02 L1899.27 285.86 L1899.41 283.7 L1899.57 281.54 L1899.75 279.38 L1899.94 277.22 L1900.16 275.06 L1900.4 272.9 L1900.66 270.74 L1900.94 268.58 L1901.23 266.42 L1901.55 264.26 L1901.88 262.1 L1902.22 259.94 L1902.57 257.78 L1902.92 255.62 L1903.27 253.46 L1903.61 251.3 L1903.93 249.14 L1904.21 246.98 L1904.45 244.82 L1904.63 242.66 L1904.69 240.5 L1904.52 238.34 L1904.22 236.18 L1903.86 234.02 L1903.44 231.86 L1903 229.7 L1902.56 227.54 L1902.11 225.38 L1901.68 223.22 L1901.28 221.06 L1900.9 218.9 L1900.55 216.74 L1900.24 214.58 L1899.96 212.42 L1899.71 210.26 L1899.49 208.1 L1899.31 205.94 L1899.15 203.78 L1899.01 201.62 L1898.89 199.46 L1898.8 197.3 L1898.75 195.14 L1898.75 192.98 L1898.75 190.82 L1898.75 188.66 L1898.75 186.5 L1898.75 184.34 L1898.75 182.18 L1898.75 180.02 L1898.75 177.86 L1898.75 175.7 L1898.75 173.54 L1898.75 171.38 L1898.75 169.22 L1898.75 167.06 L1898.75 164.9Z" fill="#fff" stroke="#1a1a1a" stroke-width="1.85"/>
<path d="M1898.05 194.5 L1898.05 196.12 L1898.05 197.75 L1898.05 199.38 L1898.05 201 L1898.05 202.62 L1898.01 204.25 L1897.95 205.88 L1897.88 207.5 L1897.8 209.12 L1897.72 210.75 L1897.62 212.38 L1897.52 214 L1897.41 215.62 L1897.28 217.25 L1897.15 218.88 L1897.01 220.5 L1896.86 222.12 L1896.71 223.75 L1896.54 225.38 L1896.38 227 L1896.21 228.62 L1896.04 230.25 L1895.88 231.88 L1895.72 233.5 L1895.57 235.12 L1895.45 236.75 L1895.34 238.38 L1895.27 240 L1895.26 241.62 L1895.3 243.25 L1895.38 244.88 L1895.46 246.5 L1895.57 248.12 L1895.68 249.75 L1895.8 251.38 L1895.93 253 L1896.06 254.62 L1896.19 256.25 L1896.32 257.88 L1896.45 259.5 L1896.58 261.12 L1896.71 262.75 L1896.83 264.38 L1896.95 266 L1897.07 267.62 L1897.18 269.25 L1897.28 270.88 L1897.38 272.5 L1897.47 274.12 L1897.56 275.75 L1897.64 277.38 L1897.71 279 L1897.78 280.62 L1897.84 282.25 L1897.9 283.88 L1897.95 285.5 L1898 287.12 L1898.05 288.75 L1898.05 290.38 L1898.05 292 L1898.75 292 L1898.75 290.38 L1898.75 288.75 L1898.8 287.12 L1898.85 285.5 L1898.9 283.88 L1898.96 282.25 L1899.02 280.62 L1899.09 279 L1899.16 277.38 L1899.24 275.75 L1899.33 274.12 L1899.42 272.5 L1899.52 270.88 L1899.62 269.25 L1899.73 267.62 L1899.85 266 L1899.97 264.38 L1900.09 262.75 L1900.22 261.12 L1900.35 259.5 L1900.48 257.88 L1900.61 256.25 L1900.74 254.62 L1900.87 253 L1901 251.38 L1901.12 249.75 L1901.23 248.12 L1901.34 246.5 L1901.42 244.88 L1901.5 243.25 L1901.54 241.62 L1901.53 240 L1901.46 238.38 L1901.35 236.75 L1901.23 235.12 L1901.08 233.5 L1900.92 231.88 L1900.76 230.25 L1900.59 228.62 L1900.42 227 L1900.26 225.38 L1900.09 223.75 L1899.94 222.12 L1899.79 220.5 L1899.65 218.88 L1899.52 217.25 L1899.39 215.62 L1899.28 214 L1899.18 212.38 L1899.08 210.75 L1899 209.12 L1898.92 207.5 L1898.85 205.88 L1898.79 204.25 L1898.75 202.62 L1898.75 201 L1898.75 199.38 L1898.75 197.75 L1898.75 196.12 L1898.75 194.5Z" fill="none" stroke="#BF2B21" stroke-width="0.9"/>
<line x1="1898.4" y1="194.5" x2="1898.4" y2="292" stroke="#BF2B21" stroke-width="1"/>
<rect x="1893.6" y="229.8" width="9.6" height="25.2" fill="#fff" stroke="#BF2B21" stroke-width="2"/>
<line x1="1893.6" y1="240.9" x2="1903.2" y2="240.9" stroke="#BF2B21" stroke-width="4.6"/>
<line x1="1898.4" y1="365.2" x2="1898.4" y2="372.6" stroke="#111" stroke-width="1.5"/>
<text x="1905.6" y="377" font-size="18.8" text-anchor="end" transform="rotate(-90 1905.6 377)">NK CD56bright</text>
<line x1="1915.9" y1="166.1" x2="1915.9" y2="296.4" stroke="#1a1a1a" stroke-width="1.7"/>
<path d="M1915.55 166.1 L1915.55 168.27 L1915.55 170.44 L1915.55 172.61 L1915.55 174.79 L1915.55 176.96 L1915.55 179.13 L1915.55 181.3 L1915.55 183.47 L1915.55 185.64 L1915.55 187.82 L1915.55 189.99 L1915.55 192.16 L1915.55 194.33 L1915.55 196.5 L1915.55 198.67 L1915.55 200.85 L1915.55 203.02 L1915.54 205.19 L1915.45 207.36 L1915.33 209.53 L1915.19 211.7 L1915.03 213.88 L1914.83 216.05 L1914.6 218.22 L1914.33 220.39 L1914.03 222.56 L1913.68 224.73 L1913.29 226.91 L1912.86 229.08 L1912.4 231.25 L1911.91 233.42 L1911.39 235.59 L1910.87 237.76 L1910.35 239.94 L1909.86 242.11 L1909.43 244.28 L1909.09 246.45 L1908.9 248.62 L1909.06 250.79 L1909.42 252.97 L1909.88 255.14 L1910.41 257.31 L1910.96 259.48 L1911.52 261.65 L1912.07 263.82 L1912.59 266 L1913.07 268.17 L1913.51 270.34 L1913.9 272.51 L1914.24 274.68 L1914.54 276.85 L1914.79 279.03 L1915.01 281.2 L1915.19 283.37 L1915.34 285.54 L1915.46 287.71 L1915.55 289.88 L1915.55 292.06 L1915.55 294.23 L1915.55 296.4 L1916.25 296.4 L1916.25 294.23 L1916.25 292.06 L1916.25 289.88 L1916.34 287.71 L1916.46 285.54 L1916.61 283.37 L1916.79 281.2 L1917.01 279.03 L1917.26 276.85 L1917.56 274.68 L1917.9 272.51 L1918.29 270.34 L1918.73 268.17 L1919.21 266 L1919.73 263.82 L1920.28 261.65 L1920.84 259.48 L1921.39 257.31 L1921.92 255.14 L1922.38 252.97 L1922.74 250.79 L1922.9 248.62 L1922.71 246.45 L1922.37 244.28 L1921.94 242.11 L1921.45 239.94 L1920.93 237.76 L1920.41 235.59 L1919.89 233.42 L1919.4 231.25 L1918.94 229.08 L1918.51 226.91 L1918.12 224.73 L1917.77 222.56 L1917.47 220.39 L1917.2 218.22 L1916.97 216.05 L1916.77 213.88 L1916.61 211.7 L1916.47 209.53 L1916.35 207.36 L1916.26 205.19 L1916.25 203.02 L1916.25 200.85 L1916.25 198.67 L1916.25 196.5 L1916.25 194.33 L1916.25 192.16 L1916.25 189.99 L1916.25 187.82 L1916.25 185.64 L1916.25 183.47 L1916.25 181.3 L1916.25 179.13 L1916.25 176.96 L1916.25 174.79 L1916.25 172.61 L1916.25 170.44 L1916.25 168.27 L1916.25 166.1Z" fill="#fff" stroke="#1a1a1a" stroke-width="1.85"/>
<path d="M1915.55 207.6 L1915.55 208.97 L1915.55 210.35 L1915.55 211.72 L1915.5 213.09 L1915.44 214.47 L1915.38 215.84 L1915.31 217.21 L1915.23 218.59 L1915.15 219.96 L1915.05 221.33 L1914.95 222.71 L1914.84 224.08 L1914.73 225.45 L1914.6 226.83 L1914.47 228.2 L1914.33 229.57 L1914.18 230.95 L1914.03 232.32 L1913.87 233.69 L1913.71 235.07 L1913.54 236.44 L1913.38 237.81 L1913.21 239.19 L1913.05 240.56 L1912.9 241.93 L1912.76 243.31 L1912.63 244.68 L1912.52 246.05 L1912.44 247.43 L1912.4 248.8 L1912.45 250.17 L1912.54 251.55 L1912.66 252.92 L1912.8 254.29 L1912.95 255.67 L1913.12 257.04 L1913.29 258.41 L1913.47 259.79 L1913.65 261.16 L1913.82 262.53 L1913.99 263.91 L1914.16 265.28 L1914.32 266.65 L1914.47 268.03 L1914.61 269.4 L1914.74 270.77 L1914.87 272.15 L1914.98 273.52 L1915.09 274.89 L1915.18 276.27 L1915.27 277.64 L1915.35 279.01 L1915.42 280.39 L1915.48 281.76 L1915.54 283.13 L1915.55 284.51 L1915.55 285.88 L1915.55 287.25 L1915.55 288.63 L1915.55 290 L1916.25 290 L1916.25 288.63 L1916.25 287.25 L1916.25 285.88 L1916.25 284.51 L1916.26 283.13 L1916.32 281.76 L1916.38 280.39 L1916.45 279.01 L1916.53 277.64 L1916.62 276.27 L1916.71 274.89 L1916.82 273.52 L1916.93 272.15 L1917.06 270.77 L1917.19 269.4 L1917.33 268.03 L1917.48 266.65 L1917.64 265.28 L1917.81 263.91 L1917.98 262.53 L1918.15 261.16 L1918.33 259.79 L1918.51 258.41 L1918.68 257.04 L1918.85 255.67 L1919 254.29 L1919.14 252.92 L1919.26 251.55 L1919.35 250.17 L1919.4 248.8 L1919.36 247.43 L1919.28 246.05 L1919.17 244.68 L1919.04 243.31 L1918.9 241.93 L1918.75 240.56 L1918.59 239.19 L1918.42 237.81 L1918.26 236.44 L1918.09 235.07 L1917.93 233.69 L1917.77 232.32 L1917.62 230.95 L1917.47 229.57 L1917.33 228.2 L1917.2 226.83 L1917.07 225.45 L1916.96 224.08 L1916.85 222.71 L1916.75 221.33 L1916.65 219.96 L1916.57 218.59 L1916.49 217.21 L1916.42 215.84 L1916.36 214.47 L1916.3 213.09 L1916.25 211.72 L1916.25 210.35 L1916.25 208.97 L1916.25 207.6Z" fill="none" stroke="#BF2B21" stroke-width="0.9"/>
<line x1="1915.9" y1="207.6" x2="1915.9" y2="290" stroke="#BF2B21" stroke-width="1"/>
<rect x="1911.1" y="238.2" width="9.6" height="20.5" fill="#fff" stroke="#BF2B21" stroke-width="2"/>
<line x1="1911.1" y1="248.8" x2="1920.7" y2="248.8" stroke="#BF2B21" stroke-width="4.6"/>
<line x1="1915.9" y1="365.2" x2="1915.9" y2="372.6" stroke="#111" stroke-width="1.5"/>
<text x="1923.1" y="377" font-size="18.8" text-anchor="end" transform="rotate(-90 1923.1 377)">MAIT</text>
<line x1="1933.7" y1="171.8" x2="1933.7" y2="316.2" stroke="#1a1a1a" stroke-width="1.7"/>
<path d="M1933.35 171.8 L1933.35 174.21 L1933.35 176.61 L1933.35 179.02 L1933.35 181.43 L1933.35 183.83 L1933.35 186.24 L1933.32 188.65 L1933.25 191.05 L1933.17 193.46 L1933.07 195.87 L1932.97 198.27 L1932.84 200.68 L1932.7 203.09 L1932.55 205.49 L1932.37 207.9 L1932.18 210.31 L1931.97 212.71 L1931.74 215.12 L1931.49 217.53 L1931.22 219.93 L1930.94 222.34 L1930.64 224.75 L1930.34 227.15 L1930.02 229.56 L1929.71 231.97 L1929.4 234.37 L1929.1 236.78 L1928.82 239.19 L1928.57 241.59 L1928.37 244 L1928.23 246.41 L1928.23 248.81 L1928.38 251.22 L1928.59 253.63 L1928.85 256.03 L1929.14 258.44 L1929.46 260.85 L1929.78 263.25 L1930.11 265.66 L1930.43 268.07 L1930.74 270.47 L1931.05 272.88 L1931.33 275.29 L1931.6 277.69 L1931.85 280.1 L1932.08 282.51 L1932.29 284.91 L1932.47 287.32 L1932.64 289.73 L1932.79 292.13 L1932.93 294.54 L1933.04 296.95 L1933.14 299.35 L1933.23 301.76 L1933.31 304.17 L1933.35 306.57 L1933.35 308.98 L1933.35 311.39 L1933.35 313.79 L1933.35 316.2 L1934.05 316.2 L1934.05 313.79 L1934.05 311.39 L1934.05 308.98 L1934.05 306.57 L1934.09 304.17 L1934.17 301.76 L1934.26 299.35 L1934.36 296.95 L1934.47 294.54 L1934.61 292.13 L1934.76 289.73 L1934.93 287.32 L1935.11 284.91 L1935.32 282.51 L1935.55 280.1 L1935.8 277.69 L1936.07 275.29 L1936.35 272.88 L1936.66 270.47 L1936.97 268.07 L1937.29 265.66 L1937.62 263.25 L1937.94 260.85 L1938.26 258.44 L1938.55 256.03 L1938.81 253.63 L1939.02 251.22 L1939.17 248.81 L1939.17 246.41 L1939.03 244 L1938.83 241.59 L1938.58 239.19 L1938.3 236.78 L1938 234.37 L1937.69 231.97 L1937.38 229.56 L1937.06 227.15 L1936.76 224.75 L1936.46 222.34 L1936.18 219.93 L1935.91 217.53 L1935.66 215.12 L1935.43 212.71 L1935.22 210.31 L1935.03 207.9 L1934.85 205.49 L1934.7 203.09 L1934.56 200.68 L1934.43 198.27 L1934.33 195.87 L1934.23 193.46 L1934.15 191.05 L1934.08 188.65 L1934.05 186.24 L1934.05 183.83 L1934.05 181.43 L1934.05 179.02 L1934.05 176.61 L1934.05 174.21 L1934.05 171.8Z" fill="#fff" stroke="#1a1a1a" stroke-width="1.85"/>
<path d="M1933.35 195.5 L1933.35 197.33 L1933.31 199.16 L1933.26 200.99 L1933.21 202.82 L1933.15 204.65 L1933.09 206.48 L1933.02 208.31 L1932.95 210.14 L1932.87 211.97 L1932.78 213.8 L1932.69 215.63 L1932.6 217.46 L1932.5 219.29 L1932.39 221.12 L1932.28 222.95 L1932.17 224.78 L1932.05 226.61 L1931.93 228.44 L1931.81 230.27 L1931.69 232.1 L1931.58 233.93 L1931.46 235.76 L1931.35 237.59 L1931.25 239.42 L1931.15 241.25 L1931.07 243.08 L1931 244.91 L1930.96 246.74 L1930.96 248.57 L1931.01 250.4 L1931.08 252.23 L1931.17 254.06 L1931.27 255.89 L1931.38 257.72 L1931.49 259.55 L1931.61 261.38 L1931.74 263.21 L1931.86 265.04 L1931.98 266.87 L1932.11 268.7 L1932.23 270.53 L1932.34 272.36 L1932.45 274.19 L1932.56 276.02 L1932.66 277.85 L1932.75 279.68 L1932.84 281.51 L1932.93 283.34 L1933 285.17 L1933.08 287 L1933.14 288.83 L1933.2 290.66 L1933.26 292.49 L1933.31 294.32 L1933.35 296.15 L1933.35 297.98 L1933.35 299.81 L1933.35 301.64 L1933.35 303.47 L1933.35 305.3 L1934.05 305.3 L1934.05 303.47 L1934.05 301.64 L1934.05 299.81 L1934.05 297.98 L1934.05 296.15 L1934.09 294.32 L1934.14 292.49 L1934.2 290.66 L1934.26 288.83 L1934.32 287 L1934.4 285.17 L1934.47 283.34 L1934.56 281.51 L1934.65 279.68 L1934.74 277.85 L1934.84 276.02 L1934.95 274.19 L1935.06 272.36 L1935.17 270.53 L1935.29 268.7 L1935.42 266.87 L1935.54 265.04 L1935.66 263.21 L1935.79 261.38 L1935.91 259.55 L1936.02 257.72 L1936.13 255.89 L1936.23 254.06 L1936.32 252.23 L1936.39 250.4 L1936.44 248.57 L1936.44 246.74 L1936.4 244.91 L1936.33 243.08 L1936.25 241.25 L1936.15 239.42 L1936.05 237.59 L1935.94 235.76 L1935.82 233.93 L1935.71 232.1 L1935.59 230.27 L1935.47 228.44 L1935.35 226.61 L1935.23 224.78 L1935.12 222.95 L1935.01 221.12 L1934.9 219.29 L1934.8 217.46 L1934.71 215.63 L1934.62 213.8 L1934.53 211.97 L1934.45 210.14 L1934.38 208.31 L1934.31 206.48 L1934.25 204.65 L1934.19 202.82 L1934.14 200.99 L1934.09 199.16 L1934.05 197.33 L1934.05 195.5Z" fill="none" stroke="#BF2B21" stroke-width="0.9"/>
<line x1="1933.7" y1="195.5" x2="1933.7" y2="305.3" stroke="#BF2B21" stroke-width="1"/>
<rect x="1928.9" y="232.3" width="9.6" height="30.1" fill="#fff" stroke="#BF2B21" stroke-width="2"/>
<line x1="1928.9" y1="247.6" x2="1938.5" y2="247.6" stroke="#BF2B21" stroke-width="4.6"/>
<line x1="1933.7" y1="365.2" x2="1933.7" y2="372.6" stroke="#111" stroke-width="1.5"/>
<text x="1940.9" y="377" font-size="18.8" text-anchor="end" transform="rotate(-90 1940.9 377)">CD8 Proliferating</text>
<line x1="1951.4" y1="156.7" x2="1951.4" y2="297.4" stroke="#1a1a1a" stroke-width="1.7"/>
<path d="M1951.05 156.7 L1951.05 159.04 L1951.05 161.39 L1951.05 163.73 L1951.05 166.08 L1951.05 168.42 L1951.05 170.77 L1951.05 173.11 L1951.05 175.46 L1951.05 177.8 L1951.05 180.15 L1951.03 182.49 L1950.97 184.84 L1950.9 187.19 L1950.83 189.53 L1950.75 191.88 L1950.66 194.22 L1950.55 196.56 L1950.44 198.91 L1950.32 201.25 L1950.18 203.6 L1950.03 205.94 L1949.86 208.29 L1949.68 210.63 L1949.49 212.98 L1949.28 215.32 L1949.06 217.67 L1948.82 220.01 L1948.57 222.36 L1948.31 224.7 L1948.03 227.05 L1947.75 229.39 L1947.46 231.74 L1947.16 234.08 L1946.86 236.43 L1946.56 238.77 L1946.26 241.12 L1945.98 243.46 L1945.71 245.81 L1945.46 248.15 L1945.24 250.5 L1945.06 252.84 L1944.94 255.19 L1944.94 257.53 L1945.25 259.88 L1945.7 262.22 L1946.25 264.57 L1946.83 266.91 L1947.43 269.26 L1948 271.6 L1948.53 273.95 L1949.01 276.29 L1949.44 278.64 L1949.82 280.99 L1950.14 283.33 L1950.4 285.67 L1950.62 288.02 L1950.8 290.37 L1950.94 292.71 L1951.05 295.05 L1951.05 297.4 L1951.75 297.4 L1951.75 295.05 L1951.86 292.71 L1952 290.37 L1952.18 288.02 L1952.4 285.67 L1952.66 283.33 L1952.98 280.99 L1953.36 278.64 L1953.79 276.29 L1954.27 273.95 L1954.8 271.6 L1955.37 269.26 L1955.97 266.91 L1956.55 264.57 L1957.1 262.22 L1957.55 259.88 L1957.86 257.53 L1957.86 255.19 L1957.74 252.84 L1957.56 250.5 L1957.34 248.15 L1957.09 245.81 L1956.82 243.46 L1956.54 241.12 L1956.24 238.77 L1955.94 236.43 L1955.64 234.08 L1955.34 231.74 L1955.05 229.39 L1954.77 227.05 L1954.49 224.7 L1954.23 222.36 L1953.98 220.01 L1953.74 217.67 L1953.52 215.32 L1953.31 212.98 L1953.12 210.63 L1952.94 208.29 L1952.77 205.94 L1952.62 203.6 L1952.48 201.25 L1952.36 198.91 L1952.25 196.56 L1952.14 194.22 L1952.05 191.88 L1951.97 189.53 L1951.9 187.19 L1951.83 184.84 L1951.77 182.49 L1951.75 180.15 L1951.75 177.8 L1951.75 175.46 L1951.75 173.11 L1951.75 170.77 L1951.75 168.42 L1951.75 166.08 L1951.75 163.73 L1951.75 161.39 L1951.75 159.04 L1951.75 156.7Z" fill="#fff" stroke="#1a1a1a" stroke-width="1.85"/>
<path d="M1950.89 200 L1950.85 201.54 L1950.8 203.08 L1950.76 204.62 L1950.71 206.17 L1950.65 207.71 L1950.6 209.25 L1950.54 210.79 L1950.47 212.33 L1950.41 213.88 L1950.34 215.42 L1950.26 216.96 L1950.19 218.5 L1950.11 220.04 L1950.03 221.58 L1949.94 223.12 L1949.86 224.67 L1949.77 226.21 L1949.67 227.75 L1949.58 229.29 L1949.48 230.83 L1949.39 232.38 L1949.29 233.92 L1949.19 235.46 L1949.09 237 L1948.99 238.54 L1948.9 240.08 L1948.8 241.62 L1948.71 243.17 L1948.62 244.71 L1948.53 246.25 L1948.45 247.79 L1948.37 249.33 L1948.3 250.88 L1948.25 252.42 L1948.2 253.96 L1948.16 255.5 L1948.15 257.04 L1948.23 258.58 L1948.34 260.12 L1948.49 261.67 L1948.66 263.21 L1948.85 264.75 L1949.04 266.29 L1949.23 267.83 L1949.43 269.38 L1949.62 270.92 L1949.8 272.46 L1949.97 274 L1950.13 275.54 L1950.28 277.08 L1950.42 278.62 L1950.55 280.17 L1950.66 281.71 L1950.76 283.25 L1950.85 284.79 L1950.93 286.33 L1951 287.88 L1951.05 289.42 L1951.05 290.96 L1951.05 292.5 L1951.75 292.5 L1951.75 290.96 L1951.75 289.42 L1951.8 287.88 L1951.87 286.33 L1951.95 284.79 L1952.04 283.25 L1952.14 281.71 L1952.25 280.17 L1952.38 278.62 L1952.52 277.08 L1952.67 275.54 L1952.83 274 L1953 272.46 L1953.18 270.92 L1953.37 269.38 L1953.57 267.83 L1953.76 266.29 L1953.95 264.75 L1954.14 263.21 L1954.31 261.67 L1954.46 260.12 L1954.57 258.58 L1954.65 257.04 L1954.64 255.5 L1954.6 253.96 L1954.55 252.42 L1954.5 250.88 L1954.43 249.33 L1954.35 247.79 L1954.27 246.25 L1954.18 244.71 L1954.09 243.17 L1954 241.62 L1953.9 240.08 L1953.81 238.54 L1953.71 237 L1953.61 235.46 L1953.51 233.92 L1953.41 232.38 L1953.32 230.83 L1953.22 229.29 L1953.13 227.75 L1953.03 226.21 L1952.94 224.67 L1952.86 223.12 L1952.77 221.58 L1952.69 220.04 L1952.61 218.5 L1952.54 216.96 L1952.46 215.42 L1952.39 213.88 L1952.33 212.33 L1952.26 210.79 L1952.2 209.25 L1952.15 207.71 L1952.09 206.17 L1952.04 204.62 L1952 203.08 L1951.95 201.54 L1951.91 200Z" fill="none" stroke="#BF2B21" stroke-width="0.9"/>
<line x1="1951.4" y1="200" x2="1951.4" y2="292.5" stroke="#BF2B21" stroke-width="1"/>
<rect x="1946.6" y="238.2" width="9.6" height="27.9" fill="#fff" stroke="#BF2B21" stroke-width="2"/>
<line x1="1946.6" y1="256.7" x2="1956.2" y2="256.7" stroke="#BF2B21" stroke-width="4.6"/>
<line x1="1951.4" y1="365.2" x2="1951.4" y2="372.6" stroke="#111" stroke-width="1.5"/>
<text x="1958.6" y="377" font-size="18.8" text-anchor="end" transform="rotate(-90 1958.6 377)">dnT</text>
<line x1="1969.2" y1="155" x2="1969.2" y2="303.8" stroke="#1a1a1a" stroke-width="1.7"/>
<path d="M1968.85 155 L1968.85 157.48 L1968.85 159.96 L1968.85 162.44 L1968.85 164.92 L1968.85 167.4 L1968.85 169.88 L1968.85 172.36 L1968.85 174.84 L1968.85 177.32 L1968.85 179.8 L1968.85 182.28 L1968.85 184.76 L1968.85 187.24 L1968.85 189.72 L1968.85 192.2 L1968.85 194.68 L1968.85 197.16 L1968.85 199.64 L1968.85 202.12 L1968.85 204.6 L1968.85 207.08 L1968.85 209.56 L1968.83 212.04 L1968.72 214.52 L1968.59 217 L1968.43 219.48 L1968.24 221.96 L1968 224.44 L1967.72 226.92 L1967.4 229.4 L1967.03 231.88 L1966.61 234.36 L1966.15 236.84 L1965.64 239.32 L1965.09 241.8 L1964.53 244.28 L1963.96 246.76 L1963.41 249.24 L1962.9 251.72 L1962.49 254.2 L1962.23 256.68 L1962.35 259.16 L1962.78 261.64 L1963.36 264.12 L1964.01 266.6 L1964.68 269.08 L1965.34 271.56 L1965.96 274.04 L1966.53 276.52 L1967.03 279 L1967.46 281.48 L1967.83 283.96 L1968.13 286.44 L1968.38 288.92 L1968.58 291.4 L1968.73 293.88 L1968.85 296.36 L1968.85 298.84 L1968.85 301.32 L1968.85 303.8 L1969.55 303.8 L1969.55 301.32 L1969.55 298.84 L1969.55 296.36 L1969.67 293.88 L1969.82 291.4 L1970.02 288.92 L1970.27 286.44 L1970.57 283.96 L1970.94 281.48 L1971.37 279 L1971.87 276.52 L1972.44 274.04 L1973.06 271.56 L1973.72 269.08 L1974.39 266.6 L1975.04 264.12 L1975.62 261.64 L1976.05 259.16 L1976.17 256.68 L1975.91 254.2 L1975.5 251.72 L1974.99 249.24 L1974.44 246.76 L1973.87 244.28 L1973.31 241.8 L1972.76 239.32 L1972.25 236.84 L1971.79 234.36 L1971.37 231.88 L1971 229.4 L1970.68 226.92 L1970.4 224.44 L1970.16 221.96 L1969.97 219.48 L1969.81 217 L1969.68 214.52 L1969.57 212.04 L1969.55 209.56 L1969.55 207.08 L1969.55 204.6 L1969.55 202.12 L1969.55 199.64 L1969.55 197.16 L1969.55 194.68 L1969.55 192.2 L1969.55 189.72 L1969.55 187.24 L1969.55 184.76 L1969.55 182.28 L1969.55 179.8 L1969.55 177.32 L1969.55 174.84 L1969.55 172.36 L1969.55 169.88 L1969.55 167.4 L1969.55 164.92 L1969.55 162.44 L1969.55 159.96 L1969.55 157.48 L1969.55 155Z" fill="#fff" stroke="#1a1a1a" stroke-width="1.85"/>
<path d="M1968.85 213.5 L1968.85 214.98 L1968.85 216.47 L1968.85 217.95 L1968.82 219.43 L1968.76 220.92 L1968.7 222.4 L1968.63 223.88 L1968.55 225.37 L1968.47 226.85 L1968.37 228.33 L1968.27 229.82 L1968.16 231.3 L1968.04 232.78 L1967.91 234.27 L1967.78 235.75 L1967.63 237.23 L1967.48 238.72 L1967.32 240.2 L1967.16 241.68 L1966.99 243.17 L1966.82 244.65 L1966.65 246.13 L1966.48 247.62 L1966.32 249.1 L1966.16 250.58 L1966.02 252.07 L1965.89 253.55 L1965.79 255.03 L1965.72 256.52 L1965.71 258 L1965.8 259.48 L1965.92 260.97 L1966.08 262.45 L1966.26 263.93 L1966.45 265.42 L1966.64 266.9 L1966.85 268.38 L1967.05 269.87 L1967.24 271.35 L1967.43 272.83 L1967.61 274.32 L1967.79 275.8 L1967.95 277.28 L1968.09 278.77 L1968.23 280.25 L1968.35 281.73 L1968.46 283.22 L1968.56 284.7 L1968.65 286.18 L1968.73 287.67 L1968.8 289.15 L1968.85 290.63 L1968.85 292.12 L1968.85 293.6 L1968.85 295.08 L1968.85 296.57 L1968.85 298.05 L1968.85 299.53 L1968.85 301.02 L1968.85 302.5 L1969.55 302.5 L1969.55 301.02 L1969.55 299.53 L1969.55 298.05 L1969.55 296.57 L1969.55 295.08 L1969.55 293.6 L1969.55 292.12 L1969.55 290.63 L1969.6 289.15 L1969.67 287.67 L1969.75 286.18 L1969.84 284.7 L1969.94 283.22 L1970.05 281.73 L1970.17 280.25 L1970.31 278.77 L1970.45 277.28 L1970.61 275.8 L1970.79 274.32 L1970.97 272.83 L1971.16 271.35 L1971.35 269.87 L1971.55 268.38 L1971.76 266.9 L1971.95 265.42 L1972.14 263.93 L1972.32 262.45 L1972.48 260.97 L1972.6 259.48 L1972.69 258 L1972.68 256.52 L1972.61 255.03 L1972.51 253.55 L1972.38 252.07 L1972.24 250.58 L1972.08 249.1 L1971.92 247.62 L1971.75 246.13 L1971.58 244.65 L1971.41 243.17 L1971.24 241.68 L1971.08 240.2 L1970.92 238.72 L1970.77 237.23 L1970.62 235.75 L1970.49 234.27 L1970.36 232.78 L1970.24 231.3 L1970.13 229.82 L1970.03 228.33 L1969.93 226.85 L1969.85 225.37 L1969.77 223.88 L1969.7 222.4 L1969.64 220.92 L1969.58 219.43 L1969.55 217.95 L1969.55 216.47 L1969.55 214.98 L1969.55 213.5Z" fill="none" stroke="#BF2B21" stroke-width="0.9"/>
<line x1="1969.2" y1="213.5" x2="1969.2" y2="302.5" stroke="#BF2B21" stroke-width="1"/>
<rect x="1964.4" y="246.3" width="9.6" height="20.5" fill="#fff" stroke="#BF2B21" stroke-width="2"/>
<line x1="1964.4" y1="257.4" x2="1974" y2="257.4" stroke="#BF2B21" stroke-width="4.6"/>
<line x1="1969.2" y1="365.2" x2="1969.2" y2="372.6" stroke="#111" stroke-width="1.5"/>
<text x="1976.4" y="377" font-size="18.8" text-anchor="end" transform="rotate(-90 1976.4 377)">CD4 TEM</text>
<line x1="1986.7" y1="196.2" x2="1986.7" y2="320.4" stroke="#1a1a1a" stroke-width="1.7"/>
<path d="M1986.22 196.2 L1986.15 198.27 L1986.08 200.34 L1986 202.41 L1985.91 204.48 L1985.81 206.55 L1985.7 208.62 L1985.58 210.69 L1985.44 212.76 L1985.3 214.83 L1985.15 216.9 L1984.98 218.97 L1984.8 221.04 L1984.62 223.11 L1984.41 225.18 L1984.2 227.25 L1983.98 229.32 L1983.74 231.39 L1983.5 233.46 L1983.25 235.53 L1982.99 237.6 L1982.73 239.67 L1982.47 241.74 L1982.21 243.81 L1981.95 245.88 L1981.7 247.95 L1981.47 250.02 L1981.25 252.09 L1981.05 254.16 L1980.89 256.23 L1980.76 258.3 L1980.7 260.37 L1980.82 262.44 L1981.06 264.51 L1981.37 266.58 L1981.72 268.65 L1982.11 270.72 L1982.51 272.79 L1982.91 274.86 L1983.3 276.93 L1983.68 279 L1984.04 281.07 L1984.37 283.14 L1984.68 285.21 L1984.96 287.28 L1985.21 289.35 L1985.43 291.42 L1985.63 293.49 L1985.8 295.56 L1985.95 297.63 L1986.08 299.7 L1986.19 301.77 L1986.28 303.84 L1986.35 305.91 L1986.35 307.98 L1986.35 310.05 L1986.35 312.12 L1986.35 314.19 L1986.35 316.26 L1986.35 318.33 L1986.35 320.4 L1987.05 320.4 L1987.05 318.33 L1987.05 316.26 L1987.05 314.19 L1987.05 312.12 L1987.05 310.05 L1987.05 307.98 L1987.05 305.91 L1987.12 303.84 L1987.21 301.77 L1987.32 299.7 L1987.45 297.63 L1987.6 295.56 L1987.77 293.49 L1987.97 291.42 L1988.19 289.35 L1988.44 287.28 L1988.72 285.21 L1989.03 283.14 L1989.36 281.07 L1989.72 279 L1990.1 276.93 L1990.49 274.86 L1990.89 272.79 L1991.29 270.72 L1991.68 268.65 L1992.03 266.58 L1992.34 264.51 L1992.58 262.44 L1992.7 260.37 L1992.64 258.3 L1992.51 256.23 L1992.35 254.16 L1992.15 252.09 L1991.93 250.02 L1991.7 247.95 L1991.45 245.88 L1991.19 243.81 L1990.93 241.74 L1990.67 239.67 L1990.41 237.6 L1990.15 235.53 L1989.9 233.46 L1989.66 231.39 L1989.42 229.32 L1989.2 227.25 L1988.99 225.18 L1988.78 223.11 L1988.6 221.04 L1988.42 218.97 L1988.25 216.9 L1988.1 214.83 L1987.96 212.76 L1987.82 210.69 L1987.7 208.62 L1987.59 206.55 L1987.49 204.48 L1987.4 202.41 L1987.32 200.34 L1987.25 198.27 L1987.18 196.2Z" fill="#fff" stroke="#1a1a1a" stroke-width="1.85"/>
<path d="M1986.35 200 L1986.35 201.83 L1986.32 203.67 L1986.28 205.5 L1986.23 207.33 L1986.18 209.17 L1986.13 211 L1986.07 212.83 L1986.01 214.67 L1985.94 216.5 L1985.87 218.33 L1985.79 220.17 L1985.71 222 L1985.62 223.83 L1985.53 225.67 L1985.44 227.5 L1985.34 229.33 L1985.23 231.17 L1985.13 233 L1985.02 234.83 L1984.9 236.67 L1984.79 238.5 L1984.67 240.33 L1984.56 242.17 L1984.44 244 L1984.33 245.83 L1984.22 247.67 L1984.11 249.5 L1984.01 251.33 L1983.92 253.17 L1983.84 255 L1983.77 256.83 L1983.72 258.67 L1983.7 260.5 L1983.75 262.33 L1983.86 264.17 L1983.99 266 L1984.14 267.83 L1984.3 269.67 L1984.48 271.5 L1984.66 273.33 L1984.83 275.17 L1985.01 277 L1985.18 278.83 L1985.34 280.67 L1985.49 282.5 L1985.63 284.33 L1985.76 286.17 L1985.88 288 L1985.98 289.83 L1986.08 291.67 L1986.17 293.5 L1986.24 295.33 L1986.31 297.17 L1986.35 299 L1986.35 300.83 L1986.35 302.67 L1986.35 304.5 L1986.35 306.33 L1986.35 308.17 L1986.35 310 L1987.05 310 L1987.05 308.17 L1987.05 306.33 L1987.05 304.5 L1987.05 302.67 L1987.05 300.83 L1987.05 299 L1987.09 297.17 L1987.16 295.33 L1987.23 293.5 L1987.32 291.67 L1987.42 289.83 L1987.52 288 L1987.64 286.17 L1987.77 284.33 L1987.91 282.5 L1988.06 280.67 L1988.22 278.83 L1988.39 277 L1988.57 275.17 L1988.74 273.33 L1988.92 271.5 L1989.1 269.67 L1989.26 267.83 L1989.41 266 L1989.54 264.17 L1989.65 262.33 L1989.7 260.5 L1989.68 258.67 L1989.63 256.83 L1989.56 255 L1989.48 253.17 L1989.39 251.33 L1989.29 249.5 L1989.18 247.67 L1989.07 245.83 L1988.96 244 L1988.84 242.17 L1988.73 240.33 L1988.61 238.5 L1988.5 236.67 L1988.38 234.83 L1988.27 233 L1988.17 231.17 L1988.06 229.33 L1987.96 227.5 L1987.87 225.67 L1987.78 223.83 L1987.69 222 L1987.61 220.17 L1987.53 218.33 L1987.46 216.5 L1987.39 214.67 L1987.33 212.83 L1987.27 211 L1987.22 209.17 L1987.17 207.33 L1987.12 205.5 L1987.08 203.67 L1987.05 201.83 L1987.05 200Z" fill="none" stroke="#BF2B21" stroke-width="0.9"/>
<line x1="1986.7" y1="200" x2="1986.7" y2="310" stroke="#BF2B21" stroke-width="1"/>
<rect x="1981.9" y="243.1" width="9.6" height="28.6" fill="#fff" stroke="#BF2B21" stroke-width="2"/>
<line x1="1981.9" y1="260.4" x2="1991.5" y2="260.4" stroke="#BF2B21" stroke-width="4.6"/>
<line x1="1986.7" y1="365.2" x2="1986.7" y2="372.6" stroke="#111" stroke-width="1.5"/>
<text x="1993.9" y="377" font-size="18.8" text-anchor="end" transform="rotate(-90 1993.9 377)">Plasmablast</text>
<line x1="2004.5" y1="190.8" x2="2004.5" y2="301.4" stroke="#1a1a1a" stroke-width="1.7"/>
<path d="M2004.15 190.8 L2004.15 192.64 L2004.15 194.49 L2004.15 196.33 L2004.15 198.17 L2004.15 200.02 L2004.15 201.86 L2004.15 203.7 L2004.15 205.55 L2004.15 207.39 L2004.15 209.23 L2004.15 211.08 L2004.15 212.92 L2004.15 214.76 L2004.15 216.61 L2004.15 218.45 L2004.15 220.29 L2004.06 222.14 L2003.95 223.98 L2003.82 225.82 L2003.66 227.67 L2003.47 229.51 L2003.25 231.35 L2003 233.2 L2002.7 235.04 L2002.37 236.88 L2001.99 238.73 L2001.58 240.57 L2001.12 242.41 L2000.64 244.26 L2000.12 246.1 L1999.59 247.94 L1999.06 249.79 L1998.54 251.63 L1998.06 253.47 L1997.64 255.32 L1997.33 257.16 L1997.21 259 L1997.4 260.85 L1997.72 262.69 L1998.12 264.53 L1998.58 266.38 L1999.07 268.22 L1999.57 270.06 L2000.07 271.91 L2000.55 273.75 L2001.01 275.59 L2001.45 277.44 L2001.85 279.28 L2002.22 281.12 L2002.55 282.97 L2002.84 284.81 L2003.1 286.65 L2003.33 288.5 L2003.53 290.34 L2003.7 292.18 L2003.84 294.03 L2003.96 295.87 L2004.07 297.71 L2004.15 299.56 L2004.15 301.4 L2004.85 301.4 L2004.85 299.56 L2004.93 297.71 L2005.04 295.87 L2005.16 294.03 L2005.3 292.18 L2005.47 290.34 L2005.67 288.5 L2005.9 286.65 L2006.16 284.81 L2006.45 282.97 L2006.78 281.12 L2007.15 279.28 L2007.55 277.44 L2007.99 275.59 L2008.45 273.75 L2008.93 271.91 L2009.43 270.06 L2009.93 268.22 L2010.42 266.38 L2010.88 264.53 L2011.28 262.69 L2011.6 260.85 L2011.79 259 L2011.67 257.16 L2011.36 255.32 L2010.94 253.47 L2010.46 251.63 L2009.94 249.79 L2009.41 247.94 L2008.88 246.1 L2008.36 244.26 L2007.88 242.41 L2007.42 240.57 L2007.01 238.73 L2006.63 236.88 L2006.3 235.04 L2006 233.2 L2005.75 231.35 L2005.53 229.51 L2005.34 227.67 L2005.18 225.82 L2005.05 223.98 L2004.94 222.14 L2004.85 220.29 L2004.85 218.45 L2004.85 216.61 L2004.85 214.76 L2004.85 212.92 L2004.85 211.08 L2004.85 209.23 L2004.85 207.39 L2004.85 205.55 L2004.85 203.7 L2004.85 201.86 L2004.85 200.02 L2004.85 198.17 L2004.85 196.33 L2004.85 194.49 L2004.85 192.64 L2004.85 190.8Z" fill="#fff" stroke="#1a1a1a" stroke-width="1.85"/>
<path d="M2004.15 219.5 L2004.15 220.76 L2004.15 222.02 L2004.15 223.28 L2004.15 224.53 L2004.15 225.79 L2004.11 227.05 L2004.05 228.31 L2003.98 229.57 L2003.91 230.82 L2003.83 232.08 L2003.74 233.34 L2003.64 234.6 L2003.53 235.86 L2003.41 237.12 L2003.28 238.38 L2003.15 239.63 L2003 240.89 L2002.85 242.15 L2002.68 243.41 L2002.51 244.67 L2002.34 245.93 L2002.16 247.18 L2001.97 248.44 L2001.79 249.7 L2001.61 250.96 L2001.44 252.22 L2001.28 253.47 L2001.13 254.73 L2001.01 255.99 L2000.91 257.25 L2000.85 258.51 L2000.88 259.77 L2000.96 261.02 L2001.07 262.28 L2001.2 263.54 L2001.34 264.8 L2001.5 266.06 L2001.66 267.32 L2001.83 268.57 L2002 269.83 L2002.17 271.09 L2002.34 272.35 L2002.51 273.61 L2002.67 274.87 L2002.82 276.12 L2002.97 277.38 L2003.11 278.64 L2003.24 279.9 L2003.36 281.16 L2003.48 282.42 L2003.58 283.68 L2003.68 284.93 L2003.77 286.19 L2003.85 287.45 L2003.93 288.71 L2004 289.97 L2004.06 291.23 L2004.11 292.48 L2004.15 293.74 L2004.15 295 L2004.85 295 L2004.85 293.74 L2004.89 292.48 L2004.94 291.23 L2005 289.97 L2005.07 288.71 L2005.15 287.45 L2005.23 286.19 L2005.32 284.93 L2005.42 283.68 L2005.52 282.42 L2005.64 281.16 L2005.76 279.9 L2005.89 278.64 L2006.03 277.38 L2006.18 276.12 L2006.33 274.87 L2006.49 273.61 L2006.66 272.35 L2006.83 271.09 L2007 269.83 L2007.17 268.57 L2007.34 267.32 L2007.5 266.06 L2007.66 264.8 L2007.8 263.54 L2007.93 262.28 L2008.04 261.02 L2008.12 259.77 L2008.15 258.51 L2008.09 257.25 L2007.99 255.99 L2007.87 254.73 L2007.72 253.47 L2007.56 252.22 L2007.39 250.96 L2007.21 249.7 L2007.03 248.44 L2006.84 247.18 L2006.66 245.93 L2006.49 244.67 L2006.32 243.41 L2006.15 242.15 L2006 240.89 L2005.85 239.63 L2005.72 238.38 L2005.59 237.12 L2005.47 235.86 L2005.36 234.6 L2005.26 233.34 L2005.17 232.08 L2005.09 230.82 L2005.02 229.57 L2004.95 228.31 L2004.89 227.05 L2004.85 225.79 L2004.85 224.53 L2004.85 223.28 L2004.85 222.02 L2004.85 220.76 L2004.85 219.5Z" fill="none" stroke="#BF2B21" stroke-width="0.9"/>
<line x1="2004.5" y1="219.5" x2="2004.5" y2="295" stroke="#BF2B21" stroke-width="1"/>
<rect x="1999.7" y="249.5" width="9.6" height="19" fill="#fff" stroke="#BF2B21" stroke-width="2"/>
<line x1="1999.7" y1="258.7" x2="2009.3" y2="258.7" stroke="#BF2B21" stroke-width="4.6"/>
<line x1="2004.5" y1="365.2" x2="2004.5" y2="372.6" stroke="#111" stroke-width="1.5"/>
<text x="2011.7" y="377" font-size="18.8" text-anchor="end" transform="rotate(-90 2011.7 377)">CD8 TCM</text>
<line x1="2022.3" y1="210.5" x2="2022.3" y2="298.9" stroke="#1a1a1a" stroke-width="1.7"/>
<path d="M2021.88 210.5 L2021.83 211.97 L2021.77 213.45 L2021.7 214.92 L2021.63 216.39 L2021.54 217.87 L2021.45 219.34 L2021.36 220.81 L2021.25 222.29 L2021.13 223.76 L2021.01 225.23 L2020.87 226.71 L2020.73 228.18 L2020.57 229.65 L2020.4 231.13 L2020.22 232.6 L2020.03 234.07 L2019.83 235.55 L2019.62 237.02 L2019.4 238.49 L2019.17 239.97 L2018.93 241.44 L2018.68 242.91 L2018.43 244.39 L2018.17 245.86 L2017.91 247.33 L2017.65 248.81 L2017.39 250.28 L2017.14 251.75 L2016.89 253.23 L2016.65 254.7 L2016.43 256.17 L2016.23 257.65 L2016.06 259.12 L2015.92 260.59 L2015.82 262.07 L2015.82 263.54 L2015.95 265.01 L2016.15 266.49 L2016.39 267.96 L2016.66 269.43 L2016.96 270.91 L2017.28 272.38 L2017.61 273.85 L2017.94 275.33 L2018.27 276.8 L2018.59 278.27 L2018.9 279.75 L2019.21 281.22 L2019.49 282.69 L2019.77 284.17 L2020.02 285.64 L2020.26 287.11 L2020.48 288.59 L2020.69 290.06 L2020.87 291.53 L2021.04 293.01 L2021.2 294.48 L2021.34 295.95 L2021.46 297.43 L2021.57 298.9 L2023.03 298.9 L2023.14 297.43 L2023.26 295.95 L2023.4 294.48 L2023.56 293.01 L2023.73 291.53 L2023.91 290.06 L2024.12 288.59 L2024.34 287.11 L2024.58 285.64 L2024.83 284.17 L2025.11 282.69 L2025.39 281.22 L2025.7 279.75 L2026.01 278.27 L2026.33 276.8 L2026.66 275.33 L2026.99 273.85 L2027.32 272.38 L2027.64 270.91 L2027.94 269.43 L2028.21 267.96 L2028.45 266.49 L2028.65 265.01 L2028.78 263.54 L2028.78 262.07 L2028.68 260.59 L2028.54 259.12 L2028.37 257.65 L2028.17 256.17 L2027.95 254.7 L2027.71 253.23 L2027.46 251.75 L2027.21 250.28 L2026.95 248.81 L2026.69 247.33 L2026.43 245.86 L2026.17 244.39 L2025.92 242.91 L2025.67 241.44 L2025.43 239.97 L2025.2 238.49 L2024.98 237.02 L2024.77 235.55 L2024.57 234.07 L2024.38 232.6 L2024.2 231.13 L2024.03 229.65 L2023.87 228.18 L2023.73 226.71 L2023.59 225.23 L2023.47 223.76 L2023.35 222.29 L2023.24 220.81 L2023.15 219.34 L2023.06 217.87 L2022.97 216.39 L2022.9 214.92 L2022.83 213.45 L2022.77 211.97 L2022.72 210.5Z" fill="#fff" stroke="#1a1a1a" stroke-width="1.85"/>
<path d="M2021.95 211 L2021.95 212.47 L2021.95 213.93 L2021.95 215.4 L2021.95 216.86 L2021.91 218.32 L2021.86 219.79 L2021.81 221.25 L2021.76 222.72 L2021.7 224.19 L2021.64 225.65 L2021.57 227.12 L2021.49 228.58 L2021.41 230.04 L2021.33 231.51 L2021.24 232.97 L2021.14 234.44 L2021.04 235.91 L2020.94 237.37 L2020.82 238.83 L2020.71 240.3 L2020.59 241.76 L2020.47 243.23 L2020.34 244.69 L2020.21 246.16 L2020.08 247.62 L2019.95 249.09 L2019.82 250.55 L2019.7 252.02 L2019.57 253.48 L2019.46 254.95 L2019.35 256.41 L2019.25 257.88 L2019.17 259.34 L2019.1 260.81 L2019.06 262.27 L2019.07 263.74 L2019.14 265.2 L2019.24 266.67 L2019.36 268.13 L2019.5 269.6 L2019.65 271.06 L2019.81 272.53 L2019.97 274 L2020.13 275.46 L2020.3 276.92 L2020.46 278.39 L2020.61 279.86 L2020.76 281.32 L2020.91 282.78 L2021.04 284.25 L2021.17 285.71 L2021.29 287.18 L2021.4 288.64 L2021.5 290.11 L2021.59 291.57 L2021.67 293.04 L2021.75 294.5 L2021.82 295.97 L2021.88 297.43 L2021.94 298.9 L2022.66 298.9 L2022.72 297.43 L2022.78 295.97 L2022.85 294.5 L2022.93 293.04 L2023.01 291.57 L2023.1 290.11 L2023.2 288.64 L2023.31 287.18 L2023.43 285.71 L2023.56 284.25 L2023.69 282.78 L2023.84 281.32 L2023.99 279.86 L2024.14 278.39 L2024.3 276.92 L2024.47 275.46 L2024.63 274 L2024.79 272.53 L2024.95 271.06 L2025.1 269.6 L2025.24 268.13 L2025.36 266.67 L2025.46 265.2 L2025.53 263.74 L2025.54 262.27 L2025.5 260.81 L2025.43 259.34 L2025.35 257.88 L2025.25 256.41 L2025.14 254.95 L2025.03 253.48 L2024.9 252.02 L2024.78 250.55 L2024.65 249.09 L2024.52 247.62 L2024.39 246.16 L2024.26 244.69 L2024.13 243.23 L2024.01 241.76 L2023.89 240.3 L2023.78 238.83 L2023.66 237.37 L2023.56 235.91 L2023.46 234.44 L2023.36 232.97 L2023.27 231.51 L2023.19 230.04 L2023.11 228.58 L2023.03 227.12 L2022.96 225.65 L2022.9 224.19 L2022.84 222.72 L2022.79 221.25 L2022.74 219.79 L2022.69 218.32 L2022.65 216.86 L2022.65 215.4 L2022.65 213.93 L2022.65 212.47 L2022.65 211Z" fill="none" stroke="#BF2B21" stroke-width="0.9"/>
<line x1="2022.3" y1="211" x2="2022.3" y2="298.9" stroke="#BF2B21" stroke-width="1"/>
<rect x="2017.5" y="249.5" width="9.6" height="24" fill="#fff" stroke="#BF2B21" stroke-width="2"/>
<line x1="2017.5" y1="262.9" x2="2027.1" y2="262.9" stroke="#BF2B21" stroke-width="4.6"/>
<line x1="2022.3" y1="365.2" x2="2022.3" y2="372.6" stroke="#111" stroke-width="1.5"/>
<text x="2029.5" y="377" font-size="18.8" text-anchor="end" transform="rotate(-90 2029.5 377)">ILC</text>
<line x1="2039.8" y1="164.9" x2="2039.8" y2="311.7" stroke="#1a1a1a" stroke-width="1.7"/>
<path d="M2039.45 164.9 L2039.45 167.35 L2039.45 169.79 L2039.45 172.24 L2039.45 174.69 L2039.45 177.13 L2039.45 179.58 L2039.45 182.03 L2039.45 184.47 L2039.45 186.92 L2039.45 189.37 L2039.45 191.81 L2039.45 194.26 L2039.45 196.71 L2039.45 199.15 L2039.45 201.6 L2039.45 204.05 L2039.45 206.49 L2039.45 208.94 L2039.45 211.39 L2039.45 213.83 L2039.45 216.28 L2039.45 218.73 L2039.45 221.17 L2039.45 223.62 L2039.45 226.07 L2039.38 228.51 L2039.22 230.96 L2039 233.41 L2038.73 235.85 L2038.38 238.3 L2037.94 240.75 L2037.42 243.19 L2036.79 245.64 L2036.08 248.09 L2035.3 250.53 L2034.46 252.98 L2033.61 255.43 L2032.82 257.87 L2032.17 260.32 L2031.8 262.77 L2032.09 265.21 L2032.67 267.66 L2033.41 270.11 L2034.21 272.55 L2035.02 275 L2035.79 277.45 L2036.5 279.89 L2037.14 282.34 L2037.68 284.79 L2038.14 287.23 L2038.52 289.68 L2038.83 292.13 L2039.07 294.57 L2039.26 297.02 L2039.41 299.47 L2039.45 301.91 L2039.45 304.36 L2039.45 306.81 L2039.45 309.25 L2039.45 311.7 L2040.15 311.7 L2040.15 309.25 L2040.15 306.81 L2040.15 304.36 L2040.15 301.91 L2040.19 299.47 L2040.34 297.02 L2040.53 294.57 L2040.77 292.13 L2041.08 289.68 L2041.46 287.23 L2041.92 284.79 L2042.46 282.34 L2043.1 279.89 L2043.81 277.45 L2044.58 275 L2045.39 272.55 L2046.19 270.11 L2046.93 267.66 L2047.51 265.21 L2047.8 262.77 L2047.43 260.32 L2046.78 257.87 L2045.99 255.43 L2045.14 252.98 L2044.3 250.53 L2043.52 248.09 L2042.81 245.64 L2042.18 243.19 L2041.66 240.75 L2041.22 238.3 L2040.87 235.85 L2040.6 233.41 L2040.38 230.96 L2040.22 228.51 L2040.15 226.07 L2040.15 223.62 L2040.15 221.17 L2040.15 218.73 L2040.15 216.28 L2040.15 213.83 L2040.15 211.39 L2040.15 208.94 L2040.15 206.49 L2040.15 204.05 L2040.15 201.6 L2040.15 199.15 L2040.15 196.71 L2040.15 194.26 L2040.15 191.81 L2040.15 189.37 L2040.15 186.92 L2040.15 184.47 L2040.15 182.03 L2040.15 179.58 L2040.15 177.13 L2040.15 174.69 L2040.15 172.24 L2040.15 169.79 L2040.15 167.35 L2040.15 164.9Z" fill="#fff" stroke="#1a1a1a" stroke-width="1.85"/>
<path d="M2039.45 225.6 L2039.45 226.81 L2039.45 228.01 L2039.45 229.22 L2039.45 230.43 L2039.45 231.63 L2039.43 232.84 L2039.37 234.05 L2039.3 235.25 L2039.22 236.46 L2039.14 237.67 L2039.04 238.87 L2038.93 240.08 L2038.82 241.29 L2038.69 242.49 L2038.55 243.7 L2038.4 244.91 L2038.23 246.11 L2038.06 247.32 L2037.87 248.53 L2037.68 249.73 L2037.48 250.94 L2037.27 252.15 L2037.06 253.35 L2036.85 254.56 L2036.65 255.77 L2036.45 256.97 L2036.26 258.18 L2036.1 259.39 L2035.95 260.59 L2035.85 261.8 L2035.8 263.01 L2035.86 264.21 L2035.96 265.42 L2036.1 266.63 L2036.26 267.83 L2036.44 269.04 L2036.63 270.25 L2036.82 271.45 L2037.02 272.66 L2037.22 273.87 L2037.42 275.07 L2037.62 276.28 L2037.8 277.49 L2037.98 278.69 L2038.15 279.9 L2038.31 281.11 L2038.46 282.31 L2038.61 283.52 L2038.73 284.73 L2038.85 285.93 L2038.96 287.14 L2039.06 288.35 L2039.15 289.55 L2039.23 290.76 L2039.31 291.97 L2039.37 293.17 L2039.43 294.38 L2039.45 295.59 L2039.45 296.79 L2039.45 298 L2040.15 298 L2040.15 296.79 L2040.15 295.59 L2040.17 294.38 L2040.23 293.17 L2040.29 291.97 L2040.37 290.76 L2040.45 289.55 L2040.54 288.35 L2040.64 287.14 L2040.75 285.93 L2040.87 284.73 L2040.99 283.52 L2041.14 282.31 L2041.29 281.11 L2041.45 279.9 L2041.62 278.69 L2041.8 277.49 L2041.98 276.28 L2042.18 275.07 L2042.38 273.87 L2042.58 272.66 L2042.78 271.45 L2042.97 270.25 L2043.16 269.04 L2043.34 267.83 L2043.5 266.63 L2043.64 265.42 L2043.74 264.21 L2043.8 263.01 L2043.75 261.8 L2043.65 260.59 L2043.5 259.39 L2043.34 258.18 L2043.15 256.97 L2042.95 255.77 L2042.75 254.56 L2042.54 253.35 L2042.33 252.15 L2042.12 250.94 L2041.92 249.73 L2041.73 248.53 L2041.54 247.32 L2041.37 246.11 L2041.2 244.91 L2041.05 243.7 L2040.91 242.49 L2040.78 241.29 L2040.67 240.08 L2040.56 238.87 L2040.46 237.67 L2040.38 236.46 L2040.3 235.25 L2040.23 234.05 L2040.17 232.84 L2040.15 231.63 L2040.15 230.43 L2040.15 229.22 L2040.15 228.01 L2040.15 226.81 L2040.15 225.6Z" fill="none" stroke="#BF2B21" stroke-width="0.9"/>
<line x1="2039.8" y1="225.6" x2="2039.8" y2="298" stroke="#BF2B21" stroke-width="1"/>
<rect x="2035" y="254.5" width="9.6" height="17.2" fill="#fff" stroke="#BF2B21" stroke-width="2"/>
<line x1="2035" y1="262.9" x2="2044.6" y2="262.9" stroke="#BF2B21" stroke-width="4.6"/>
<line x1="2039.8" y1="365.2" x2="2039.8" y2="372.6" stroke="#111" stroke-width="1.5"/>
<text x="2047" y="377" font-size="18.8" text-anchor="end" transform="rotate(-90 2047 377)">CD8 Naive</text>
<line x1="2057.6" y1="163.7" x2="2057.6" y2="318.6" stroke="#1a1a1a" stroke-width="1.7"/>
<path d="M2057.25 163.7 L2057.25 166.28 L2057.25 168.86 L2057.25 171.44 L2057.25 174.03 L2057.25 176.61 L2057.25 179.19 L2057.25 181.77 L2057.25 184.35 L2057.25 186.94 L2057.25 189.52 L2057.25 192.1 L2057.25 194.68 L2057.25 197.26 L2057.25 199.84 L2057.25 202.43 L2057.25 205.01 L2057.25 207.59 L2057.25 210.17 L2057.25 212.75 L2057.25 215.33 L2057.25 217.91 L2057.25 220.5 L2057.19 223.08 L2057.05 225.66 L2056.87 228.24 L2056.65 230.82 L2056.36 233.41 L2056.02 235.99 L2055.61 238.57 L2055.12 241.15 L2054.56 243.73 L2053.93 246.31 L2053.24 248.89 L2052.51 251.48 L2051.77 254.06 L2051.06 256.64 L2050.43 259.22 L2049.96 261.8 L2049.85 264.38 L2050.32 266.97 L2051.03 269.55 L2051.85 272.13 L2052.71 274.71 L2053.53 277.29 L2054.29 279.88 L2054.97 282.46 L2055.55 285.04 L2056.03 287.62 L2056.41 290.2 L2056.72 292.78 L2056.96 295.37 L2057.14 297.95 L2057.25 300.53 L2057.25 303.11 L2057.25 305.69 L2057.25 308.27 L2057.25 310.86 L2057.25 313.44 L2057.25 316.02 L2057.25 318.6 L2057.95 318.6 L2057.95 316.02 L2057.95 313.44 L2057.95 310.86 L2057.95 308.27 L2057.95 305.69 L2057.95 303.11 L2057.95 300.53 L2058.06 297.95 L2058.24 295.37 L2058.48 292.78 L2058.79 290.2 L2059.17 287.62 L2059.65 285.04 L2060.23 282.46 L2060.91 279.88 L2061.67 277.29 L2062.49 274.71 L2063.35 272.13 L2064.17 269.55 L2064.88 266.97 L2065.35 264.38 L2065.24 261.8 L2064.77 259.22 L2064.14 256.64 L2063.43 254.06 L2062.69 251.48 L2061.96 248.89 L2061.27 246.31 L2060.64 243.73 L2060.08 241.15 L2059.59 238.57 L2059.18 235.99 L2058.84 233.41 L2058.55 230.82 L2058.33 228.24 L2058.15 225.66 L2058.01 223.08 L2057.95 220.5 L2057.95 217.91 L2057.95 215.33 L2057.95 212.75 L2057.95 210.17 L2057.95 207.59 L2057.95 205.01 L2057.95 202.43 L2057.95 199.84 L2057.95 197.26 L2057.95 194.68 L2057.95 192.1 L2057.95 189.52 L2057.95 186.94 L2057.95 184.35 L2057.95 181.77 L2057.95 179.19 L2057.95 176.61 L2057.95 174.03 L2057.95 171.44 L2057.95 168.86 L2057.95 166.28 L2057.95 163.7Z" fill="#fff" stroke="#1a1a1a" stroke-width="1.85"/>
<path d="M2057.25 223.5 L2057.25 224.82 L2057.25 226.15 L2057.25 227.47 L2057.21 228.8 L2057.16 230.12 L2057.09 231.45 L2057.02 232.78 L2056.94 234.1 L2056.85 235.43 L2056.75 236.75 L2056.65 238.07 L2056.53 239.4 L2056.4 240.72 L2056.27 242.05 L2056.12 243.38 L2055.97 244.7 L2055.8 246.03 L2055.63 247.35 L2055.45 248.68 L2055.27 250 L2055.08 251.32 L2054.89 252.65 L2054.7 253.97 L2054.51 255.3 L2054.33 256.62 L2054.16 257.95 L2054.01 259.27 L2053.87 260.6 L2053.77 261.93 L2053.71 263.25 L2053.74 264.57 L2053.84 265.9 L2053.99 267.23 L2054.17 268.55 L2054.36 269.88 L2054.57 271.2 L2054.79 272.52 L2055.01 273.85 L2055.23 275.18 L2055.44 276.5 L2055.65 277.82 L2055.84 279.15 L2056.03 280.48 L2056.2 281.8 L2056.36 283.12 L2056.51 284.45 L2056.65 285.77 L2056.77 287.1 L2056.88 288.43 L2056.98 289.75 L2057.06 291.07 L2057.14 292.4 L2057.21 293.73 L2057.25 295.05 L2057.25 296.38 L2057.25 297.7 L2057.25 299.02 L2057.25 300.35 L2057.25 301.68 L2057.25 303 L2057.95 303 L2057.95 301.68 L2057.95 300.35 L2057.95 299.02 L2057.95 297.7 L2057.95 296.38 L2057.95 295.05 L2057.99 293.73 L2058.06 292.4 L2058.14 291.07 L2058.22 289.75 L2058.32 288.43 L2058.43 287.1 L2058.55 285.77 L2058.69 284.45 L2058.84 283.12 L2059 281.8 L2059.17 280.48 L2059.36 279.15 L2059.55 277.82 L2059.76 276.5 L2059.97 275.18 L2060.19 273.85 L2060.41 272.52 L2060.63 271.2 L2060.84 269.88 L2061.03 268.55 L2061.21 267.23 L2061.36 265.9 L2061.46 264.57 L2061.49 263.25 L2061.43 261.93 L2061.33 260.6 L2061.19 259.27 L2061.04 257.95 L2060.87 256.62 L2060.69 255.3 L2060.5 253.97 L2060.31 252.65 L2060.12 251.32 L2059.93 250 L2059.75 248.68 L2059.57 247.35 L2059.4 246.03 L2059.23 244.7 L2059.08 243.38 L2058.93 242.05 L2058.8 240.72 L2058.67 239.4 L2058.55 238.07 L2058.45 236.75 L2058.35 235.43 L2058.26 234.1 L2058.18 232.78 L2058.11 231.45 L2058.04 230.12 L2057.99 228.8 L2057.95 227.47 L2057.95 226.15 L2057.95 224.82 L2057.95 223.5Z" fill="none" stroke="#BF2B21" stroke-width="0.9"/>
<line x1="2057.6" y1="223.5" x2="2057.6" y2="303" stroke="#BF2B21" stroke-width="1"/>
<rect x="2052.8" y="253.7" width="9.6" height="18.5" fill="#fff" stroke="#BF2B21" stroke-width="2"/>
<line x1="2052.8" y1="263.6" x2="2062.4" y2="263.6" stroke="#BF2B21" stroke-width="4.6"/>
<line x1="2057.6" y1="365.2" x2="2057.6" y2="372.6" stroke="#111" stroke-width="1.5"/>
<text x="2064.8" y="377" font-size="18.8" text-anchor="end" transform="rotate(-90 2064.8 377)">CD4 TCM</text>
<line x1="2074.8" y1="188.8" x2="2074.8" y2="310.5" stroke="#1a1a1a" stroke-width="1.7"/>
<path d="M2074.45 188.8 L2074.45 190.83 L2074.45 192.86 L2074.45 194.89 L2074.45 196.91 L2074.45 198.94 L2074.45 200.97 L2074.45 203 L2074.45 205.03 L2074.45 207.06 L2074.45 209.08 L2074.45 211.11 L2074.45 213.14 L2074.45 215.17 L2074.45 217.2 L2074.45 219.23 L2074.45 221.25 L2074.45 223.28 L2074.44 225.31 L2074.34 227.34 L2074.21 229.37 L2074.05 231.4 L2073.85 233.42 L2073.61 235.45 L2073.33 237.48 L2073 239.51 L2072.62 241.54 L2072.19 243.56 L2071.7 245.59 L2071.16 247.62 L2070.57 249.65 L2069.96 251.68 L2069.32 253.71 L2068.69 255.74 L2068.1 257.76 L2067.58 259.79 L2067.18 261.82 L2067.01 263.85 L2067.26 265.88 L2067.7 267.9 L2068.24 269.93 L2068.85 271.96 L2069.48 273.99 L2070.11 276.02 L2070.72 278.05 L2071.29 280.07 L2071.82 282.1 L2072.3 284.13 L2072.72 286.16 L2073.09 288.19 L2073.41 290.22 L2073.68 292.25 L2073.9 294.27 L2074.09 296.3 L2074.24 298.33 L2074.37 300.36 L2074.45 302.39 L2074.45 304.42 L2074.45 306.44 L2074.45 308.47 L2074.45 310.5 L2075.15 310.5 L2075.15 308.47 L2075.15 306.44 L2075.15 304.42 L2075.15 302.39 L2075.23 300.36 L2075.36 298.33 L2075.51 296.3 L2075.7 294.27 L2075.92 292.25 L2076.19 290.22 L2076.51 288.19 L2076.88 286.16 L2077.3 284.13 L2077.78 282.1 L2078.31 280.07 L2078.88 278.05 L2079.49 276.02 L2080.12 273.99 L2080.75 271.96 L2081.36 269.93 L2081.9 267.9 L2082.34 265.88 L2082.59 263.85 L2082.42 261.82 L2082.02 259.79 L2081.5 257.76 L2080.91 255.74 L2080.28 253.71 L2079.64 251.68 L2079.03 249.65 L2078.44 247.62 L2077.9 245.59 L2077.41 243.56 L2076.98 241.54 L2076.6 239.51 L2076.27 237.48 L2075.99 235.45 L2075.75 233.42 L2075.55 231.4 L2075.39 229.37 L2075.26 227.34 L2075.16 225.31 L2075.15 223.28 L2075.15 221.25 L2075.15 219.23 L2075.15 217.2 L2075.15 215.17 L2075.15 213.14 L2075.15 211.11 L2075.15 209.08 L2075.15 207.06 L2075.15 205.03 L2075.15 203 L2075.15 200.97 L2075.15 198.94 L2075.15 196.91 L2075.15 194.89 L2075.15 192.86 L2075.15 190.83 L2075.15 188.8Z" fill="#fff" stroke="#1a1a1a" stroke-width="1.85"/>
<path d="M2074.45 225.6 L2074.45 226.92 L2074.45 228.25 L2074.45 229.57 L2074.44 230.89 L2074.39 232.22 L2074.32 233.54 L2074.24 234.86 L2074.16 236.19 L2074.06 237.51 L2073.96 238.83 L2073.84 240.16 L2073.72 241.48 L2073.58 242.8 L2073.43 244.13 L2073.27 245.45 L2073.09 246.77 L2072.91 248.1 L2072.72 249.42 L2072.52 250.74 L2072.32 252.07 L2072.11 253.39 L2071.9 254.71 L2071.7 256.04 L2071.51 257.36 L2071.33 258.68 L2071.16 260.01 L2071.03 261.33 L2070.93 262.65 L2070.91 263.98 L2070.98 265.3 L2071.1 266.62 L2071.25 267.95 L2071.43 269.27 L2071.62 270.59 L2071.82 271.92 L2072.02 273.24 L2072.23 274.56 L2072.43 275.89 L2072.64 277.21 L2072.83 278.53 L2073.02 279.86 L2073.19 281.18 L2073.36 282.5 L2073.52 283.83 L2073.66 285.15 L2073.79 286.47 L2073.91 287.8 L2074.02 289.12 L2074.12 290.44 L2074.21 291.77 L2074.29 293.09 L2074.36 294.41 L2074.42 295.74 L2074.45 297.06 L2074.45 298.38 L2074.45 299.71 L2074.45 301.03 L2074.45 302.35 L2074.45 303.68 L2074.45 305 L2075.15 305 L2075.15 303.68 L2075.15 302.35 L2075.15 301.03 L2075.15 299.71 L2075.15 298.38 L2075.15 297.06 L2075.18 295.74 L2075.24 294.41 L2075.31 293.09 L2075.39 291.77 L2075.48 290.44 L2075.58 289.12 L2075.69 287.8 L2075.81 286.47 L2075.94 285.15 L2076.08 283.83 L2076.24 282.5 L2076.41 281.18 L2076.58 279.86 L2076.77 278.53 L2076.96 277.21 L2077.17 275.89 L2077.37 274.56 L2077.58 273.24 L2077.78 271.92 L2077.98 270.59 L2078.17 269.27 L2078.35 267.95 L2078.5 266.62 L2078.62 265.3 L2078.69 263.98 L2078.67 262.65 L2078.57 261.33 L2078.44 260.01 L2078.27 258.68 L2078.09 257.36 L2077.9 256.04 L2077.7 254.71 L2077.49 253.39 L2077.28 252.07 L2077.08 250.74 L2076.88 249.42 L2076.69 248.1 L2076.51 246.77 L2076.33 245.45 L2076.17 244.13 L2076.02 242.8 L2075.88 241.48 L2075.76 240.16 L2075.64 238.83 L2075.54 237.51 L2075.44 236.19 L2075.36 234.86 L2075.28 233.54 L2075.21 232.22 L2075.16 230.89 L2075.15 229.57 L2075.15 228.25 L2075.15 226.92 L2075.15 225.6Z" fill="none" stroke="#BF2B21" stroke-width="0.9"/>
<line x1="2074.8" y1="225.6" x2="2074.8" y2="305" stroke="#BF2B21" stroke-width="1"/>
<rect x="2070" y="254.5" width="9.6" height="18.2" fill="#fff" stroke="#BF2B21" stroke-width="2"/>
<line x1="2070" y1="263.6" x2="2079.6" y2="263.6" stroke="#BF2B21" stroke-width="4.6"/>
<line x1="2074.8" y1="365.2" x2="2074.8" y2="372.6" stroke="#111" stroke-width="1.5"/>
<text x="2082" y="377" font-size="18.8" text-anchor="end" transform="rotate(-90 2082 377)">Treg</text>
<line x1="2092.9" y1="182.2" x2="2092.9" y2="324.1" stroke="#1a1a1a" stroke-width="1.7"/>
<path d="M2092.55 182.2 L2092.55 184.56 L2092.55 186.93 L2092.55 189.29 L2092.55 191.66 L2092.55 194.03 L2092.55 196.39 L2092.55 198.75 L2092.51 201.12 L2092.45 203.48 L2092.37 205.85 L2092.29 208.22 L2092.19 210.58 L2092.08 212.94 L2091.96 215.31 L2091.82 217.68 L2091.67 220.04 L2091.5 222.41 L2091.32 224.77 L2091.11 227.13 L2090.89 229.5 L2090.66 231.87 L2090.41 234.23 L2090.14 236.59 L2089.86 238.96 L2089.56 241.32 L2089.26 243.69 L2088.95 246.06 L2088.64 248.42 L2088.33 250.79 L2088.03 253.15 L2087.74 255.52 L2087.47 257.88 L2087.24 260.25 L2087.05 262.61 L2086.92 264.98 L2086.92 267.34 L2087.01 269.71 L2087.14 272.07 L2087.3 274.44 L2087.48 276.8 L2087.69 279.17 L2087.9 281.53 L2088.13 283.89 L2088.37 286.26 L2088.61 288.62 L2088.85 290.99 L2089.1 293.36 L2089.33 295.72 L2089.57 298.09 L2089.8 300.45 L2090.02 302.81 L2090.23 305.18 L2090.44 307.55 L2090.63 309.91 L2090.82 312.27 L2090.99 314.64 L2091.16 317 L2091.31 319.37 L2091.46 321.74 L2091.59 324.1 L2094.21 324.1 L2094.34 321.74 L2094.49 319.37 L2094.64 317 L2094.81 314.64 L2094.98 312.27 L2095.17 309.91 L2095.36 307.55 L2095.57 305.18 L2095.78 302.81 L2096 300.45 L2096.23 298.09 L2096.47 295.72 L2096.7 293.36 L2096.95 290.99 L2097.19 288.62 L2097.43 286.26 L2097.67 283.89 L2097.9 281.53 L2098.11 279.17 L2098.32 276.8 L2098.5 274.44 L2098.66 272.07 L2098.79 269.71 L2098.88 267.34 L2098.88 264.98 L2098.75 262.61 L2098.56 260.25 L2098.33 257.88 L2098.06 255.52 L2097.77 253.15 L2097.47 250.79 L2097.16 248.42 L2096.85 246.06 L2096.54 243.69 L2096.24 241.32 L2095.94 238.96 L2095.66 236.59 L2095.39 234.23 L2095.14 231.87 L2094.91 229.5 L2094.69 227.13 L2094.48 224.77 L2094.3 222.41 L2094.13 220.04 L2093.98 217.68 L2093.84 215.31 L2093.72 212.94 L2093.61 210.58 L2093.51 208.22 L2093.43 205.85 L2093.35 203.48 L2093.29 201.12 L2093.25 198.75 L2093.25 196.39 L2093.25 194.03 L2093.25 191.66 L2093.25 189.29 L2093.25 186.93 L2093.25 184.56 L2093.25 182.2Z" fill="#fff" stroke="#1a1a1a" stroke-width="1.85"/>
<path d="M2092.55 197 L2092.55 199.12 L2092.55 201.24 L2092.55 203.35 L2092.55 205.47 L2092.55 207.59 L2092.55 209.71 L2092.52 211.83 L2092.47 213.95 L2092.41 216.06 L2092.34 218.18 L2092.28 220.3 L2092.2 222.42 L2092.12 224.54 L2092.03 226.66 L2091.93 228.78 L2091.83 230.89 L2091.72 233.01 L2091.6 235.13 L2091.48 237.25 L2091.35 239.37 L2091.22 241.49 L2091.09 243.6 L2090.95 245.72 L2090.81 247.84 L2090.67 249.96 L2090.53 252.08 L2090.4 254.2 L2090.27 256.31 L2090.16 258.43 L2090.06 260.55 L2089.97 262.67 L2089.92 264.79 L2089.9 266.91 L2089.94 269.02 L2089.99 271.14 L2090.06 273.26 L2090.13 275.38 L2090.22 277.5 L2090.31 279.62 L2090.41 281.73 L2090.51 283.85 L2090.62 285.97 L2090.73 288.09 L2090.84 290.21 L2090.95 292.33 L2091.05 294.44 L2091.16 296.56 L2091.26 298.68 L2091.37 300.8 L2091.46 302.92 L2091.56 305.04 L2091.65 307.15 L2091.74 309.27 L2091.83 311.39 L2091.91 313.51 L2091.98 315.63 L2092.05 317.75 L2092.12 319.86 L2092.19 321.98 L2092.25 324.1 L2093.55 324.1 L2093.61 321.98 L2093.68 319.86 L2093.75 317.75 L2093.82 315.63 L2093.89 313.51 L2093.97 311.39 L2094.06 309.27 L2094.15 307.15 L2094.24 305.04 L2094.34 302.92 L2094.43 300.8 L2094.54 298.68 L2094.64 296.56 L2094.75 294.44 L2094.85 292.33 L2094.96 290.21 L2095.07 288.09 L2095.18 285.97 L2095.29 283.85 L2095.39 281.73 L2095.49 279.62 L2095.58 277.5 L2095.67 275.38 L2095.74 273.26 L2095.81 271.14 L2095.86 269.02 L2095.9 266.91 L2095.88 264.79 L2095.83 262.67 L2095.74 260.55 L2095.64 258.43 L2095.53 256.31 L2095.4 254.2 L2095.27 252.08 L2095.13 249.96 L2094.99 247.84 L2094.85 245.72 L2094.71 243.6 L2094.58 241.49 L2094.45 239.37 L2094.32 237.25 L2094.2 235.13 L2094.08 233.01 L2093.97 230.89 L2093.87 228.78 L2093.77 226.66 L2093.68 224.54 L2093.6 222.42 L2093.52 220.3 L2093.46 218.18 L2093.39 216.06 L2093.33 213.95 L2093.28 211.83 L2093.25 209.71 L2093.25 207.59 L2093.25 205.47 L2093.25 203.35 L2093.25 201.24 L2093.25 199.12 L2093.25 197Z" fill="none" stroke="#BF2B21" stroke-width="0.9"/>
<line x1="2092.9" y1="197" x2="2092.9" y2="324.1" stroke="#BF2B21" stroke-width="1"/>
<rect x="2088.1" y="249.5" width="9.6" height="38" fill="#fff" stroke="#BF2B21" stroke-width="2"/>
<line x1="2088.1" y1="266.1" x2="2097.7" y2="266.1" stroke="#BF2B21" stroke-width="4.6"/>
<line x1="2092.9" y1="365.2" x2="2092.9" y2="372.6" stroke="#111" stroke-width="1.5"/>
<text x="2100.1" y="377" font-size="18.8" text-anchor="end" transform="rotate(-90 2100.1 377)">CD4 Proliferating</text>
<line x1="2110.6" y1="194.5" x2="2110.6" y2="317.2" stroke="#1a1a1a" stroke-width="1.7"/>
<path d="M2110.25 194.5 L2110.25 196.54 L2110.25 198.59 L2110.25 200.63 L2110.25 202.68 L2110.25 204.72 L2110.25 206.77 L2110.25 208.81 L2110.25 210.86 L2110.25 212.91 L2110.25 214.95 L2110.25 217 L2110.25 219.04 L2110.25 221.09 L2110.25 223.13 L2110.25 225.18 L2110.25 227.22 L2110.24 229.26 L2110.13 231.31 L2109.99 233.35 L2109.82 235.4 L2109.61 237.44 L2109.35 239.49 L2109.05 241.53 L2108.69 243.58 L2108.28 245.62 L2107.81 247.67 L2107.28 249.72 L2106.69 251.76 L2106.06 253.81 L2105.4 255.85 L2104.73 257.89 L2104.08 259.94 L2103.47 261.99 L2102.97 264.03 L2102.64 266.07 L2102.71 268.12 L2103.08 270.16 L2103.59 272.21 L2104.19 274.25 L2104.82 276.3 L2105.47 278.35 L2106.11 280.39 L2106.72 282.44 L2107.28 284.48 L2107.8 286.52 L2108.26 288.57 L2108.66 290.62 L2109.01 292.66 L2109.31 294.7 L2109.56 296.75 L2109.78 298.8 L2109.95 300.84 L2110.09 302.88 L2110.21 304.93 L2110.25 306.97 L2110.25 309.02 L2110.25 311.06 L2110.25 313.11 L2110.25 315.15 L2110.25 317.2 L2110.95 317.2 L2110.95 315.15 L2110.95 313.11 L2110.95 311.06 L2110.95 309.02 L2110.95 306.97 L2110.99 304.93 L2111.11 302.88 L2111.25 300.84 L2111.42 298.8 L2111.64 296.75 L2111.89 294.7 L2112.19 292.66 L2112.54 290.62 L2112.94 288.57 L2113.4 286.52 L2113.92 284.48 L2114.48 282.44 L2115.09 280.39 L2115.73 278.35 L2116.38 276.3 L2117.01 274.25 L2117.61 272.21 L2118.12 270.16 L2118.49 268.12 L2118.56 266.07 L2118.23 264.03 L2117.73 261.99 L2117.12 259.94 L2116.47 257.89 L2115.8 255.85 L2115.14 253.81 L2114.51 251.76 L2113.92 249.72 L2113.39 247.67 L2112.92 245.62 L2112.51 243.58 L2112.15 241.53 L2111.85 239.49 L2111.59 237.44 L2111.38 235.4 L2111.21 233.35 L2111.07 231.31 L2110.96 229.26 L2110.95 227.22 L2110.95 225.18 L2110.95 223.13 L2110.95 221.09 L2110.95 219.04 L2110.95 217 L2110.95 214.95 L2110.95 212.91 L2110.95 210.86 L2110.95 208.81 L2110.95 206.77 L2110.95 204.72 L2110.95 202.68 L2110.95 200.63 L2110.95 198.59 L2110.95 196.54 L2110.95 194.5Z" fill="#fff" stroke="#1a1a1a" stroke-width="1.85"/>
<path d="M2110.25 230.5 L2110.25 231.71 L2110.25 232.92 L2110.25 234.12 L2110.21 235.33 L2110.15 236.54 L2110.09 237.75 L2110.01 238.96 L2109.93 240.17 L2109.84 241.38 L2109.74 242.58 L2109.63 243.79 L2109.51 245 L2109.38 246.21 L2109.23 247.42 L2109.08 248.62 L2108.92 249.83 L2108.75 251.04 L2108.57 252.25 L2108.39 253.46 L2108.19 254.67 L2108 255.88 L2107.8 257.08 L2107.6 258.29 L2107.41 259.5 L2107.22 260.71 L2107.05 261.92 L2106.89 263.12 L2106.76 264.33 L2106.65 265.54 L2106.6 266.75 L2106.64 267.96 L2106.74 269.17 L2106.86 270.38 L2107.01 271.58 L2107.18 272.79 L2107.35 274 L2107.54 275.21 L2107.73 276.42 L2107.92 277.62 L2108.11 278.83 L2108.3 280.04 L2108.48 281.25 L2108.66 282.46 L2108.83 283.67 L2108.99 284.88 L2109.14 286.08 L2109.29 287.29 L2109.42 288.5 L2109.54 289.71 L2109.66 290.92 L2109.76 292.12 L2109.86 293.33 L2109.94 294.54 L2110.02 295.75 L2110.09 296.96 L2110.16 298.17 L2110.21 299.38 L2110.25 300.58 L2110.25 301.79 L2110.25 303 L2110.95 303 L2110.95 301.79 L2110.95 300.58 L2110.99 299.38 L2111.04 298.17 L2111.11 296.96 L2111.18 295.75 L2111.26 294.54 L2111.34 293.33 L2111.44 292.12 L2111.54 290.92 L2111.66 289.71 L2111.78 288.5 L2111.91 287.29 L2112.06 286.08 L2112.21 284.88 L2112.37 283.67 L2112.54 282.46 L2112.72 281.25 L2112.9 280.04 L2113.09 278.83 L2113.28 277.62 L2113.47 276.42 L2113.66 275.21 L2113.85 274 L2114.02 272.79 L2114.19 271.58 L2114.34 270.38 L2114.46 269.17 L2114.56 267.96 L2114.6 266.75 L2114.55 265.54 L2114.44 264.33 L2114.31 263.12 L2114.15 261.92 L2113.98 260.71 L2113.79 259.5 L2113.6 258.29 L2113.4 257.08 L2113.2 255.88 L2113.01 254.67 L2112.81 253.46 L2112.63 252.25 L2112.45 251.04 L2112.28 249.83 L2112.12 248.62 L2111.97 247.42 L2111.82 246.21 L2111.69 245 L2111.57 243.79 L2111.46 242.58 L2111.36 241.38 L2111.27 240.17 L2111.19 238.96 L2111.11 237.75 L2111.05 236.54 L2110.99 235.33 L2110.95 234.12 L2110.95 232.92 L2110.95 231.71 L2110.95 230.5Z" fill="none" stroke="#BF2B21" stroke-width="0.9"/>
<line x1="2110.6" y1="230.5" x2="2110.6" y2="303" stroke="#BF2B21" stroke-width="1"/>
<rect x="2105.8" y="257.9" width="9.6" height="18.1" fill="#fff" stroke="#BF2B21" stroke-width="2"/>
<line x1="2105.8" y1="266.8" x2="2115.4" y2="266.8" stroke="#BF2B21" stroke-width="4.6"/>
<line x1="2110.6" y1="365.2" x2="2110.6" y2="372.6" stroke="#111" stroke-width="1.5"/>
<text x="2117.8" y="377" font-size="18.8" text-anchor="end" transform="rotate(-90 2117.8 377)">CD4 Naive</text>
<line x1="2128.4" y1="223.4" x2="2128.4" y2="313" stroke="#1a1a1a" stroke-width="1.7"/>
<path d="M2128.05 223.4 L2128.05 224.89 L2128.05 226.39 L2128.05 227.88 L2128.05 229.37 L2128.05 230.87 L2128.02 232.36 L2127.97 233.85 L2127.92 235.35 L2127.86 236.84 L2127.79 238.33 L2127.71 239.83 L2127.63 241.32 L2127.54 242.81 L2127.44 244.31 L2127.34 245.8 L2127.22 247.29 L2127.09 248.79 L2126.96 250.28 L2126.81 251.77 L2126.66 253.27 L2126.49 254.76 L2126.31 256.25 L2126.12 257.75 L2125.93 259.24 L2125.72 260.73 L2125.5 262.23 L2125.28 263.72 L2125.05 265.21 L2124.81 266.71 L2124.57 268.2 L2124.32 269.69 L2124.08 271.19 L2123.84 272.68 L2123.6 274.17 L2123.37 275.67 L2123.15 277.16 L2122.95 278.65 L2122.77 280.15 L2122.61 281.64 L2122.49 283.13 L2122.41 284.63 L2122.42 286.12 L2122.48 287.61 L2122.57 289.11 L2122.67 290.6 L2122.8 292.09 L2122.93 293.59 L2123.08 295.08 L2123.24 296.57 L2123.4 298.07 L2123.57 299.56 L2123.75 301.05 L2123.93 302.55 L2124.11 304.04 L2124.29 305.53 L2124.47 307.03 L2124.66 308.52 L2124.83 310.01 L2125.01 311.51 L2125.18 313 L2131.62 313 L2131.79 311.51 L2131.97 310.01 L2132.14 308.52 L2132.33 307.03 L2132.51 305.53 L2132.69 304.04 L2132.87 302.55 L2133.05 301.05 L2133.23 299.56 L2133.4 298.07 L2133.56 296.57 L2133.72 295.08 L2133.87 293.59 L2134 292.09 L2134.13 290.6 L2134.23 289.11 L2134.32 287.61 L2134.38 286.12 L2134.39 284.63 L2134.31 283.13 L2134.19 281.64 L2134.03 280.15 L2133.85 278.65 L2133.65 277.16 L2133.43 275.67 L2133.2 274.17 L2132.96 272.68 L2132.72 271.19 L2132.48 269.69 L2132.23 268.2 L2131.99 266.71 L2131.75 265.21 L2131.52 263.72 L2131.3 262.23 L2131.08 260.73 L2130.87 259.24 L2130.68 257.75 L2130.49 256.25 L2130.31 254.76 L2130.14 253.27 L2129.99 251.77 L2129.84 250.28 L2129.71 248.79 L2129.58 247.29 L2129.46 245.8 L2129.36 244.31 L2129.26 242.81 L2129.17 241.32 L2129.09 239.83 L2129.01 238.33 L2128.94 236.84 L2128.88 235.35 L2128.83 233.85 L2128.78 232.36 L2128.75 230.87 L2128.75 229.37 L2128.75 227.88 L2128.75 226.39 L2128.75 224.89 L2128.75 223.4Z" fill="#fff" stroke="#1a1a1a" stroke-width="1.85"/>
<path d="M2128.05 224 L2128.05 225.43 L2128.05 226.87 L2128.05 228.3 L2128.05 229.73 L2128.05 231.17 L2128.05 232.6 L2128.05 234.03 L2128.05 235.47 L2128.05 236.9 L2128.05 238.33 L2128.05 239.77 L2128.02 241.2 L2127.98 242.63 L2127.93 244.07 L2127.88 245.5 L2127.82 246.93 L2127.77 248.37 L2127.7 249.8 L2127.63 251.23 L2127.56 252.67 L2127.48 254.1 L2127.4 255.53 L2127.31 256.97 L2127.22 258.4 L2127.12 259.83 L2127.02 261.27 L2126.92 262.7 L2126.81 264.13 L2126.7 265.57 L2126.58 267 L2126.47 268.43 L2126.35 269.87 L2126.23 271.3 L2126.11 272.73 L2126 274.17 L2125.89 275.6 L2125.78 277.03 L2125.69 278.47 L2125.6 279.9 L2125.52 281.33 L2125.46 282.77 L2125.41 284.2 L2125.4 285.63 L2125.43 287.07 L2125.46 288.5 L2125.51 289.93 L2125.57 291.37 L2125.63 292.8 L2125.7 294.23 L2125.77 295.67 L2125.85 297.1 L2125.93 298.53 L2126.01 299.97 L2126.1 301.4 L2126.18 302.83 L2126.27 304.27 L2126.36 305.7 L2126.44 307.13 L2126.53 308.57 L2126.62 310 L2130.18 310 L2130.27 308.57 L2130.36 307.13 L2130.44 305.7 L2130.53 304.27 L2130.62 302.83 L2130.7 301.4 L2130.79 299.97 L2130.87 298.53 L2130.95 297.1 L2131.03 295.67 L2131.1 294.23 L2131.17 292.8 L2131.23 291.37 L2131.29 289.93 L2131.34 288.5 L2131.37 287.07 L2131.4 285.63 L2131.39 284.2 L2131.34 282.77 L2131.28 281.33 L2131.2 279.9 L2131.11 278.47 L2131.02 277.03 L2130.91 275.6 L2130.8 274.17 L2130.69 272.73 L2130.57 271.3 L2130.45 269.87 L2130.33 268.43 L2130.22 267 L2130.1 265.57 L2129.99 264.13 L2129.88 262.7 L2129.78 261.27 L2129.68 259.83 L2129.58 258.4 L2129.49 256.97 L2129.4 255.53 L2129.32 254.1 L2129.24 252.67 L2129.17 251.23 L2129.1 249.8 L2129.03 248.37 L2128.98 246.93 L2128.92 245.5 L2128.87 244.07 L2128.82 242.63 L2128.78 241.2 L2128.75 239.77 L2128.75 238.33 L2128.75 236.9 L2128.75 235.47 L2128.75 234.03 L2128.75 232.6 L2128.75 231.17 L2128.75 229.73 L2128.75 228.3 L2128.75 226.87 L2128.75 225.43 L2128.75 224Z" fill="none" stroke="#BF2B21" stroke-width="0.9"/>
<line x1="2128.4" y1="224" x2="2128.4" y2="310" stroke="#BF2B21" stroke-width="1"/>
<rect x="2123.6" y="271.7" width="9.6" height="31.4" fill="#fff" stroke="#BF2B21" stroke-width="2"/>
<line x1="2123.6" y1="285.1" x2="2133.2" y2="285.1" stroke="#BF2B21" stroke-width="4.6"/>
<line x1="2128.4" y1="365.2" x2="2128.4" y2="372.6" stroke="#111" stroke-width="1.5"/>
<text x="2135.6" y="377" font-size="18.8" text-anchor="end" transform="rotate(-90 2135.6 377)">Eryth</text>
<line x1="2145.9" y1="213" x2="2145.9" y2="352.4" stroke="#1a1a1a" stroke-width="1.7"/>
<path d="M2145.55 213 L2145.55 215.32 L2145.55 217.65 L2145.55 219.97 L2145.55 222.29 L2145.51 224.62 L2145.45 226.94 L2145.37 229.26 L2145.28 231.59 L2145.18 233.91 L2145.07 236.23 L2144.94 238.56 L2144.8 240.88 L2144.64 243.2 L2144.46 245.53 L2144.27 247.85 L2144.06 250.17 L2143.83 252.5 L2143.58 254.82 L2143.31 257.14 L2143.03 259.47 L2142.73 261.79 L2142.42 264.11 L2142.1 266.44 L2141.77 268.76 L2141.44 271.08 L2141.11 273.41 L2140.78 275.73 L2140.48 278.05 L2140.2 280.38 L2139.95 282.7 L2139.75 285.02 L2139.62 287.35 L2139.64 289.67 L2139.77 291.99 L2139.97 294.32 L2140.21 296.64 L2140.48 298.96 L2140.78 301.29 L2141.09 303.61 L2141.4 305.93 L2141.72 308.26 L2142.04 310.58 L2142.36 312.9 L2142.66 315.23 L2142.95 317.55 L2143.23 319.87 L2143.49 322.2 L2143.73 324.52 L2143.96 326.84 L2144.17 329.17 L2144.37 331.49 L2144.55 333.81 L2144.71 336.14 L2144.86 338.46 L2144.99 340.78 L2145.11 343.11 L2145.21 345.43 L2145.3 347.75 L2145.39 350.08 L2145.46 352.4 L2146.34 352.4 L2146.41 350.08 L2146.5 347.75 L2146.59 345.43 L2146.69 343.11 L2146.81 340.78 L2146.94 338.46 L2147.09 336.14 L2147.25 333.81 L2147.43 331.49 L2147.63 329.17 L2147.84 326.84 L2148.07 324.52 L2148.31 322.2 L2148.57 319.87 L2148.85 317.55 L2149.14 315.23 L2149.44 312.9 L2149.76 310.58 L2150.08 308.26 L2150.4 305.93 L2150.71 303.61 L2151.02 301.29 L2151.32 298.96 L2151.59 296.64 L2151.83 294.32 L2152.03 291.99 L2152.16 289.67 L2152.18 287.35 L2152.05 285.02 L2151.85 282.7 L2151.6 280.38 L2151.32 278.05 L2151.02 275.73 L2150.69 273.41 L2150.36 271.08 L2150.03 268.76 L2149.7 266.44 L2149.38 264.11 L2149.07 261.79 L2148.77 259.47 L2148.49 257.14 L2148.22 254.82 L2147.97 252.5 L2147.74 250.17 L2147.53 247.85 L2147.34 245.53 L2147.16 243.2 L2147 240.88 L2146.86 238.56 L2146.73 236.23 L2146.62 233.91 L2146.52 231.59 L2146.43 229.26 L2146.35 226.94 L2146.29 224.62 L2146.25 222.29 L2146.25 219.97 L2146.25 217.65 L2146.25 215.32 L2146.25 213Z" fill="#fff" stroke="#1a1a1a" stroke-width="1.85"/>
<path d="M2145.55 227 L2145.55 229.09 L2145.55 231.18 L2145.55 233.27 L2145.51 235.36 L2145.45 237.45 L2145.39 239.54 L2145.32 241.63 L2145.25 243.72 L2145.17 245.81 L2145.08 247.9 L2144.99 249.99 L2144.88 252.08 L2144.77 254.17 L2144.66 256.26 L2144.53 258.35 L2144.4 260.44 L2144.27 262.53 L2144.12 264.62 L2143.98 266.71 L2143.83 268.8 L2143.68 270.89 L2143.53 272.98 L2143.39 275.07 L2143.25 277.16 L2143.11 279.25 L2142.99 281.34 L2142.89 283.43 L2142.81 285.52 L2142.76 287.61 L2142.77 289.7 L2142.83 291.79 L2142.91 293.88 L2143.02 295.97 L2143.14 298.06 L2143.27 300.15 L2143.4 302.24 L2143.54 304.33 L2143.69 306.42 L2143.83 308.51 L2143.97 310.6 L2144.11 312.69 L2144.25 314.78 L2144.38 316.87 L2144.51 318.96 L2144.63 321.05 L2144.74 323.14 L2144.85 325.23 L2144.95 327.32 L2145.05 329.41 L2145.14 331.5 L2145.22 333.59 L2145.29 335.68 L2145.36 337.77 L2145.42 339.86 L2145.47 341.95 L2145.52 344.04 L2145.55 346.13 L2145.55 348.22 L2145.55 350.31 L2145.55 352.4 L2146.25 352.4 L2146.25 350.31 L2146.25 348.22 L2146.25 346.13 L2146.28 344.04 L2146.33 341.95 L2146.38 339.86 L2146.44 337.77 L2146.51 335.68 L2146.58 333.59 L2146.66 331.5 L2146.75 329.41 L2146.85 327.32 L2146.95 325.23 L2147.06 323.14 L2147.17 321.05 L2147.29 318.96 L2147.42 316.87 L2147.55 314.78 L2147.69 312.69 L2147.83 310.6 L2147.97 308.51 L2148.11 306.42 L2148.26 304.33 L2148.4 302.24 L2148.53 300.15 L2148.66 298.06 L2148.78 295.97 L2148.89 293.88 L2148.97 291.79 L2149.03 289.7 L2149.04 287.61 L2148.99 285.52 L2148.91 283.43 L2148.81 281.34 L2148.69 279.25 L2148.55 277.16 L2148.41 275.07 L2148.27 272.98 L2148.12 270.89 L2147.97 268.8 L2147.82 266.71 L2147.68 264.62 L2147.53 262.53 L2147.4 260.44 L2147.27 258.35 L2147.14 256.26 L2147.03 254.17 L2146.92 252.08 L2146.81 249.99 L2146.72 247.9 L2146.63 245.81 L2146.55 243.72 L2146.48 241.63 L2146.41 239.54 L2146.35 237.45 L2146.29 235.36 L2146.25 233.27 L2146.25 231.18 L2146.25 229.09 L2146.25 227Z" fill="none" stroke="#BF2B21" stroke-width="0.9"/>
<line x1="2145.9" y1="227" x2="2145.9" y2="352.4" stroke="#BF2B21" stroke-width="1"/>
<rect x="2141.1" y="272.2" width="9.6" height="32.8" fill="#fff" stroke="#BF2B21" stroke-width="2"/>
<line x1="2141.1" y1="288.3" x2="2150.7" y2="288.3" stroke="#BF2B21" stroke-width="4.6"/>
<line x1="2145.9" y1="365.2" x2="2145.9" y2="372.6" stroke="#111" stroke-width="1.5"/>
<text x="2153.1" y="377" font-size="18.8" text-anchor="end" transform="rotate(-90 2153.1 377)">HSPC</text>
<text x="1783.5" y="559.5" font-size="26.25">Annotated cell type</text>
<text transform="translate(1.5 599.1) scale(1.15 1)" font-size="41" font-weight="bold" style="stroke-width:2px;stroke-linejoin:round" x="1" y="0">d</text>
<text x="156.3" y="629.4" font-size="29.9" font-weight="bold" style="stroke-width:0.7px">GO Biological processes</text>
<path d="M136.6 651.3 V1226.4 H1033.2" fill="none" stroke="#111" stroke-width="2"/>
<line x1="128.7" y1="670" x2="136.6" y2="670" stroke="#111" stroke-width="1.5"/>
<text x="122.8" y="678" font-size="22.5" text-anchor="end">200</text>
<line x1="128.7" y1="803.7" x2="136.6" y2="803.7" stroke="#111" stroke-width="1.5"/>
<text x="122.8" y="811.7" font-size="22.5" text-anchor="end">150</text>
<line x1="128.7" y1="937.3" x2="136.6" y2="937.3" stroke="#111" stroke-width="1.5"/>
<text x="122.8" y="945.3" font-size="22.5" text-anchor="end">100</text>
<line x1="128.7" y1="1071.1" x2="136.6" y2="1071.1" stroke="#111" stroke-width="1.5"/>
<text x="122.8" y="1079.1" font-size="22.5" text-anchor="end">50</text>
<line x1="128.7" y1="1205" x2="136.6" y2="1205" stroke="#111" stroke-width="1.5"/>
<text x="122.8" y="1213" font-size="22.5" text-anchor="end">0</text>
<line x1="439.3" y1="1226.4" x2="439.3" y2="1233.7" stroke="#111" stroke-width="1.5"/>
<text x="439.3" y="1256" font-size="22.5" text-anchor="middle">10</text>
<line x1="754.1" y1="1226.4" x2="754.1" y2="1233.7" stroke="#111" stroke-width="1.5"/>
<text x="754.1" y="1256" font-size="22.5" text-anchor="middle">20</text>
<text x="480" y="1290.2" font-size="30">Fold Enrichment</text>
<text transform="translate(55.1 928.3) rotate(-90)" font-size="29.7" text-anchor="middle">−log<tspan font-size="17.4" dy="10">10</tspan><tspan dy="-10">(</tspan><tspan font-style="italic">q</tspan> value)</text>
<circle cx="176.5" cy="1199.17" r="4.7" fill="#0d0d0d"/>
<circle cx="176.8" cy="1196.94" r="4.7" fill="#0d0d0d"/>
<circle cx="179.86" cy="1199.19" r="4.7" fill="#0d0d0d"/>
<circle cx="179.88" cy="1196.94" r="4.7" fill="#0d0d0d"/>
<circle cx="183.05" cy="1196.41" r="4.7" fill="#0d0d0d"/>
<circle cx="182.89" cy="1193.29" r="4.7" fill="#0d0d0d"/>
<circle cx="185.67" cy="1196.72" r="4.7" fill="#0d0d0d"/>
<circle cx="189.77" cy="1197.48" r="4.7" fill="#0d0d0d"/>
<circle cx="190.73" cy="1194.7" r="4.7" fill="#0d0d0d"/>
<circle cx="193.72" cy="1196.71" r="4.7" fill="#0d0d0d"/>
<circle cx="192.95" cy="1194.09" r="4.7" fill="#0d0d0d"/>
<circle cx="197.59" cy="1196.36" r="4.7" fill="#0d0d0d"/>
<circle cx="201.14" cy="1198.74" r="4.7" fill="#0d0d0d"/>
<circle cx="203.65" cy="1197.93" r="4.7" fill="#0d0d0d"/>
<circle cx="204.01" cy="1195.64" r="4.7" fill="#0d0d0d"/>
<circle cx="206.62" cy="1199.13" r="4.7" fill="#0d0d0d"/>
<circle cx="209.56" cy="1199.57" r="4.7" fill="#0d0d0d"/>
<circle cx="212.4" cy="1198.98" r="4.7" fill="#0d0d0d"/>
<circle cx="216.37" cy="1199.26" r="4.7" fill="#0d0d0d"/>
<circle cx="217.33" cy="1195.98" r="4.7" fill="#0d0d0d"/>
<circle cx="219.52" cy="1199.26" r="4.7" fill="#0d0d0d"/>
<circle cx="219.5" cy="1196.06" r="4.7" fill="#0d0d0d"/>
<circle cx="223.13" cy="1199.2" r="4.7" fill="#0d0d0d"/>
<circle cx="227.1" cy="1198.03" r="4.7" fill="#0d0d0d"/>
<circle cx="230.57" cy="1198.59" r="4.7" fill="#0d0d0d"/>
<circle cx="234.48" cy="1199.38" r="4.7" fill="#0d0d0d"/>
<circle cx="238.08" cy="1197.18" r="4.7" fill="#0d0d0d"/>
<circle cx="241.64" cy="1199.34" r="4.7" fill="#0d0d0d"/>
<circle cx="244.56" cy="1197.82" r="4.7" fill="#0d0d0d"/>
<circle cx="247" cy="1197.95" r="4.7" fill="#0d0d0d"/>
<circle cx="246.23" cy="1195.42" r="4.7" fill="#0d0d0d"/>
<circle cx="250.78" cy="1197.07" r="4.7" fill="#0d0d0d"/>
<circle cx="250.56" cy="1193.71" r="4.7" fill="#0d0d0d"/>
<circle cx="253.33" cy="1197.78" r="4.7" fill="#0d0d0d"/>
<circle cx="257.32" cy="1198.58" r="4.7" fill="#0d0d0d"/>
<circle cx="260.22" cy="1197.54" r="4.7" fill="#0d0d0d"/>
<circle cx="260.98" cy="1193.33" r="4.7" fill="#0d0d0d"/>
<circle cx="262.89" cy="1196.91" r="4.7" fill="#0d0d0d"/>
<circle cx="262.35" cy="1194.22" r="4.7" fill="#0d0d0d"/>
<circle cx="266.35" cy="1197.04" r="4.7" fill="#0d0d0d"/>
<circle cx="266.19" cy="1194.37" r="4.7" fill="#0d0d0d"/>
<circle cx="269.77" cy="1198.62" r="4.7" fill="#0d0d0d"/>
<circle cx="273.1" cy="1197.75" r="4.7" fill="#0d0d0d"/>
<circle cx="275.59" cy="1198.37" r="4.7" fill="#0d0d0d"/>
<circle cx="279.57" cy="1198.04" r="4.7" fill="#0d0d0d"/>
<circle cx="279.36" cy="1194.61" r="4.7" fill="#0d0d0d"/>
<circle cx="283.11" cy="1196.19" r="4.7" fill="#0d0d0d"/>
<circle cx="282.53" cy="1194.42" r="4.7" fill="#0d0d0d"/>
<circle cx="286.12" cy="1196.1" r="4.7" fill="#0d0d0d"/>
<circle cx="285.42" cy="1194.47" r="4.7" fill="#0d0d0d"/>
<circle cx="289.18" cy="1195.97" r="4.7" fill="#0d0d0d"/>
<circle cx="292.68" cy="1196.19" r="4.7" fill="#0d0d0d"/>
<circle cx="292.38" cy="1193.8" r="4.7" fill="#0d0d0d"/>
<circle cx="295.3" cy="1197.81" r="4.7" fill="#0d0d0d"/>
<circle cx="298.54" cy="1196.87" r="4.7" fill="#0d0d0d"/>
<circle cx="297.74" cy="1193.72" r="4.7" fill="#0d0d0d"/>
<circle cx="301.42" cy="1197.63" r="4.7" fill="#0d0d0d"/>
<circle cx="300.46" cy="1192.44" r="4.7" fill="#0d0d0d"/>
<circle cx="304.77" cy="1195.92" r="4.7" fill="#0d0d0d"/>
<circle cx="307.22" cy="1196.78" r="4.7" fill="#0d0d0d"/>
<circle cx="311.17" cy="1197.1" r="4.7" fill="#0d0d0d"/>
<circle cx="310.9" cy="1193.79" r="4.7" fill="#0d0d0d"/>
<circle cx="314.96" cy="1196.62" r="4.7" fill="#0d0d0d"/>
<circle cx="317.95" cy="1195.81" r="4.7" fill="#0d0d0d"/>
<circle cx="322.13" cy="1197.23" r="4.7" fill="#0d0d0d"/>
<circle cx="326" cy="1196.88" r="4.7" fill="#0d0d0d"/>
<circle cx="326.03" cy="1193.09" r="4.7" fill="#0d0d0d"/>
<circle cx="328.45" cy="1195.11" r="4.7" fill="#0d0d0d"/>
<circle cx="327.97" cy="1192.36" r="4.7" fill="#0d0d0d"/>
<circle cx="332.57" cy="1196.03" r="4.7" fill="#0d0d0d"/>
<circle cx="336.75" cy="1197.16" r="4.7" fill="#0d0d0d"/>
<circle cx="336.19" cy="1193.11" r="4.7" fill="#0d0d0d"/>
<circle cx="339.51" cy="1195.29" r="4.7" fill="#0d0d0d"/>
<circle cx="343.53" cy="1196.73" r="4.7" fill="#0d0d0d"/>
<circle cx="347.1" cy="1196.55" r="4.7" fill="#0d0d0d"/>
<circle cx="347.42" cy="1191.52" r="4.7" fill="#0d0d0d"/>
<circle cx="350.91" cy="1196.35" r="4.7" fill="#0d0d0d"/>
<circle cx="353.63" cy="1196.39" r="4.7" fill="#0d0d0d"/>
<circle cx="354.23" cy="1191.25" r="4.7" fill="#0d0d0d"/>
<circle cx="356.74" cy="1195.39" r="4.7" fill="#0d0d0d"/>
<circle cx="360.45" cy="1194.75" r="4.7" fill="#0d0d0d"/>
<circle cx="359.75" cy="1191.23" r="4.7" fill="#0d0d0d"/>
<circle cx="364.3" cy="1194.61" r="4.7" fill="#0d0d0d"/>
<circle cx="368.46" cy="1195.74" r="4.7" fill="#0d0d0d"/>
<circle cx="368.56" cy="1192.6" r="4.7" fill="#0d0d0d"/>
<circle cx="370.89" cy="1196.44" r="4.7" fill="#0d0d0d"/>
<circle cx="374.24" cy="1196.28" r="4.7" fill="#0d0d0d"/>
<circle cx="378.21" cy="1195.93" r="4.7" fill="#0d0d0d"/>
<circle cx="377.71" cy="1192.07" r="4.7" fill="#0d0d0d"/>
<circle cx="381.04" cy="1195.3" r="4.7" fill="#0d0d0d"/>
<circle cx="380.88" cy="1192.33" r="4.7" fill="#0d0d0d"/>
<circle cx="385.08" cy="1194.65" r="4.7" fill="#0d0d0d"/>
<circle cx="388.53" cy="1195.89" r="4.7" fill="#0d0d0d"/>
<circle cx="392.58" cy="1194.84" r="4.7" fill="#0d0d0d"/>
<circle cx="395.92" cy="1193.61" r="4.7" fill="#0d0d0d"/>
<circle cx="398.65" cy="1193.51" r="4.7" fill="#0d0d0d"/>
<circle cx="401.36" cy="1194.58" r="4.7" fill="#0d0d0d"/>
<circle cx="404.76" cy="1194.15" r="4.7" fill="#0d0d0d"/>
<circle cx="408.16" cy="1195.17" r="4.7" fill="#0d0d0d"/>
<circle cx="408.28" cy="1191.5" r="4.7" fill="#0d0d0d"/>
<circle cx="190.4" cy="1192.5" r="4.7" fill="#0d0d0d"/>
<circle cx="194" cy="1191.8" r="4.7" fill="#0d0d0d"/>
<circle cx="229.6" cy="1191.8" r="4.7" fill="#0d0d0d"/>
<circle cx="186" cy="1193" r="4.7" fill="#0d0d0d"/>
<circle cx="200" cy="1193" r="4.7" fill="#0d0d0d"/>
<circle cx="214" cy="1193.5" r="4.7" fill="#0d0d0d"/>
<circle cx="240" cy="1193.5" r="4.7" fill="#0d0d0d"/>
<circle cx="248" cy="1192.5" r="4.7" fill="#0d0d0d"/>
<circle cx="208" cy="1191" r="4.7" fill="#0d0d0d"/>
<circle cx="255" cy="1191.5" r="4.7" fill="#0d0d0d"/>
<circle cx="262" cy="1192" r="4.7" fill="#0d0d0d"/>
<circle cx="834.6" cy="677.5" r="4.7" fill="#0d0d0d"/>
<circle cx="948.1" cy="870" r="4.7" fill="#0d0d0d"/>
<circle cx="416.8" cy="987.8" r="4.7" fill="#0d0d0d"/>
<circle cx="394.3" cy="999.8" r="4.7" fill="#0d0d0d"/>
<circle cx="368.3" cy="1014.8" r="4.7" fill="#0d0d0d"/>
<circle cx="503.6" cy="1019.5" r="4.7" fill="#0d0d0d"/>
<circle cx="446.2" cy="1036.6" r="4.7" fill="#0d0d0d"/>
<circle cx="344.6" cy="1053.9" r="4.7" fill="#0d0d0d"/>
<circle cx="379.2" cy="1062.7" r="4.7" fill="#0d0d0d"/>
<circle cx="320" cy="1089" r="4.7" fill="#0d0d0d"/>
<circle cx="625.6" cy="999" r="4.7" fill="#0d0d0d"/>
<circle cx="649.9" cy="993" r="4.7" fill="#0d0d0d"/>
<circle cx="666.3" cy="991.7" r="4.7" fill="#0d0d0d"/>
<circle cx="700" cy="983.7" r="4.7" fill="#0d0d0d"/>
<circle cx="992.3" cy="1100.3" r="4.7" fill="#0d0d0d"/>
<circle cx="637.2" cy="1151.8" r="4.7" fill="#0d0d0d"/>
<circle cx="948.8" cy="1149.9" r="4.7" fill="#0d0d0d"/>
<circle cx="990.2" cy="1155.2" r="4.7" fill="#0d0d0d"/>
<circle cx="495.6" cy="1175.8" r="4.7" fill="#0d0d0d"/>
<circle cx="530.7" cy="1174.2" r="4.7" fill="#0d0d0d"/>
<circle cx="681" cy="1172.3" r="4.7" fill="#0d0d0d"/>
<circle cx="470" cy="1189.5" r="4.7" fill="#0d0d0d"/>
<circle cx="485.3" cy="1190" r="4.7" fill="#0d0d0d"/>
<circle cx="506.4" cy="1189" r="4.7" fill="#0d0d0d"/>
<circle cx="515.4" cy="1186.9" r="4.7" fill="#0d0d0d"/>
<circle cx="522.2" cy="1191.3" r="4.7" fill="#0d0d0d"/>
<circle cx="530.1" cy="1188.7" r="4.7" fill="#0d0d0d"/>
<circle cx="537.3" cy="1186.3" r="4.7" fill="#0d0d0d"/>
<circle cx="552.6" cy="1190.3" r="4.7" fill="#0d0d0d"/>
<circle cx="557" cy="1188.2" r="4.7" fill="#0d0d0d"/>
<circle cx="561.8" cy="1186.1" r="4.7" fill="#0d0d0d"/>
<circle cx="588.7" cy="1185.5" r="4.7" fill="#0d0d0d"/>
<circle cx="588.7" cy="1189.5" r="4.7" fill="#0d0d0d"/>
<circle cx="619" cy="1184.2" r="4.7" fill="#0d0d0d"/>
<circle cx="624.3" cy="1186.9" r="4.7" fill="#0d0d0d"/>
<circle cx="630.4" cy="1189" r="4.7" fill="#0d0d0d"/>
<circle cx="646.2" cy="1181.6" r="4.7" fill="#0d0d0d"/>
<circle cx="654.6" cy="1184.2" r="4.7" fill="#0d0d0d"/>
<circle cx="665.2" cy="1186.1" r="4.7" fill="#0d0d0d"/>
<circle cx="681" cy="1188.2" r="4.7" fill="#0d0d0d"/>
<circle cx="695.5" cy="1182.9" r="4.7" fill="#0d0d0d"/>
<circle cx="714.8" cy="1185" r="4.7" fill="#0d0d0d"/>
<circle cx="743" cy="1182.1" r="4.7" fill="#0d0d0d"/>
<circle cx="773.9" cy="1184.2" r="4.7" fill="#0d0d0d"/>
<circle cx="798.9" cy="1181" r="4.7" fill="#0d0d0d"/>
<circle cx="866.5" cy="1179.5" r="4.7" fill="#0d0d0d"/>
<circle cx="368.8" cy="1118.5" r="4.7" fill="#0d0d0d"/>
<circle cx="367.8" cy="1128.4" r="4.7" fill="#0d0d0d"/>
<circle cx="326.9" cy="1130.6" r="4.7" fill="#0d0d0d"/>
<circle cx="307.6" cy="1135.8" r="4.7" fill="#0d0d0d"/>
<circle cx="335.2" cy="1138.2" r="4.7" fill="#0d0d0d"/>
<circle cx="340.4" cy="1140.7" r="4.7" fill="#0d0d0d"/>
<circle cx="258.9" cy="1152.9" r="4.7" fill="#0d0d0d"/>
<circle cx="266.9" cy="1152.6" r="4.7" fill="#0d0d0d"/>
<circle cx="327.3" cy="1154.8" r="4.7" fill="#0d0d0d"/>
<circle cx="379.2" cy="1151.1" r="4.7" fill="#0d0d0d"/>
<circle cx="462.1" cy="1150.6" r="4.7" fill="#0d0d0d"/>
<circle cx="462.8" cy="1160" r="4.7" fill="#0d0d0d"/>
<circle cx="460.6" cy="1164.4" r="4.7" fill="#0d0d0d"/>
<circle cx="271.1" cy="1165.4" r="4.7" fill="#0d0d0d"/>
<circle cx="277.7" cy="1164.9" r="4.7" fill="#0d0d0d"/>
<circle cx="305.1" cy="1163.7" r="4.7" fill="#0d0d0d"/>
<circle cx="303.6" cy="1168.8" r="4.7" fill="#0d0d0d"/>
<circle cx="307.8" cy="1171.1" r="4.7" fill="#0d0d0d"/>
<circle cx="244.7" cy="1171.1" r="4.7" fill="#0d0d0d"/>
<circle cx="263.7" cy="1176" r="4.7" fill="#0d0d0d"/>
<circle cx="276.2" cy="1178.9" r="4.7" fill="#0d0d0d"/>
<circle cx="378" cy="1176.3" r="4.7" fill="#0d0d0d"/>
<circle cx="364.4" cy="1180.3" r="4.7" fill="#0d0d0d"/>
<circle cx="440.3" cy="1173.3" r="4.7" fill="#0d0d0d"/>
<circle cx="415.4" cy="1176.3" r="4.7" fill="#0d0d0d"/>
<circle cx="420.6" cy="1178.2" r="4.7" fill="#0d0d0d"/>
<circle cx="411.7" cy="1182.2" r="4.7" fill="#0d0d0d"/>
<circle cx="216.7" cy="1186.6" r="4.7" fill="#0d0d0d"/>
<circle cx="259.2" cy="1186.9" r="4.7" fill="#0d0d0d"/>
<circle cx="294.8" cy="1186.6" r="4.7" fill="#0d0d0d"/>
<circle cx="336.2" cy="1185.9" r="4.7" fill="#0d0d0d"/>
<circle cx="421.7" cy="1189.6" r="4.7" fill="#0d0d0d"/>
<circle cx="434" cy="1191.1" r="4.7" fill="#0d0d0d"/>
<circle cx="434" cy="1196.2" r="4.7" fill="#0d0d0d"/>
<circle cx="447.3" cy="1188.8" r="4.7" fill="#0d0d0d"/>
<circle cx="452.5" cy="1192.5" r="4.7" fill="#0d0d0d"/>
<circle cx="466.5" cy="1190" r="4.7" fill="#0d0d0d"/>
<circle cx="275.5" cy="1188" r="4.7" fill="#0d0d0d"/>
<circle cx="281" cy="1187.5" r="4.7" fill="#0d0d0d"/>
<circle cx="287" cy="1188" r="4.7" fill="#0d0d0d"/>
<circle cx="290" cy="1191" r="4.7" fill="#0d0d0d"/>
<circle cx="298" cy="1190" r="4.7" fill="#0d0d0d"/>
<circle cx="283" cy="1191" r="4.7" fill="#0d0d0d"/>
<circle cx="349" cy="1191.5" r="4.7" fill="#0d0d0d"/>
<circle cx="353" cy="1189.5" r="4.7" fill="#0d0d0d"/>
<circle cx="357" cy="1190.5" r="4.7" fill="#0d0d0d"/>
<circle cx="392" cy="1191" r="4.7" fill="#0d0d0d"/>
<circle cx="398" cy="1192" r="4.7" fill="#0d0d0d"/>
<circle cx="404" cy="1190.5" r="4.7" fill="#0d0d0d"/>
<circle cx="400" cy="1196" r="4.7" fill="#0d0d0d"/>
<text x="637.2" y="661.25" font-size="22.5">antigen processing</text>
<text x="637.2" y="687.9" font-size="22.5">and presentation</text>
<text x="637.2" y="715" font-size="22.5">of peptide antigen</text>
<text x="665.6" y="858.75" font-size="22.5">peptide antigen assembly</text>
<text x="665.6" y="885.8" font-size="22.5">with MHC protein complex</text>
<text transform="translate(1054.8 599.1) scale(1.15 1)" font-size="41" font-weight="bold" style="stroke-width:2px;stroke-linejoin:round" x="1" y="0">e</text>
<text x="1203.4" y="629.4" font-size="30.2" font-weight="bold" style="stroke-width:0.7px">KEGG</text>
<path d="M1182.8 646.9 V1221.7 H2091.3" fill="none" stroke="#111" stroke-width="2"/>
<line x1="1175" y1="668.75" x2="1182.8" y2="668.75" stroke="#111" stroke-width="1.5"/>
<text x="1168.4" y="676.75" font-size="22.5" text-anchor="end">25</text>
<line x1="1175" y1="781.9" x2="1182.8" y2="781.9" stroke="#111" stroke-width="1.5"/>
<text x="1168.4" y="789.9" font-size="22.5" text-anchor="end">20</text>
<line x1="1175" y1="895" x2="1182.8" y2="895" stroke="#111" stroke-width="1.5"/>
<text x="1168.4" y="903" font-size="22.5" text-anchor="end">15</text>
<line x1="1175" y1="1008" x2="1182.8" y2="1008" stroke="#111" stroke-width="1.5"/>
<text x="1168.4" y="1016" font-size="22.5" text-anchor="end">10</text>
<line x1="1175" y1="1120.8" x2="1182.8" y2="1120.8" stroke="#111" stroke-width="1.5"/>
<text x="1168.4" y="1128.8" font-size="22.5" text-anchor="end">5</text>
<line x1="1346" y1="1221.7" x2="1346" y2="1229" stroke="#111" stroke-width="1.5"/>
<text x="1346" y="1251.7" font-size="22.5" text-anchor="middle">10</text>
<line x1="1509.4" y1="1221.7" x2="1509.4" y2="1229" stroke="#111" stroke-width="1.5"/>
<text x="1509.4" y="1251.7" font-size="22.5" text-anchor="middle">20</text>
<line x1="1673.6" y1="1221.7" x2="1673.6" y2="1229" stroke="#111" stroke-width="1.5"/>
<text x="1673.6" y="1251.7" font-size="22.5" text-anchor="middle">30</text>
<line x1="1837.1" y1="1221.7" x2="1837.1" y2="1229" stroke="#111" stroke-width="1.5"/>
<text x="1837.1" y="1251.7" font-size="22.5" text-anchor="middle">40</text>
<line x1="2000.6" y1="1221.7" x2="2000.6" y2="1229" stroke="#111" stroke-width="1.5"/>
<text x="2000.6" y="1251.7" font-size="22.5" text-anchor="middle">50</text>
<text x="1532" y="1285.1" font-size="30">Fold Enrichment</text>
<text transform="translate(1113.5 928.2) rotate(-90)" font-size="29.7" text-anchor="middle">−log<tspan font-size="17.4" dy="10">10</tspan><tspan dy="-10">(</tspan><tspan font-style="italic">q</tspan> value)</text>
<line x1="1384.4" y1="798.1" x2="1396.25" y2="814.7" stroke="#111" stroke-width="1.8"/>
<line x1="1470.3" y1="947.5" x2="1520.3" y2="941.25" stroke="#111" stroke-width="1.8"/>
<circle cx="1725.4" cy="672.5" r="4.7" fill="#0d0d0d"/>
<circle cx="1969.6" cy="675.4" r="4.7" fill="#0d0d0d"/>
<circle cx="2050.2" cy="683.7" r="4.7" fill="#0d0d0d"/>
<circle cx="1983.3" cy="698.3" r="4.7" fill="#0d0d0d"/>
<circle cx="1830.7" cy="708.9" r="4.7" fill="#0d0d0d"/>
<circle cx="1675.8" cy="762.6" r="4.7" fill="#0d0d0d"/>
<circle cx="1879.2" cy="907.5" r="4.7" fill="#0d0d0d"/>
<circle cx="1406.9" cy="828.75" r="4.7" fill="#0d0d0d"/>
<circle cx="1427.5" cy="850.6" r="4.7" fill="#0d0d0d"/>
<circle cx="1405.6" cy="886.9" r="4.7" fill="#0d0d0d"/>
<circle cx="1347.8" cy="923.6" r="4.7" fill="#0d0d0d"/>
<circle cx="1461.4" cy="950.4" r="4.7" fill="#0d0d0d"/>
<circle cx="1468.5" cy="947.7" r="4.7" fill="#0d0d0d"/>
<circle cx="1622" cy="961.6" r="4.7" fill="#0d0d0d"/>
<circle cx="1497.9" cy="999.1" r="4.7" fill="#0d0d0d"/>
<circle cx="1455.4" cy="1014.9" r="4.7" fill="#0d0d0d"/>
<circle cx="1382.8" cy="1029.8" r="4.7" fill="#0d0d0d"/>
<circle cx="1404.3" cy="1036.4" r="4.7" fill="#0d0d0d"/>
<circle cx="1390.6" cy="1043" r="4.7" fill="#0d0d0d"/>
<circle cx="1346.8" cy="1051.3" r="4.7" fill="#0d0d0d"/>
<circle cx="1371" cy="1052.1" r="4.7" fill="#0d0d0d"/>
<circle cx="1300.7" cy="1100.7" r="4.7" fill="#0d0d0d"/>
<circle cx="1296.2" cy="1102.8" r="4.7" fill="#0d0d0d"/>
<circle cx="1313.2" cy="1115.9" r="4.7" fill="#0d0d0d"/>
<circle cx="1263.9" cy="1143.4" r="4.7" fill="#0d0d0d"/>
<circle cx="1260" cy="1156.3" r="4.7" fill="#0d0d0d"/>
<circle cx="1257.4" cy="1167.5" r="4.7" fill="#0d0d0d"/>
<circle cx="1254.2" cy="1169.6" r="4.7" fill="#0d0d0d"/>
<circle cx="1252.1" cy="1187.2" r="4.7" fill="#0d0d0d"/>
<circle cx="1231.9" cy="1186.7" r="4.7" fill="#0d0d0d"/>
<circle cx="1233.8" cy="1195.9" r="4.7" fill="#0d0d0d"/>
<circle cx="1223.3" cy="1193.8" r="4.7" fill="#0d0d0d"/>
<circle cx="1374.4" cy="879.4" r="4.7" fill="#C0282D"/>
<text x="1539" y="657.3" font-size="22.5">Antigen processing</text>
<text x="1539" y="683.7" font-size="22.5">and presentation</text>
<text x="1858.6" y="657.3" font-size="22.5">Type I diabetes</text>
<text x="1858.6" y="683.7" font-size="22.5">mellitus</text>
<text x="1948" y="727.6" font-size="22.5">GVHD</text>
<text x="2031.3" y="717.5" font-size="22.5">Allograft</text>
<text x="2031.3" y="743.4" font-size="22.5">rejection</text>
<text x="1779.4" y="733.3" font-size="22.5">Autoimmune</text>
<text x="1779.4" y="760" font-size="22.5">thyroid disease</text>
<text x="1612" y="766.3" font-size="22.5">Viral</text>
<text x="1612" y="792.1" font-size="22.5">myocarditis</text>
<text x="1894.3" y="917" font-size="22.5">Asthma</text>
<text x="1527.1" y="944.2" font-size="22.5">Rheumatoid arthritis</text>
<text x="1290.5" y="759.4" font-size="22.5">Herpes simplex</text>
<text x="1290.5" y="786.6" font-size="22.5">virus 1 infection</text>
<text x="1220" y="867.8" font-size="22.5" style="fill:#C0282D;stroke:#C0282D">Epstein−Barr</text>
<text x="1220" y="893.75" font-size="22.5" style="fill:#C0282D;stroke:#C0282D">virus infection</text>
</svg>
</body></html>
